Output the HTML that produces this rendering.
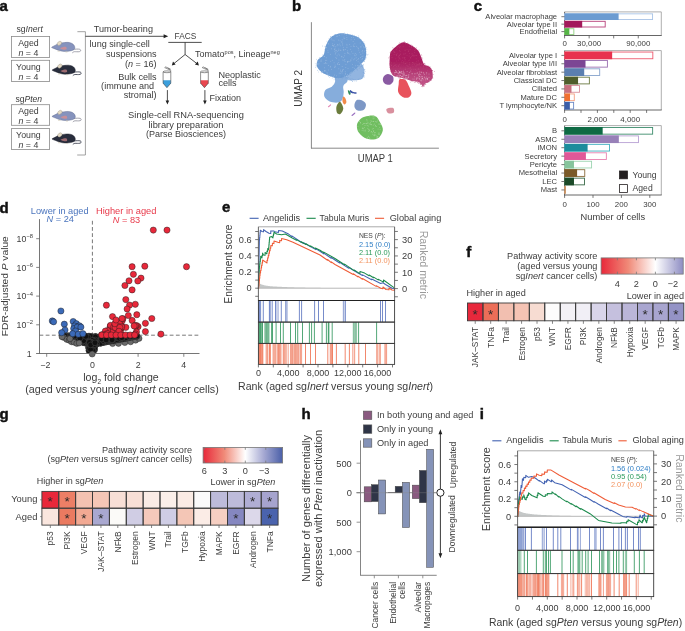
<!DOCTYPE html>
<html><head><meta charset="utf-8"><style>
html,body{margin:0;padding:0;background:#fff;width:685px;height:631px;overflow:hidden}
svg{display:block;will-change:transform}
text{font-family:"Liberation Sans",sans-serif}
</style></head><body>
<svg width="685" height="631" viewBox="0 0 685 631" font-family="Liberation Sans, sans-serif">
<rect width="685" height="631" fill="#fff"/>
<text x="-0.45" y="11.20" font-size="15" fill="#111" font-weight="bold" stroke="#111" stroke-width="0.45">a</text>
<text x="16.50" y="32.40" font-size="8.6" fill="#3c3c3c">sg<tspan font-style="italic">Inert</tspan></text>
<text x="15.40" y="101.50" font-size="8.6" fill="#3c3c3c">sg<tspan font-style="italic">Pten</tspan></text>
<rect x="11.40" y="36.50" width="38.20" height="20.90" fill="#fff" stroke="#8a8a8a" stroke-width="0.8"/>
<text x="28.40" y="46.10" font-size="8.8" fill="#3c3c3c" text-anchor="middle">Aged</text>
<text x="28.40" y="55.80" font-size="8.8" fill="#3c3c3c" text-anchor="middle"><tspan font-style="italic">n</tspan> = 4</text>
<rect x="11.40" y="60.30" width="38.20" height="21.10" fill="#fff" stroke="#8a8a8a" stroke-width="0.8"/>
<text x="28.40" y="69.90" font-size="8.8" fill="#3c3c3c" text-anchor="middle">Young</text>
<text x="28.40" y="79.60" font-size="8.8" fill="#3c3c3c" text-anchor="middle"><tspan font-style="italic">n</tspan> = 4</text>
<rect x="11.40" y="104.70" width="38.20" height="20.60" fill="#fff" stroke="#8a8a8a" stroke-width="0.8"/>
<text x="28.40" y="114.30" font-size="8.8" fill="#3c3c3c" text-anchor="middle">Aged</text>
<text x="28.40" y="124.00" font-size="8.8" fill="#3c3c3c" text-anchor="middle"><tspan font-style="italic">n</tspan> = 4</text>
<rect x="11.40" y="128.60" width="38.20" height="20.90" fill="#fff" stroke="#8a8a8a" stroke-width="0.8"/>
<text x="28.40" y="138.20" font-size="8.8" fill="#3c3c3c" text-anchor="middle">Young</text>
<text x="28.40" y="147.90" font-size="8.8" fill="#3c3c3c" text-anchor="middle"><tspan font-style="italic">n</tspan> = 4</text>
<g transform="translate(50.00,38.00)"><path d="M23.0,11.4 C25.5,11.1 28.3,10.9 29.8,11.3 C31.0,11.8 31.0,13.2 29.6,13.6 C27.8,14.0 25.6,13.6 24.4,13.7 C23.6,13.8 23.0,14.2 22.6,14.6" fill="none" stroke="#8c8c98" stroke-width="0.8" stroke-linecap="round"/><path d="M1.60,9.30 C1.75,9.00 2.83,8.54 3.47,8.19 C4.11,7.84 4.84,7.53 5.46,7.20 C6.08,6.87 6.70,6.49 7.20,6.20 C7.70,5.91 7.74,5.67 8.44,5.46 C9.14,5.25 10.42,5.11 11.41,4.96 C12.40,4.81 13.31,4.67 14.39,4.57 C15.47,4.47 16.80,4.30 17.87,4.37 C18.95,4.44 19.97,4.66 20.84,4.96 C21.71,5.26 22.48,5.70 23.08,6.20 C23.68,6.70 24.13,7.36 24.42,7.94 C24.71,8.52 24.83,9.14 24.81,9.68 C24.79,10.22 24.65,10.76 24.32,11.17 C23.99,11.58 23.57,11.86 22.83,12.16 C22.08,12.46 20.93,12.79 19.85,13.00 C18.78,13.21 17.62,13.37 16.38,13.40 C15.14,13.43 13.48,13.32 12.41,13.20 C11.34,13.08 10.76,12.92 9.93,12.70 C9.10,12.48 8.27,12.20 7.44,11.90 C6.61,11.60 5.77,11.22 4.96,10.90 C4.15,10.58 3.16,10.27 2.60,10.00 C2.04,9.73 1.46,9.60 1.60,9.30 Z" fill="#8693bd" stroke="#5f6a8c" stroke-width="0.45"/><path d="M9.9,10.2 C11.0,9.3 13.5,8.7 15.4,8.7 C16.5,9.0 16.9,10.1 16.5,11.3 C15.7,11.8 14.6,11.8 13.9,11.7 C12.6,11.5 11.0,11.0 9.9,10.2 Z" fill="#c98f98"/><ellipse cx="9.4" cy="5.3" rx="2.4" ry="1.75" transform="rotate(-38 9.4 5.3)" fill="#e6dcc6" stroke="#9a9282" stroke-width="0.4"/><path d="M7.5,13.1 L9.9,13.2 M15.4,13.9 L17.4,14.0" stroke="#d3ccb8" stroke-width="0.75"/></g>
<g transform="translate(50.50,60.80)"><path d="M23.0,11.4 C25.5,11.1 28.3,10.9 29.8,11.3 C31.0,11.8 31.0,13.2 29.6,13.6 C27.8,14.0 25.6,13.6 24.4,13.7 C23.6,13.8 23.0,14.2 22.6,14.6" fill="none" stroke="#2b3040" stroke-width="0.8" stroke-linecap="round"/><path d="M1.60,9.30 C1.75,9.00 2.83,8.54 3.47,8.19 C4.11,7.84 4.84,7.53 5.46,7.20 C6.08,6.87 6.70,6.49 7.20,6.20 C7.70,5.91 7.74,5.67 8.44,5.46 C9.14,5.25 10.42,5.11 11.41,4.96 C12.40,4.81 13.31,4.67 14.39,4.57 C15.47,4.47 16.80,4.30 17.87,4.37 C18.95,4.44 19.97,4.66 20.84,4.96 C21.71,5.26 22.48,5.70 23.08,6.20 C23.68,6.70 24.13,7.36 24.42,7.94 C24.71,8.52 24.83,9.14 24.81,9.68 C24.79,10.22 24.65,10.76 24.32,11.17 C23.99,11.58 23.57,11.86 22.83,12.16 C22.08,12.46 20.93,12.79 19.85,13.00 C18.78,13.21 17.62,13.37 16.38,13.40 C15.14,13.43 13.48,13.32 12.41,13.20 C11.34,13.08 10.76,12.92 9.93,12.70 C9.10,12.48 8.27,12.20 7.44,11.90 C6.61,11.60 5.77,11.22 4.96,10.90 C4.15,10.58 3.16,10.27 2.60,10.00 C2.04,9.73 1.46,9.60 1.60,9.30 Z" fill="#282d3c" stroke="#1b1e29" stroke-width="0.45"/><path d="M9.9,10.2 C11.0,9.3 13.5,8.7 15.4,8.7 C16.5,9.0 16.9,10.1 16.5,11.3 C15.7,11.8 14.6,11.8 13.9,11.7 C12.6,11.5 11.0,11.0 9.9,10.2 Z" fill="#9c6a70"/><ellipse cx="9.4" cy="5.3" rx="2.4" ry="1.75" transform="rotate(-38 9.4 5.3)" fill="#e6dcc6" stroke="#9a9282" stroke-width="0.4"/><path d="M7.5,13.1 L9.9,13.2 M15.4,13.9 L17.4,14.0" stroke="#d3ccb8" stroke-width="0.75"/></g>
<g transform="translate(50.50,107.10)"><path d="M23.0,11.4 C25.5,11.1 28.3,10.9 29.8,11.3 C31.0,11.8 31.0,13.2 29.6,13.6 C27.8,14.0 25.6,13.6 24.4,13.7 C23.6,13.8 23.0,14.2 22.6,14.6" fill="none" stroke="#8c8c98" stroke-width="0.8" stroke-linecap="round"/><path d="M1.60,9.30 C1.75,9.00 2.83,8.54 3.47,8.19 C4.11,7.84 4.84,7.53 5.46,7.20 C6.08,6.87 6.70,6.49 7.20,6.20 C7.70,5.91 7.74,5.67 8.44,5.46 C9.14,5.25 10.42,5.11 11.41,4.96 C12.40,4.81 13.31,4.67 14.39,4.57 C15.47,4.47 16.80,4.30 17.87,4.37 C18.95,4.44 19.97,4.66 20.84,4.96 C21.71,5.26 22.48,5.70 23.08,6.20 C23.68,6.70 24.13,7.36 24.42,7.94 C24.71,8.52 24.83,9.14 24.81,9.68 C24.79,10.22 24.65,10.76 24.32,11.17 C23.99,11.58 23.57,11.86 22.83,12.16 C22.08,12.46 20.93,12.79 19.85,13.00 C18.78,13.21 17.62,13.37 16.38,13.40 C15.14,13.43 13.48,13.32 12.41,13.20 C11.34,13.08 10.76,12.92 9.93,12.70 C9.10,12.48 8.27,12.20 7.44,11.90 C6.61,11.60 5.77,11.22 4.96,10.90 C4.15,10.58 3.16,10.27 2.60,10.00 C2.04,9.73 1.46,9.60 1.60,9.30 Z" fill="#8693bd" stroke="#5f6a8c" stroke-width="0.45"/><path d="M9.9,10.2 C11.0,9.3 13.5,8.7 15.4,8.7 C16.5,9.0 16.9,10.1 16.5,11.3 C15.7,11.8 14.6,11.8 13.9,11.7 C12.6,11.5 11.0,11.0 9.9,10.2 Z" fill="#c98f98"/><ellipse cx="9.4" cy="5.3" rx="2.4" ry="1.75" transform="rotate(-38 9.4 5.3)" fill="#e6dcc6" stroke="#9a9282" stroke-width="0.4"/><path d="M7.5,13.1 L9.9,13.2 M15.4,13.9 L17.4,14.0" stroke="#d3ccb8" stroke-width="0.75"/></g>
<g transform="translate(50.50,129.60)"><path d="M23.0,11.4 C25.5,11.1 28.3,10.9 29.8,11.3 C31.0,11.8 31.0,13.2 29.6,13.6 C27.8,14.0 25.6,13.6 24.4,13.7 C23.6,13.8 23.0,14.2 22.6,14.6" fill="none" stroke="#2b3040" stroke-width="0.8" stroke-linecap="round"/><path d="M1.60,9.30 C1.75,9.00 2.83,8.54 3.47,8.19 C4.11,7.84 4.84,7.53 5.46,7.20 C6.08,6.87 6.70,6.49 7.20,6.20 C7.70,5.91 7.74,5.67 8.44,5.46 C9.14,5.25 10.42,5.11 11.41,4.96 C12.40,4.81 13.31,4.67 14.39,4.57 C15.47,4.47 16.80,4.30 17.87,4.37 C18.95,4.44 19.97,4.66 20.84,4.96 C21.71,5.26 22.48,5.70 23.08,6.20 C23.68,6.70 24.13,7.36 24.42,7.94 C24.71,8.52 24.83,9.14 24.81,9.68 C24.79,10.22 24.65,10.76 24.32,11.17 C23.99,11.58 23.57,11.86 22.83,12.16 C22.08,12.46 20.93,12.79 19.85,13.00 C18.78,13.21 17.62,13.37 16.38,13.40 C15.14,13.43 13.48,13.32 12.41,13.20 C11.34,13.08 10.76,12.92 9.93,12.70 C9.10,12.48 8.27,12.20 7.44,11.90 C6.61,11.60 5.77,11.22 4.96,10.90 C4.15,10.58 3.16,10.27 2.60,10.00 C2.04,9.73 1.46,9.60 1.60,9.30 Z" fill="#282d3c" stroke="#1b1e29" stroke-width="0.45"/><path d="M9.9,10.2 C11.0,9.3 13.5,8.7 15.4,8.7 C16.5,9.0 16.9,10.1 16.5,11.3 C15.7,11.8 14.6,11.8 13.9,11.7 C12.6,11.5 11.0,11.0 9.9,10.2 Z" fill="#9c6a70"/><ellipse cx="9.4" cy="5.3" rx="2.4" ry="1.75" transform="rotate(-38 9.4 5.3)" fill="#e6dcc6" stroke="#9a9282" stroke-width="0.4"/><path d="M7.5,13.1 L9.9,13.2 M15.4,13.9 L17.4,14.0" stroke="#d3ccb8" stroke-width="0.75"/></g>
<path d="M77.4,31.7 H85.4 V155 H77.2" fill="none" stroke="#8a8a8a" stroke-width="0.8"/>
<line x1="85.40" y1="36.30" x2="165.50" y2="36.30" stroke="#222" stroke-width="0.8"/>
<path d="M168.2,36.3 L163.6,34.3 L163.6,38.3 Z" fill="#222"/>
<text x="93.70" y="31.90" font-size="9.1" fill="#3c3c3c">Tumor-bearing</text>
<text x="89.60" y="47.20" font-size="9.1" fill="#3c3c3c">lung single-cell</text>
<text x="156.60" y="56.80" font-size="9.1" fill="#3c3c3c" text-anchor="end">suspensions</text>
<text x="156.60" y="67.30" font-size="9.1" fill="#3c3c3c" text-anchor="end">(<tspan font-style="italic">n</tspan> = 16)</text>
<text x="156.60" y="80.40" font-size="9.1" fill="#3c3c3c" text-anchor="end">Bulk cells</text>
<text x="154.20" y="89.20" font-size="9.1" fill="#3c3c3c" text-anchor="end">(immune and</text>
<text x="156.60" y="97.60" font-size="9.1" fill="#3c3c3c" text-anchor="end">stromal)</text>
<text x="174.60" y="39.30" font-size="8.3" fill="#3c3c3c">FACS</text>
<line x1="168.30" y1="42.40" x2="201.70" y2="42.40" stroke="#222" stroke-width="0.8"/>
<line x1="185.10" y1="42.40" x2="185.10" y2="54.50" stroke="#222" stroke-width="0.8"/>
<path d="M185.1,54.5 L174.0,63.5 M185.1,54.5 L196.8,63.5" stroke="#222" stroke-width="0.8" fill="none"/>
<path d="M171.8,65.6 L173.0,61.6 L175.6,64.6 Z M198.9,65.6 L194.9,64.6 L197.8,61.6 Z" fill="#222"/>
<text x="195.10" y="57.00" font-size="9.0" fill="#3c3c3c">Tomato<tspan font-size="5.5" dy="-3.5">pos</tspan><tspan dy="3.5">, Lineage</tspan><tspan font-size="5.5" dy="-3.5">neg</tspan></text>
<text x="218.40" y="77.50" font-size="9.1" fill="#3c3c3c">Neoplastic</text>
<text x="218.40" y="85.90" font-size="9.1" fill="#3c3c3c">cells</text>
<g transform="translate(163.10,0)"><path d="M0,80.2 H7.7 V83.2 L3.85,87.7 L0,83.2 Z" fill="#3b9fdc"/><path d="M0,71.8 V83.2 L3.85,87.7 L7.7,83.2 V71.8" fill="none" stroke="#444" stroke-width="0.6"/><ellipse cx="3.85" cy="71.8" rx="3.85" ry="0.9" fill="none" stroke="#444" stroke-width="0.6"/><path d="M7.7,71.4 C7.8,70.0 6.5,68.8 4.6,68.0 M7.2,70.2 L1.6,67.6 L2.6,66.9 L7.7,69.3" fill="none" stroke="#555" stroke-width="0.6"/></g>
<g transform="translate(200.60,0)"><path d="M0,80.2 H7.7 V83.2 L3.85,87.7 L0,83.2 Z" fill="#e9474f"/><path d="M0,71.8 V83.2 L3.85,87.7 L7.7,83.2 V71.8" fill="none" stroke="#444" stroke-width="0.6"/><ellipse cx="3.85" cy="71.8" rx="3.85" ry="0.9" fill="none" stroke="#444" stroke-width="0.6"/><path d="M7.7,71.4 C7.8,70.0 6.5,68.8 4.6,68.0 M7.2,70.2 L1.6,67.6 L2.6,66.9 L7.7,69.3" fill="none" stroke="#555" stroke-width="0.6"/></g>
<line x1="167.40" y1="90.10" x2="167.40" y2="101.50" stroke="#222" stroke-width="0.8"/>
<line x1="204.90" y1="90.10" x2="204.90" y2="101.50" stroke="#222" stroke-width="0.8"/>
<path d="M167.4,104.6 L165.6,100.6 L169.2,100.6 Z M204.9,104.6 L203.1,100.6 L206.7,100.6 Z" fill="#222"/>
<text x="209.50" y="100.90" font-size="9.0" fill="#3c3c3c">Fixation</text>
<text x="186.00" y="118.30" font-size="9.3" fill="#3c3c3c" text-anchor="middle">Single-cell RNA-sequencing</text>
<text x="186.00" y="127.50" font-size="9.3" fill="#3c3c3c" text-anchor="middle">library preparation</text>
<text x="186.00" y="137.00" font-size="9.0" fill="#3c3c3c" text-anchor="middle">(Parse Biosciences)</text>
<text x="291.90" y="10.80" font-size="15" fill="#111" font-weight="bold" stroke="#111" stroke-width="0.45">b</text>
<defs><filter id="soft" x="-10%" y="-10%" width="120%" height="120%"><feGaussianBlur stdDeviation="0.55"/></filter></defs>
<path d="M360.18,63.24 C362.00,62.76 362.99,65.98 363.68,67.77 C364.36,69.55 364.60,72.09 364.30,73.94 C363.99,75.80 363.47,77.82 361.83,78.88 C360.18,79.95 356.75,80.19 354.41,80.33 C352.08,80.46 349.06,80.57 347.82,79.71 C346.59,78.85 346.18,76.69 347.00,75.18 C347.82,73.67 350.57,72.64 352.77,70.65 C354.96,68.66 358.36,63.72 360.18,63.24 Z" fill="#7fa8da" fill-opacity="0.85" filter="url(#soft)"/>
<path d="M335.47,75.18 C337.32,74.22 344.19,74.97 346.18,76.00 C348.17,77.03 347.89,79.71 347.41,81.35 C346.93,83.00 343.91,84.10 343.30,85.88 C342.68,87.67 343.88,89.80 343.71,92.06 C343.54,94.33 343.23,97.72 342.27,99.47 C341.30,101.22 340.04,102.22 337.94,102.56 C335.85,102.90 331.97,102.53 329.71,101.53 C327.44,100.54 325.07,98.51 324.35,96.59 C323.63,94.67 324.15,91.65 325.38,90.00 C326.62,88.35 330.15,88.08 331.77,86.71 C333.38,85.34 334.44,83.69 335.06,81.77 C335.68,79.84 333.62,76.14 335.47,75.18 Z" fill="#79a4d8" fill-opacity="0.9" filter="url(#soft)"/>
<path d="M344.12,33.38 C347.55,33.73 353.21,34.93 356.47,36.47 C359.73,38.02 362.07,40.25 363.68,42.65 C365.29,45.05 365.91,48.14 366.15,50.88 C366.39,53.63 365.98,56.92 365.12,59.12 C364.26,61.31 363.06,62.00 361.00,64.06 C358.94,66.12 355.24,69.48 352.77,71.47 C350.30,73.46 348.65,74.90 346.18,76.00 C343.71,77.10 340.69,78.06 337.94,78.06 C335.20,78.06 332.45,77.03 329.71,76.00 C326.96,74.97 323.60,73.50 321.47,71.88 C319.34,70.27 317.56,68.28 316.94,66.32 C316.32,64.37 316.67,62.04 317.77,60.15 C318.86,58.26 322.23,57.23 323.53,55.00 C324.83,52.77 324.56,49.51 325.59,46.77 C326.62,44.02 327.99,40.59 329.71,38.53 C331.42,36.47 333.48,35.27 335.88,34.41 C338.29,33.55 340.69,33.04 344.12,33.38 Z" fill="#6e9dd4" fill-opacity="1.0" filter="url(#soft)"/>
<defs><linearGradient id="magg" gradientUnits="userSpaceOnUse" x1="0" y1="42" x2="0" y2="87"><stop offset="0" stop-color="#a8195c"/><stop offset="0.45" stop-color="#aa1f60"/><stop offset="0.75" stop-color="#b9457c"/><stop offset="1" stop-color="#c55c8d"/></linearGradient></defs>
<path d="M404.60,42.40 C406.73,42.73 410.12,44.50 412.40,45.90 C414.68,47.30 416.82,48.85 418.30,50.80 C419.78,52.75 420.32,55.32 421.30,57.60 C422.28,59.88 422.90,63.02 424.20,64.50 C425.50,65.98 427.78,65.52 429.10,66.50 C430.42,67.48 431.52,68.60 432.10,70.40 C432.68,72.20 432.93,75.50 432.60,77.30 C432.27,79.10 431.50,80.05 430.10,81.20 C428.70,82.35 425.35,83.27 424.20,84.20 C423.05,85.13 424.02,87.13 423.20,86.80 C422.38,86.47 421.10,83.13 419.30,82.20 C417.50,81.27 414.53,81.68 412.40,81.20 C410.27,80.72 408.63,79.95 406.50,79.30 C404.37,78.65 401.88,77.97 399.60,77.30 C397.32,76.63 394.43,76.93 392.80,75.30 C391.17,73.67 390.30,70.45 389.80,67.50 C389.30,64.55 389.63,60.22 389.80,57.60 C389.97,54.98 389.82,53.60 390.80,51.80 C391.78,50.00 394.23,48.12 395.70,46.80 C397.17,45.48 398.12,44.63 399.60,43.90 C401.08,43.17 402.47,42.07 404.60,42.40 Z" fill="url(#magg)" fill-opacity="1.0" filter="url(#soft)"/>
<path d="M383.90,76.30 C384.73,75.25 386.42,73.90 387.90,73.90 C389.38,73.90 391.90,75.08 392.80,76.30 C393.70,77.52 393.80,79.80 393.30,81.20 C392.80,82.60 391.20,84.28 389.80,84.70 C388.40,85.12 386.05,84.45 384.90,83.70 C383.75,82.95 383.07,81.43 382.90,80.20 C382.73,78.97 383.07,77.35 383.90,76.30 Z" fill="#8a5aa2" fill-opacity="1.0" filter="url(#soft)"/>
<path d="M399.60,79.30 C400.73,78.60 404.02,79.02 405.50,80.00 C406.98,80.98 407.52,83.03 408.50,85.20 C409.48,87.37 411.40,90.97 411.40,93.00 C411.40,95.03 409.97,96.75 408.50,97.40 C407.03,98.05 404.32,97.80 402.60,96.90 C400.88,96.00 398.85,94.12 398.20,92.00 C397.55,89.88 398.47,86.32 398.70,84.20 C398.93,82.08 398.47,80.00 399.60,79.30 Z" fill="#e8535c" fill-opacity="1.0" filter="url(#soft)"/>
<path d="M364.71,116.77 C367.25,116.12 372.43,114.98 375.00,115.94 C377.58,116.90 378.85,120.16 380.15,122.53 C381.45,124.90 383.27,127.47 382.83,130.15 C382.38,132.83 380.15,137.15 377.47,138.59 C374.80,140.03 369.85,139.76 366.77,138.80 C363.68,137.84 360.59,135.06 358.94,132.83 C357.30,130.60 356.75,127.58 356.88,125.41 C357.02,123.25 358.46,121.30 359.77,119.86 C361.07,118.41 362.17,117.42 364.71,116.77 Z" fill="#70be60" fill-opacity="1.0" filter="url(#soft)"/>
<path d="M356.47,100.30 C357.84,99.34 361.07,100.02 362.65,100.71 C364.23,101.39 365.74,102.90 365.94,104.41 C366.15,105.92 365.26,108.74 363.88,109.77 C362.51,110.80 359.29,111.14 357.71,110.59 C356.13,110.04 354.62,108.19 354.41,106.47 C354.21,104.76 355.10,101.26 356.47,100.30 Z" fill="#7d98c6" fill-opacity="1.0" filter="url(#soft)"/>
<path d="M386.53,108.94 C387.32,108.05 391.92,107.33 393.12,107.91 C394.32,108.50 394.53,111.55 393.74,112.44 C392.95,113.34 389.59,113.85 388.38,113.27 C387.18,112.68 385.74,109.84 386.53,108.94 Z" fill="#d9909e" fill-opacity="1.0" filter="url(#soft)"/>
<path d="M343.09,96.59 C343.57,96.08 344.81,97.28 345.35,98.24 C345.90,99.20 346.56,101.33 346.38,102.36 C346.21,103.38 344.98,104.59 344.32,104.41 C343.67,104.24 342.68,102.63 342.47,101.33 C342.27,100.02 342.61,97.11 343.09,96.59 Z" fill="#f18a4a" fill-opacity="1.0" filter="url(#soft)"/>
<path d="M337.94,103.38 C338.63,102.46 339.52,101.09 340.41,101.94 C341.30,102.80 343.30,106.54 343.30,108.53 C343.30,110.52 341.44,113.13 340.41,113.89 C339.38,114.64 337.80,114.13 337.12,113.06 C336.43,112.00 336.16,109.12 336.30,107.50 C336.43,105.89 337.26,104.31 337.94,103.38 Z" fill="#6b7b3c" fill-opacity="1.0" filter="url(#soft)"/>
<path d="M350.30,90.00 C350.78,89.93 351.74,91.24 352.77,91.65 C353.80,92.06 355.92,92.13 356.47,92.47 C357.02,92.82 356.75,93.57 356.06,93.71 C355.37,93.85 353.38,93.57 352.35,93.30 C351.32,93.02 350.23,92.61 349.88,92.06 C349.54,91.51 349.82,90.07 350.30,90.00 Z" fill="#3d55a8" fill-opacity="1.0"/>
<path d="M347.82,90.62 C347.89,90.04 348.99,90.45 349.47,91.03 C349.95,91.61 350.78,93.54 350.71,94.12 C350.64,94.70 349.54,95.11 349.06,94.53 C348.58,93.95 347.76,91.20 347.82,90.62 Z" fill="#2e8a5a" fill-opacity="1.0"/>
<path d="M328.06,106.47 C328.40,105.99 330.05,104.62 330.53,104.41 C331.01,104.21 331.29,104.76 330.94,105.24 C330.60,105.72 328.95,107.09 328.47,107.30 C327.99,107.50 327.72,106.95 328.06,106.47 Z" fill="#e080b0" fill-opacity="1.0"/>
<path d="M351.53,115.12 C351.87,114.57 353.80,112.92 354.41,112.65 C355.03,112.38 355.58,112.92 355.24,113.47 C354.89,114.02 352.97,115.67 352.35,115.94 C351.74,116.22 351.19,115.67 351.53,115.12 Z" fill="#9a70c0" fill-opacity="1.0"/>
<circle cx="316.93" cy="66.81" r="0.45" fill="#6e9dd4" fill-opacity="0.6"/><circle cx="358.60" cy="62.57" r="0.45" fill="#6e9dd4" fill-opacity="0.6"/><circle cx="352.17" cy="71.80" r="0.45" fill="#6e9dd4" fill-opacity="0.6"/><circle cx="366.24" cy="47.65" r="0.45" fill="#6e9dd4" fill-opacity="0.6"/><circle cx="340.67" cy="77.12" r="0.45" fill="#6e9dd4" fill-opacity="0.6"/><circle cx="364.23" cy="70.17" r="0.45" fill="#6e9dd4" fill-opacity="0.6"/><circle cx="364.24" cy="60.94" r="0.45" fill="#6e9dd4" fill-opacity="0.6"/><circle cx="324.90" cy="73.27" r="0.45" fill="#6e9dd4" fill-opacity="0.6"/><circle cx="363.20" cy="72.62" r="0.45" fill="#6e9dd4" fill-opacity="0.6"/><circle cx="364.21" cy="46.50" r="0.45" fill="#6e9dd4" fill-opacity="0.6"/><circle cx="361.15" cy="66.39" r="0.45" fill="#6e9dd4" fill-opacity="0.6"/><circle cx="327.08" cy="44.42" r="0.45" fill="#6e9dd4" fill-opacity="0.6"/><circle cx="349.57" cy="61.00" r="0.45" fill="#6e9dd4" fill-opacity="0.6"/><circle cx="317.51" cy="70.55" r="0.45" fill="#6e9dd4" fill-opacity="0.6"/><circle cx="366.09" cy="55.89" r="0.45" fill="#6e9dd4" fill-opacity="0.6"/><circle cx="332.70" cy="36.70" r="0.45" fill="#6e9dd4" fill-opacity="0.6"/><circle cx="362.80" cy="65.22" r="0.45" fill="#6e9dd4" fill-opacity="0.6"/><circle cx="345.75" cy="78.16" r="0.45" fill="#6e9dd4" fill-opacity="0.6"/><circle cx="366.82" cy="49.18" r="0.45" fill="#6e9dd4" fill-opacity="0.6"/><circle cx="353.88" cy="79.43" r="0.45" fill="#6e9dd4" fill-opacity="0.6"/><circle cx="364.65" cy="73.16" r="0.45" fill="#6e9dd4" fill-opacity="0.6"/><circle cx="321.52" cy="57.53" r="0.45" fill="#6e9dd4" fill-opacity="0.6"/><circle cx="317.34" cy="65.52" r="0.45" fill="#6e9dd4" fill-opacity="0.6"/><circle cx="350.21" cy="58.93" r="0.45" fill="#6e9dd4" fill-opacity="0.6"/><circle cx="329.01" cy="38.59" r="0.45" fill="#6e9dd4" fill-opacity="0.6"/><circle cx="362.28" cy="62.56" r="0.45" fill="#6e9dd4" fill-opacity="0.6"/><circle cx="325.16" cy="45.98" r="0.45" fill="#6e9dd4" fill-opacity="0.6"/><circle cx="345.26" cy="76.96" r="0.45" fill="#6e9dd4" fill-opacity="0.6"/><circle cx="346.39" cy="75.47" r="0.45" fill="#6e9dd4" fill-opacity="0.6"/><circle cx="328.83" cy="76.45" r="0.45" fill="#6e9dd4" fill-opacity="0.6"/><circle cx="365.27" cy="71.14" r="0.45" fill="#6e9dd4" fill-opacity="0.6"/><circle cx="362.61" cy="76.08" r="0.45" fill="#6e9dd4" fill-opacity="0.6"/><circle cx="343.99" cy="34.02" r="0.45" fill="#6e9dd4" fill-opacity="0.6"/><circle cx="321.19" cy="58.95" r="0.45" fill="#6e9dd4" fill-opacity="0.6"/><circle cx="358.92" cy="37.54" r="0.45" fill="#6e9dd4" fill-opacity="0.6"/><circle cx="365.82" cy="53.69" r="0.45" fill="#6e9dd4" fill-opacity="0.6"/><circle cx="364.22" cy="61.34" r="0.45" fill="#6e9dd4" fill-opacity="0.6"/><circle cx="365.41" cy="49.48" r="0.45" fill="#6e9dd4" fill-opacity="0.6"/><circle cx="329.17" cy="75.41" r="0.45" fill="#6e9dd4" fill-opacity="0.6"/><circle cx="366.39" cy="57.83" r="0.45" fill="#6e9dd4" fill-opacity="0.6"/><circle cx="332.66" cy="38.56" r="0.45" fill="#6e9dd4" fill-opacity="0.6"/><circle cx="348.81" cy="73.46" r="0.45" fill="#6e9dd4" fill-opacity="0.6"/><circle cx="347.56" cy="33.74" r="0.45" fill="#6e9dd4" fill-opacity="0.6"/><circle cx="348.59" cy="77.45" r="0.45" fill="#6e9dd4" fill-opacity="0.6"/><circle cx="355.17" cy="79.39" r="0.45" fill="#6e9dd4" fill-opacity="0.6"/><circle cx="317.25" cy="61.27" r="0.45" fill="#6e9dd4" fill-opacity="0.6"/><circle cx="362.56" cy="67.39" r="0.45" fill="#6e9dd4" fill-opacity="0.6"/><circle cx="346.03" cy="37.14" r="0.45" fill="#6e9dd4" fill-opacity="0.6"/><circle cx="351.99" cy="72.65" r="0.45" fill="#6e9dd4" fill-opacity="0.6"/><circle cx="347.97" cy="75.19" r="0.45" fill="#6e9dd4" fill-opacity="0.6"/><circle cx="335.62" cy="77.10" r="0.45" fill="#6e9dd4" fill-opacity="0.6"/><circle cx="353.61" cy="70.44" r="0.45" fill="#6e9dd4" fill-opacity="0.6"/><circle cx="344.44" cy="76.38" r="0.45" fill="#6e9dd4" fill-opacity="0.6"/><circle cx="335.11" cy="34.84" r="0.45" fill="#6e9dd4" fill-opacity="0.6"/><circle cx="334.52" cy="35.98" r="0.45" fill="#6e9dd4" fill-opacity="0.6"/><circle cx="352.42" cy="81.27" r="0.45" fill="#6e9dd4" fill-opacity="0.6"/><circle cx="350.38" cy="75.23" r="0.45" fill="#6e9dd4" fill-opacity="0.6"/><circle cx="322.59" cy="70.87" r="0.45" fill="#6e9dd4" fill-opacity="0.6"/><circle cx="328.76" cy="42.93" r="0.45" fill="#6e9dd4" fill-opacity="0.6"/><circle cx="354.14" cy="71.65" r="0.45" fill="#6e9dd4" fill-opacity="0.6"/><circle cx="330.05" cy="41.61" r="0.45" fill="#6e9dd4" fill-opacity="0.6"/><circle cx="333.02" cy="36.84" r="0.45" fill="#6e9dd4" fill-opacity="0.6"/><circle cx="365.52" cy="57.69" r="0.45" fill="#6e9dd4" fill-opacity="0.6"/><circle cx="366.58" cy="54.79" r="0.45" fill="#6e9dd4" fill-opacity="0.6"/><circle cx="347.51" cy="75.95" r="0.45" fill="#6e9dd4" fill-opacity="0.6"/><circle cx="325.66" cy="73.05" r="0.45" fill="#6e9dd4" fill-opacity="0.6"/><circle cx="363.14" cy="66.74" r="0.45" fill="#6e9dd4" fill-opacity="0.6"/><circle cx="316.72" cy="59.21" r="0.45" fill="#6e9dd4" fill-opacity="0.6"/><circle cx="347.13" cy="45.95" r="0.45" fill="#6e9dd4" fill-opacity="0.6"/><circle cx="358.68" cy="63.79" r="0.45" fill="#6e9dd4" fill-opacity="0.6"/><circle cx="352.97" cy="63.87" r="0.45" fill="#6e9dd4" fill-opacity="0.6"/><circle cx="359.46" cy="64.76" r="0.45" fill="#6e9dd4" fill-opacity="0.6"/><circle cx="357.56" cy="38.34" r="0.45" fill="#6e9dd4" fill-opacity="0.6"/><circle cx="351.15" cy="66.41" r="0.45" fill="#6e9dd4" fill-opacity="0.6"/><circle cx="338.49" cy="78.61" r="0.45" fill="#6e9dd4" fill-opacity="0.6"/><circle cx="354.43" cy="35.16" r="0.45" fill="#6e9dd4" fill-opacity="0.6"/><circle cx="361.37" cy="78.34" r="0.45" fill="#6e9dd4" fill-opacity="0.6"/><circle cx="333.10" cy="76.89" r="0.45" fill="#6e9dd4" fill-opacity="0.6"/><circle cx="342.12" cy="75.77" r="0.45" fill="#6e9dd4" fill-opacity="0.6"/><circle cx="330.87" cy="75.74" r="0.45" fill="#6e9dd4" fill-opacity="0.6"/><circle cx="326.93" cy="46.38" r="0.45" fill="#6e9dd4" fill-opacity="0.6"/><circle cx="364.71" cy="48.48" r="0.45" fill="#6e9dd4" fill-opacity="0.6"/><circle cx="323.71" cy="72.42" r="0.45" fill="#6e9dd4" fill-opacity="0.6"/><circle cx="346.79" cy="77.36" r="0.45" fill="#6e9dd4" fill-opacity="0.6"/><circle cx="361.60" cy="66.32" r="0.45" fill="#6e9dd4" fill-opacity="0.6"/><circle cx="323.64" cy="56.86" r="0.45" fill="#6e9dd4" fill-opacity="0.6"/><circle cx="343.75" cy="76.84" r="0.45" fill="#6e9dd4" fill-opacity="0.6"/><circle cx="319.29" cy="69.89" r="0.45" fill="#6e9dd4" fill-opacity="0.6"/><circle cx="315.94" cy="65.85" r="0.45" fill="#6e9dd4" fill-opacity="0.6"/><circle cx="348.03" cy="34.48" r="0.45" fill="#6e9dd4" fill-opacity="0.6"/><circle cx="364.59" cy="43.22" r="0.45" fill="#6e9dd4" fill-opacity="0.6"/><circle cx="365.76" cy="53.73" r="0.45" fill="#6e9dd4" fill-opacity="0.6"/><circle cx="359.49" cy="66.83" r="0.45" fill="#6e9dd4" fill-opacity="0.6"/><circle cx="348.99" cy="80.39" r="0.45" fill="#6e9dd4" fill-opacity="0.6"/><circle cx="349.61" cy="50.45" r="0.45" fill="#6e9dd4" fill-opacity="0.6"/><circle cx="363.10" cy="43.35" r="0.45" fill="#6e9dd4" fill-opacity="0.6"/><circle cx="329.02" cy="74.78" r="0.45" fill="#6e9dd4" fill-opacity="0.6"/><circle cx="365.32" cy="48.43" r="0.45" fill="#6e9dd4" fill-opacity="0.6"/><circle cx="365.01" cy="55.70" r="0.45" fill="#6e9dd4" fill-opacity="0.6"/><circle cx="334.34" cy="77.20" r="0.45" fill="#6e9dd4" fill-opacity="0.6"/><circle cx="365.10" cy="59.50" r="0.45" fill="#6e9dd4" fill-opacity="0.6"/><circle cx="323.86" cy="73.28" r="0.45" fill="#6e9dd4" fill-opacity="0.6"/><circle cx="328.05" cy="43.48" r="0.45" fill="#6e9dd4" fill-opacity="0.6"/><circle cx="356.59" cy="36.50" r="0.45" fill="#6e9dd4" fill-opacity="0.6"/><circle cx="349.69" cy="51.35" r="0.45" fill="#6e9dd4" fill-opacity="0.6"/><circle cx="326.47" cy="44.92" r="0.45" fill="#6e9dd4" fill-opacity="0.6"/><circle cx="335.11" cy="34.58" r="0.45" fill="#6e9dd4" fill-opacity="0.6"/><circle cx="324.95" cy="73.07" r="0.45" fill="#6e9dd4" fill-opacity="0.6"/><circle cx="349.15" cy="78.73" r="0.45" fill="#6e9dd4" fill-opacity="0.6"/><circle cx="363.90" cy="41.77" r="0.45" fill="#6e9dd4" fill-opacity="0.6"/><circle cx="335.79" cy="77.68" r="0.45" fill="#6e9dd4" fill-opacity="0.6"/><circle cx="322.39" cy="54.95" r="0.45" fill="#6e9dd4" fill-opacity="0.6"/><circle cx="341.09" cy="77.61" r="0.45" fill="#6e9dd4" fill-opacity="0.6"/><circle cx="334.06" cy="79.69" r="0.45" fill="#6e9dd4" fill-opacity="0.6"/><circle cx="363.33" cy="65.15" r="0.45" fill="#6e9dd4" fill-opacity="0.6"/><circle cx="351.40" cy="73.09" r="0.45" fill="#6e9dd4" fill-opacity="0.6"/><circle cx="331.01" cy="36.75" r="0.45" fill="#6e9dd4" fill-opacity="0.6"/><circle cx="352.68" cy="70.90" r="0.45" fill="#6e9dd4" fill-opacity="0.6"/><circle cx="320.48" cy="57.65" r="0.45" fill="#6e9dd4" fill-opacity="0.6"/><circle cx="359.05" cy="78.59" r="0.45" fill="#6e9dd4" fill-opacity="0.6"/><circle cx="352.79" cy="63.77" r="0.45" fill="#6e9dd4" fill-opacity="0.6"/><circle cx="362.00" cy="78.43" r="0.45" fill="#6e9dd4" fill-opacity="0.6"/><circle cx="363.54" cy="60.14" r="0.45" fill="#6e9dd4" fill-opacity="0.6"/><circle cx="345.96" cy="74.50" r="0.45" fill="#6e9dd4" fill-opacity="0.6"/><circle cx="338.10" cy="38.25" r="0.45" fill="#6e9dd4" fill-opacity="0.6"/><circle cx="352.50" cy="34.87" r="0.45" fill="#6e9dd4" fill-opacity="0.6"/><circle cx="347.85" cy="79.40" r="0.45" fill="#6e9dd4" fill-opacity="0.6"/><circle cx="357.13" cy="37.65" r="0.45" fill="#6e9dd4" fill-opacity="0.6"/><circle cx="326.91" cy="41.16" r="0.45" fill="#6e9dd4" fill-opacity="0.6"/><circle cx="352.71" cy="81.28" r="0.45" fill="#6e9dd4" fill-opacity="0.6"/><circle cx="364.29" cy="48.79" r="0.45" fill="#6e9dd4" fill-opacity="0.6"/><circle cx="350.92" cy="78.87" r="0.45" fill="#6e9dd4" fill-opacity="0.6"/><circle cx="365.93" cy="51.29" r="0.45" fill="#6e9dd4" fill-opacity="0.6"/><circle cx="341.24" cy="77.35" r="0.45" fill="#6e9dd4" fill-opacity="0.6"/><circle cx="318.90" cy="59.31" r="0.45" fill="#6e9dd4" fill-opacity="0.6"/><circle cx="360.67" cy="39.97" r="0.45" fill="#6e9dd4" fill-opacity="0.6"/><circle cx="362.86" cy="59.51" r="0.45" fill="#6e9dd4" fill-opacity="0.6"/><circle cx="363.25" cy="76.78" r="0.45" fill="#6e9dd4" fill-opacity="0.6"/><circle cx="330.50" cy="76.47" r="0.45" fill="#6e9dd4" fill-opacity="0.6"/><circle cx="330.39" cy="37.22" r="0.45" fill="#6e9dd4" fill-opacity="0.6"/><circle cx="330.01" cy="40.39" r="0.45" fill="#6e9dd4" fill-opacity="0.6"/><circle cx="321.82" cy="71.90" r="0.45" fill="#6e9dd4" fill-opacity="0.6"/><circle cx="322.67" cy="46.00" r="0.45" fill="#6e9dd4" fill-opacity="0.6"/><circle cx="336.76" cy="76.11" r="0.45" fill="#6e9dd4" fill-opacity="0.6"/><circle cx="365.88" cy="48.38" r="0.45" fill="#6e9dd4" fill-opacity="0.6"/><circle cx="317.56" cy="64.43" r="0.45" fill="#6e9dd4" fill-opacity="0.6"/><circle cx="365.67" cy="58.80" r="0.45" fill="#6e9dd4" fill-opacity="0.6"/><circle cx="333.46" cy="38.97" r="0.45" fill="#6e9dd4" fill-opacity="0.6"/><circle cx="351.27" cy="80.57" r="0.45" fill="#6e9dd4" fill-opacity="0.6"/><circle cx="317.90" cy="64.62" r="0.45" fill="#6e9dd4" fill-opacity="0.6"/><circle cx="318.34" cy="67.28" r="0.45" fill="#6e9dd4" fill-opacity="0.6"/><circle cx="348.74" cy="74.22" r="0.45" fill="#6e9dd4" fill-opacity="0.6"/><circle cx="315.44" cy="67.21" r="0.45" fill="#6e9dd4" fill-opacity="0.6"/><circle cx="363.85" cy="45.97" r="0.45" fill="#6e9dd4" fill-opacity="0.6"/><circle cx="359.89" cy="38.67" r="0.45" fill="#6e9dd4" fill-opacity="0.6"/><circle cx="354.89" cy="81.02" r="0.45" fill="#6e9dd4" fill-opacity="0.6"/><circle cx="343.81" cy="41.77" r="0.45" fill="#6e9dd4" fill-opacity="0.6"/><circle cx="325.89" cy="46.41" r="0.45" fill="#6e9dd4" fill-opacity="0.6"/><circle cx="362.04" cy="65.41" r="0.45" fill="#6e9dd4" fill-opacity="0.6"/><circle cx="348.96" cy="72.96" r="0.45" fill="#6e9dd4" fill-opacity="0.6"/><circle cx="326.78" cy="73.34" r="0.45" fill="#6e9dd4" fill-opacity="0.6"/><circle cx="356.65" cy="68.26" r="0.45" fill="#6e9dd4" fill-opacity="0.6"/><circle cx="350.67" cy="71.00" r="0.45" fill="#6e9dd4" fill-opacity="0.6"/><circle cx="342.76" cy="76.27" r="0.45" fill="#6e9dd4" fill-opacity="0.6"/><circle cx="356.75" cy="69.36" r="0.45" fill="#6e9dd4" fill-opacity="0.6"/><circle cx="332.25" cy="36.53" r="0.45" fill="#6e9dd4" fill-opacity="0.6"/><circle cx="349.29" cy="54.38" r="0.45" fill="#6e9dd4" fill-opacity="0.6"/><circle cx="363.29" cy="43.78" r="0.45" fill="#6e9dd4" fill-opacity="0.6"/><circle cx="315.26" cy="63.84" r="0.45" fill="#6e9dd4" fill-opacity="0.6"/><circle cx="350.79" cy="72.35" r="0.45" fill="#6e9dd4" fill-opacity="0.6"/><circle cx="350.09" cy="73.48" r="0.45" fill="#6e9dd4" fill-opacity="0.6"/><circle cx="332.24" cy="78.05" r="0.45" fill="#6e9dd4" fill-opacity="0.6"/><circle cx="351.63" cy="52.03" r="0.45" fill="#6e9dd4" fill-opacity="0.6"/><circle cx="329.48" cy="77.17" r="0.45" fill="#6e9dd4" fill-opacity="0.6"/><circle cx="326.67" cy="45.49" r="0.45" fill="#6e9dd4" fill-opacity="0.6"/><circle cx="344.18" cy="34.54" r="0.45" fill="#6e9dd4" fill-opacity="0.6"/><circle cx="335.30" cy="34.57" r="0.45" fill="#6e9dd4" fill-opacity="0.6"/><circle cx="357.41" cy="58.94" r="0.45" fill="#6e9dd4" fill-opacity="0.6"/><circle cx="367.46" cy="54.91" r="0.45" fill="#6e9dd4" fill-opacity="0.6"/><circle cx="364.92" cy="57.22" r="0.45" fill="#6e9dd4" fill-opacity="0.6"/><circle cx="346.52" cy="38.18" r="0.45" fill="#6e9dd4" fill-opacity="0.6"/><circle cx="354.03" cy="38.03" r="0.45" fill="#6e9dd4" fill-opacity="0.6"/><circle cx="357.89" cy="79.59" r="0.45" fill="#6e9dd4" fill-opacity="0.6"/><circle cx="351.19" cy="52.29" r="0.45" fill="#6e9dd4" fill-opacity="0.6"/><circle cx="365.03" cy="44.89" r="0.45" fill="#6e9dd4" fill-opacity="0.6"/><circle cx="335.98" cy="77.51" r="0.45" fill="#6e9dd4" fill-opacity="0.6"/><circle cx="321.35" cy="72.76" r="0.45" fill="#6e9dd4" fill-opacity="0.6"/><circle cx="342.34" cy="77.73" r="0.45" fill="#6e9dd4" fill-opacity="0.6"/><circle cx="324.91" cy="49.39" r="0.45" fill="#6e9dd4" fill-opacity="0.6"/><circle cx="334.92" cy="34.56" r="0.45" fill="#6e9dd4" fill-opacity="0.6"/><circle cx="341.32" cy="77.05" r="0.45" fill="#6e9dd4" fill-opacity="0.6"/><circle cx="361.30" cy="39.84" r="0.45" fill="#6e9dd4" fill-opacity="0.6"/><circle cx="319.38" cy="57.56" r="0.45" fill="#6e9dd4" fill-opacity="0.6"/><circle cx="336.85" cy="36.37" r="0.45" fill="#6e9dd4" fill-opacity="0.6"/><circle cx="345.76" cy="40.79" r="0.45" fill="#6e9dd4" fill-opacity="0.6"/><circle cx="346.16" cy="38.39" r="0.45" fill="#6e9dd4" fill-opacity="0.6"/><circle cx="364.01" cy="75.89" r="0.45" fill="#6e9dd4" fill-opacity="0.6"/><circle cx="352.17" cy="79.02" r="0.45" fill="#6e9dd4" fill-opacity="0.6"/><circle cx="358.55" cy="37.70" r="0.45" fill="#6e9dd4" fill-opacity="0.6"/><circle cx="362.03" cy="41.86" r="0.45" fill="#6e9dd4" fill-opacity="0.6"/><circle cx="346.72" cy="72.26" r="0.45" fill="#6e9dd4" fill-opacity="0.6"/><circle cx="359.21" cy="68.65" r="0.45" fill="#6e9dd4" fill-opacity="0.6"/><circle cx="349.09" cy="74.55" r="0.45" fill="#6e9dd4" fill-opacity="0.6"/><circle cx="317.30" cy="60.41" r="0.45" fill="#6e9dd4" fill-opacity="0.6"/><circle cx="362.88" cy="46.96" r="0.45" fill="#6e9dd4" fill-opacity="0.6"/><circle cx="365.63" cy="54.53" r="0.45" fill="#6e9dd4" fill-opacity="0.6"/><circle cx="346.13" cy="39.07" r="0.45" fill="#6e9dd4" fill-opacity="0.6"/><circle cx="361.97" cy="42.00" r="0.45" fill="#6e9dd4" fill-opacity="0.6"/><circle cx="324.98" cy="46.78" r="0.45" fill="#6e9dd4" fill-opacity="0.6"/><circle cx="351.94" cy="36.73" r="0.45" fill="#6e9dd4" fill-opacity="0.6"/><circle cx="318.35" cy="60.02" r="0.45" fill="#6e9dd4" fill-opacity="0.6"/><circle cx="358.29" cy="35.92" r="0.45" fill="#6e9dd4" fill-opacity="0.6"/><circle cx="318.57" cy="72.00" r="0.45" fill="#6e9dd4" fill-opacity="0.6"/><circle cx="358.18" cy="37.24" r="0.45" fill="#6e9dd4" fill-opacity="0.6"/><circle cx="335.25" cy="76.12" r="0.45" fill="#6e9dd4" fill-opacity="0.6"/><circle cx="356.52" cy="80.99" r="0.45" fill="#6e9dd4" fill-opacity="0.6"/><circle cx="368.05" cy="54.13" r="0.45" fill="#6e9dd4" fill-opacity="0.6"/><circle cx="323.89" cy="55.13" r="0.45" fill="#6e9dd4" fill-opacity="0.6"/><circle cx="362.03" cy="65.35" r="0.45" fill="#6e9dd4" fill-opacity="0.6"/><circle cx="348.55" cy="73.27" r="0.45" fill="#6e9dd4" fill-opacity="0.6"/><circle cx="343.08" cy="77.54" r="0.45" fill="#6e9dd4" fill-opacity="0.6"/><circle cx="364.64" cy="75.91" r="0.45" fill="#6e9dd4" fill-opacity="0.6"/><circle cx="342.14" cy="75.92" r="0.45" fill="#6e9dd4" fill-opacity="0.6"/><circle cx="363.38" cy="64.46" r="0.45" fill="#6e9dd4" fill-opacity="0.6"/><circle cx="364.72" cy="45.06" r="0.45" fill="#6e9dd4" fill-opacity="0.6"/><circle cx="336.42" cy="34.35" r="0.45" fill="#6e9dd4" fill-opacity="0.6"/><circle cx="362.31" cy="60.15" r="0.45" fill="#6e9dd4" fill-opacity="0.6"/><circle cx="350.36" cy="71.07" r="0.45" fill="#6e9dd4" fill-opacity="0.6"/><circle cx="345.14" cy="40.56" r="0.45" fill="#6e9dd4" fill-opacity="0.6"/><circle cx="317.08" cy="65.83" r="0.45" fill="#6e9dd4" fill-opacity="0.6"/><circle cx="360.17" cy="67.58" r="0.45" fill="#6e9dd4" fill-opacity="0.6"/><circle cx="364.49" cy="69.23" r="0.45" fill="#6e9dd4" fill-opacity="0.6"/><circle cx="342.21" cy="78.85" r="0.45" fill="#6e9dd4" fill-opacity="0.6"/><circle cx="358.48" cy="79.57" r="0.45" fill="#6e9dd4" fill-opacity="0.6"/><circle cx="339.50" cy="77.59" r="0.45" fill="#6e9dd4" fill-opacity="0.6"/><circle cx="329.08" cy="75.46" r="0.45" fill="#6e9dd4" fill-opacity="0.6"/><circle cx="364.87" cy="69.51" r="0.45" fill="#6e9dd4" fill-opacity="0.6"/><circle cx="357.19" cy="69.12" r="0.45" fill="#6e9dd4" fill-opacity="0.6"/><circle cx="344.28" cy="32.92" r="0.45" fill="#6e9dd4" fill-opacity="0.6"/><circle cx="352.36" cy="71.90" r="0.45" fill="#6e9dd4" fill-opacity="0.6"/><circle cx="337.38" cy="75.78" r="0.45" fill="#6e9dd4" fill-opacity="0.6"/><circle cx="353.42" cy="36.43" r="0.45" fill="#6e9dd4" fill-opacity="0.6"/><circle cx="364.04" cy="77.19" r="0.45" fill="#6e9dd4" fill-opacity="0.6"/><circle cx="360.38" cy="66.40" r="0.45" fill="#6e9dd4" fill-opacity="0.6"/><circle cx="350.51" cy="79.65" r="0.45" fill="#6e9dd4" fill-opacity="0.6"/><circle cx="357.33" cy="69.96" r="0.45" fill="#6e9dd4" fill-opacity="0.6"/><circle cx="353.21" cy="79.88" r="0.45" fill="#6e9dd4" fill-opacity="0.6"/><circle cx="364.06" cy="73.32" r="0.45" fill="#6e9dd4" fill-opacity="0.6"/><circle cx="343.71" cy="34.01" r="0.45" fill="#6e9dd4" fill-opacity="0.6"/><circle cx="350.33" cy="72.96" r="0.45" fill="#6e9dd4" fill-opacity="0.6"/><circle cx="357.95" cy="66.28" r="0.45" fill="#6e9dd4" fill-opacity="0.6"/><circle cx="317.41" cy="63.63" r="0.45" fill="#6e9dd4" fill-opacity="0.6"/><circle cx="361.03" cy="62.94" r="0.45" fill="#6e9dd4" fill-opacity="0.6"/><circle cx="363.25" cy="72.47" r="0.45" fill="#6e9dd4" fill-opacity="0.6"/><circle cx="364.01" cy="61.36" r="0.45" fill="#6e9dd4" fill-opacity="0.6"/><circle cx="362.14" cy="43.65" r="0.45" fill="#6e9dd4" fill-opacity="0.6"/><circle cx="350.93" cy="72.58" r="0.45" fill="#6e9dd4" fill-opacity="0.6"/><circle cx="330.54" cy="36.34" r="0.45" fill="#6e9dd4" fill-opacity="0.6"/><circle cx="364.55" cy="48.81" r="0.45" fill="#6e9dd4" fill-opacity="0.6"/><circle cx="356.59" cy="67.71" r="0.45" fill="#6e9dd4" fill-opacity="0.6"/>
<circle cx="399.21" cy="43.95" r="0.45" fill="#b03a70" fill-opacity="0.6"/><circle cx="432.50" cy="70.53" r="0.45" fill="#b03a70" fill-opacity="0.6"/><circle cx="418.47" cy="83.20" r="0.45" fill="#b03a70" fill-opacity="0.6"/><circle cx="431.03" cy="70.23" r="0.45" fill="#b03a70" fill-opacity="0.6"/><circle cx="416.03" cy="49.79" r="0.45" fill="#b03a70" fill-opacity="0.6"/><circle cx="395.44" cy="75.77" r="0.45" fill="#b03a70" fill-opacity="0.6"/><circle cx="404.38" cy="79.38" r="0.45" fill="#b03a70" fill-opacity="0.6"/><circle cx="416.08" cy="81.81" r="0.45" fill="#b03a70" fill-opacity="0.6"/><circle cx="398.80" cy="44.11" r="0.45" fill="#b03a70" fill-opacity="0.6"/><circle cx="398.32" cy="44.65" r="0.45" fill="#b03a70" fill-opacity="0.6"/><circle cx="392.20" cy="72.45" r="0.45" fill="#b03a70" fill-opacity="0.6"/><circle cx="417.89" cy="82.41" r="0.45" fill="#b03a70" fill-opacity="0.6"/><circle cx="413.72" cy="47.25" r="0.45" fill="#b03a70" fill-opacity="0.6"/><circle cx="419.93" cy="83.21" r="0.45" fill="#b03a70" fill-opacity="0.6"/><circle cx="389.10" cy="57.64" r="0.45" fill="#b03a70" fill-opacity="0.6"/><circle cx="412.42" cy="45.37" r="0.45" fill="#b03a70" fill-opacity="0.6"/><circle cx="422.67" cy="58.84" r="0.45" fill="#b03a70" fill-opacity="0.6"/><circle cx="431.07" cy="68.69" r="0.45" fill="#b03a70" fill-opacity="0.6"/><circle cx="415.08" cy="82.21" r="0.45" fill="#b03a70" fill-opacity="0.6"/><circle cx="396.93" cy="45.65" r="0.45" fill="#b03a70" fill-opacity="0.6"/><circle cx="388.87" cy="58.07" r="0.45" fill="#b03a70" fill-opacity="0.6"/><circle cx="397.59" cy="45.51" r="0.45" fill="#b03a70" fill-opacity="0.6"/><circle cx="429.94" cy="67.65" r="0.45" fill="#b03a70" fill-opacity="0.6"/><circle cx="420.31" cy="83.75" r="0.45" fill="#b03a70" fill-opacity="0.6"/><circle cx="424.85" cy="63.32" r="0.45" fill="#b03a70" fill-opacity="0.6"/><circle cx="394.56" cy="75.49" r="0.45" fill="#b03a70" fill-opacity="0.6"/><circle cx="420.69" cy="59.03" r="0.45" fill="#b03a70" fill-opacity="0.6"/><circle cx="418.39" cy="81.88" r="0.45" fill="#b03a70" fill-opacity="0.6"/><circle cx="417.46" cy="82.12" r="0.45" fill="#b03a70" fill-opacity="0.6"/><circle cx="399.84" cy="45.03" r="0.45" fill="#b03a70" fill-opacity="0.6"/><circle cx="429.65" cy="81.83" r="0.45" fill="#b03a70" fill-opacity="0.6"/><circle cx="420.33" cy="82.93" r="0.45" fill="#b03a70" fill-opacity="0.6"/><circle cx="422.82" cy="86.15" r="0.45" fill="#b03a70" fill-opacity="0.6"/><circle cx="413.32" cy="47.56" r="0.45" fill="#b03a70" fill-opacity="0.6"/><circle cx="404.48" cy="42.35" r="0.45" fill="#b03a70" fill-opacity="0.6"/><circle cx="389.95" cy="64.88" r="0.45" fill="#b03a70" fill-opacity="0.6"/><circle cx="390.58" cy="52.11" r="0.45" fill="#b03a70" fill-opacity="0.6"/><circle cx="429.99" cy="66.82" r="0.45" fill="#b03a70" fill-opacity="0.6"/><circle cx="426.77" cy="65.55" r="0.45" fill="#b03a70" fill-opacity="0.6"/><circle cx="427.72" cy="82.51" r="0.45" fill="#b03a70" fill-opacity="0.6"/><circle cx="404.44" cy="42.08" r="0.45" fill="#b03a70" fill-opacity="0.6"/><circle cx="394.03" cy="49.14" r="0.45" fill="#b03a70" fill-opacity="0.6"/><circle cx="432.44" cy="77.94" r="0.45" fill="#b03a70" fill-opacity="0.6"/><circle cx="407.79" cy="44.06" r="0.45" fill="#b03a70" fill-opacity="0.6"/><circle cx="419.76" cy="57.16" r="0.45" fill="#b03a70" fill-opacity="0.6"/><circle cx="425.23" cy="65.21" r="0.45" fill="#b03a70" fill-opacity="0.6"/><circle cx="402.98" cy="42.54" r="0.45" fill="#b03a70" fill-opacity="0.6"/><circle cx="422.56" cy="82.77" r="0.45" fill="#b03a70" fill-opacity="0.6"/><circle cx="392.00" cy="69.77" r="0.45" fill="#b03a70" fill-opacity="0.6"/><circle cx="398.81" cy="76.78" r="0.45" fill="#b03a70" fill-opacity="0.6"/><circle cx="421.84" cy="59.12" r="0.45" fill="#b03a70" fill-opacity="0.6"/><circle cx="425.81" cy="84.22" r="0.45" fill="#b03a70" fill-opacity="0.6"/><circle cx="403.39" cy="77.00" r="0.45" fill="#b03a70" fill-opacity="0.6"/><circle cx="424.04" cy="85.76" r="0.45" fill="#b03a70" fill-opacity="0.6"/><circle cx="389.77" cy="67.86" r="0.45" fill="#b03a70" fill-opacity="0.6"/><circle cx="432.56" cy="76.30" r="0.45" fill="#b03a70" fill-opacity="0.6"/><circle cx="410.57" cy="82.10" r="0.45" fill="#b03a70" fill-opacity="0.6"/><circle cx="405.54" cy="42.36" r="0.45" fill="#b03a70" fill-opacity="0.6"/><circle cx="390.85" cy="53.96" r="0.45" fill="#b03a70" fill-opacity="0.6"/><circle cx="407.87" cy="43.03" r="0.45" fill="#b03a70" fill-opacity="0.6"/><circle cx="422.69" cy="86.84" r="0.45" fill="#b03a70" fill-opacity="0.6"/><circle cx="395.36" cy="47.37" r="0.45" fill="#b03a70" fill-opacity="0.6"/><circle cx="424.12" cy="63.53" r="0.45" fill="#b03a70" fill-opacity="0.6"/><circle cx="405.49" cy="43.28" r="0.45" fill="#b03a70" fill-opacity="0.6"/><circle cx="416.49" cy="49.06" r="0.45" fill="#b03a70" fill-opacity="0.6"/><circle cx="395.08" cy="49.64" r="0.45" fill="#b03a70" fill-opacity="0.6"/><circle cx="391.98" cy="53.00" r="0.45" fill="#b03a70" fill-opacity="0.6"/><circle cx="411.86" cy="81.32" r="0.45" fill="#b03a70" fill-opacity="0.6"/><circle cx="418.99" cy="49.93" r="0.45" fill="#b03a70" fill-opacity="0.6"/><circle cx="420.38" cy="55.99" r="0.45" fill="#b03a70" fill-opacity="0.6"/><circle cx="421.95" cy="57.54" r="0.45" fill="#b03a70" fill-opacity="0.6"/><circle cx="423.75" cy="85.10" r="0.45" fill="#b03a70" fill-opacity="0.6"/><circle cx="425.74" cy="84.34" r="0.45" fill="#b03a70" fill-opacity="0.6"/><circle cx="419.56" cy="82.79" r="0.45" fill="#b03a70" fill-opacity="0.6"/><circle cx="424.29" cy="85.95" r="0.45" fill="#b03a70" fill-opacity="0.6"/><circle cx="403.56" cy="78.72" r="0.45" fill="#b03a70" fill-opacity="0.6"/><circle cx="415.86" cy="49.90" r="0.45" fill="#b03a70" fill-opacity="0.6"/><circle cx="419.85" cy="55.44" r="0.45" fill="#b03a70" fill-opacity="0.6"/><circle cx="389.95" cy="63.57" r="0.45" fill="#b03a70" fill-opacity="0.6"/><circle cx="408.20" cy="44.23" r="0.45" fill="#b03a70" fill-opacity="0.6"/><circle cx="430.53" cy="69.31" r="0.45" fill="#b03a70" fill-opacity="0.6"/><circle cx="390.34" cy="64.72" r="0.45" fill="#b03a70" fill-opacity="0.6"/><circle cx="432.62" cy="77.29" r="0.45" fill="#b03a70" fill-opacity="0.6"/><circle cx="401.29" cy="42.88" r="0.45" fill="#b03a70" fill-opacity="0.6"/><circle cx="390.13" cy="52.56" r="0.45" fill="#b03a70" fill-opacity="0.6"/><circle cx="407.82" cy="78.71" r="0.45" fill="#b03a70" fill-opacity="0.6"/><circle cx="400.84" cy="77.60" r="0.45" fill="#b03a70" fill-opacity="0.6"/><circle cx="427.16" cy="82.36" r="0.45" fill="#b03a70" fill-opacity="0.6"/><circle cx="399.93" cy="43.76" r="0.45" fill="#b03a70" fill-opacity="0.6"/><circle cx="397.86" cy="45.43" r="0.45" fill="#b03a70" fill-opacity="0.6"/><circle cx="427.61" cy="66.51" r="0.45" fill="#b03a70" fill-opacity="0.6"/><circle cx="421.42" cy="86.47" r="0.45" fill="#b03a70" fill-opacity="0.6"/><circle cx="391.43" cy="51.51" r="0.45" fill="#b03a70" fill-opacity="0.6"/><circle cx="431.20" cy="80.45" r="0.45" fill="#b03a70" fill-opacity="0.6"/><circle cx="396.60" cy="46.79" r="0.45" fill="#b03a70" fill-opacity="0.6"/><circle cx="420.55" cy="84.45" r="0.45" fill="#b03a70" fill-opacity="0.6"/><circle cx="434.41" cy="71.55" r="0.45" fill="#b03a70" fill-opacity="0.6"/><circle cx="432.54" cy="70.66" r="0.45" fill="#b03a70" fill-opacity="0.6"/><circle cx="428.02" cy="65.35" r="0.45" fill="#b03a70" fill-opacity="0.6"/><circle cx="432.64" cy="70.85" r="0.45" fill="#b03a70" fill-opacity="0.6"/><circle cx="411.03" cy="80.43" r="0.45" fill="#b03a70" fill-opacity="0.6"/><circle cx="400.72" cy="77.91" r="0.45" fill="#b03a70" fill-opacity="0.6"/><circle cx="399.40" cy="78.40" r="0.45" fill="#b03a70" fill-opacity="0.6"/><circle cx="411.00" cy="44.59" r="0.45" fill="#b03a70" fill-opacity="0.6"/><circle cx="392.86" cy="47.78" r="0.45" fill="#b03a70" fill-opacity="0.6"/><circle cx="404.16" cy="41.51" r="0.45" fill="#b03a70" fill-opacity="0.6"/><circle cx="430.42" cy="79.35" r="0.45" fill="#b03a70" fill-opacity="0.6"/><circle cx="421.73" cy="84.19" r="0.45" fill="#b03a70" fill-opacity="0.6"/><circle cx="430.42" cy="79.39" r="0.45" fill="#b03a70" fill-opacity="0.6"/><circle cx="424.95" cy="83.76" r="0.45" fill="#b03a70" fill-opacity="0.6"/><circle cx="402.17" cy="77.06" r="0.45" fill="#b03a70" fill-opacity="0.6"/><circle cx="402.56" cy="43.50" r="0.45" fill="#b03a70" fill-opacity="0.6"/><circle cx="421.01" cy="57.75" r="0.45" fill="#b03a70" fill-opacity="0.6"/><circle cx="433.10" cy="74.53" r="0.45" fill="#b03a70" fill-opacity="0.6"/><circle cx="389.88" cy="56.43" r="0.45" fill="#b03a70" fill-opacity="0.6"/><circle cx="414.26" cy="82.59" r="0.45" fill="#b03a70" fill-opacity="0.6"/><circle cx="432.93" cy="78.00" r="0.45" fill="#b03a70" fill-opacity="0.6"/><circle cx="422.66" cy="61.98" r="0.45" fill="#b03a70" fill-opacity="0.6"/><circle cx="428.39" cy="82.09" r="0.45" fill="#b03a70" fill-opacity="0.6"/><circle cx="399.46" cy="76.71" r="0.45" fill="#b03a70" fill-opacity="0.6"/><circle cx="392.28" cy="51.61" r="0.45" fill="#b03a70" fill-opacity="0.6"/><circle cx="391.58" cy="57.82" r="0.45" fill="#b03a70" fill-opacity="0.6"/><circle cx="398.99" cy="77.76" r="0.45" fill="#b03a70" fill-opacity="0.6"/><circle cx="399.87" cy="42.74" r="0.45" fill="#b03a70" fill-opacity="0.6"/><circle cx="425.10" cy="64.22" r="0.45" fill="#b03a70" fill-opacity="0.6"/><circle cx="403.03" cy="79.21" r="0.45" fill="#b03a70" fill-opacity="0.6"/><circle cx="426.82" cy="66.29" r="0.45" fill="#b03a70" fill-opacity="0.6"/><circle cx="431.55" cy="78.72" r="0.45" fill="#b03a70" fill-opacity="0.6"/><circle cx="400.56" cy="78.09" r="0.45" fill="#b03a70" fill-opacity="0.6"/><circle cx="427.64" cy="81.77" r="0.45" fill="#b03a70" fill-opacity="0.6"/><circle cx="390.85" cy="71.18" r="0.45" fill="#b03a70" fill-opacity="0.6"/><circle cx="418.02" cy="82.70" r="0.45" fill="#b03a70" fill-opacity="0.6"/><circle cx="421.80" cy="55.75" r="0.45" fill="#b03a70" fill-opacity="0.6"/><circle cx="426.28" cy="66.33" r="0.45" fill="#b03a70" fill-opacity="0.6"/><circle cx="406.76" cy="43.39" r="0.45" fill="#b03a70" fill-opacity="0.6"/><circle cx="396.41" cy="46.90" r="0.45" fill="#b03a70" fill-opacity="0.6"/><circle cx="398.11" cy="77.85" r="0.45" fill="#b03a70" fill-opacity="0.6"/><circle cx="390.71" cy="56.02" r="0.45" fill="#b03a70" fill-opacity="0.6"/><circle cx="421.27" cy="54.58" r="0.45" fill="#b03a70" fill-opacity="0.6"/><circle cx="423.70" cy="83.91" r="0.45" fill="#b03a70" fill-opacity="0.6"/><circle cx="395.30" cy="76.19" r="0.45" fill="#b03a70" fill-opacity="0.6"/><circle cx="405.41" cy="79.46" r="0.45" fill="#b03a70" fill-opacity="0.6"/><circle cx="416.16" cy="47.67" r="0.45" fill="#b03a70" fill-opacity="0.6"/><circle cx="430.00" cy="78.90" r="0.45" fill="#b03a70" fill-opacity="0.6"/><circle cx="405.39" cy="43.94" r="0.45" fill="#b03a70" fill-opacity="0.6"/><circle cx="391.17" cy="69.54" r="0.45" fill="#b03a70" fill-opacity="0.6"/><circle cx="399.40" cy="76.91" r="0.45" fill="#b03a70" fill-opacity="0.6"/><circle cx="415.86" cy="81.74" r="0.45" fill="#b03a70" fill-opacity="0.6"/><circle cx="420.72" cy="83.53" r="0.45" fill="#b03a70" fill-opacity="0.6"/><circle cx="424.17" cy="63.61" r="0.45" fill="#b03a70" fill-opacity="0.6"/><circle cx="422.49" cy="85.83" r="0.45" fill="#b03a70" fill-opacity="0.6"/><circle cx="390.29" cy="61.71" r="0.45" fill="#b03a70" fill-opacity="0.6"/><circle cx="420.32" cy="84.42" r="0.45" fill="#b03a70" fill-opacity="0.6"/><circle cx="423.21" cy="85.15" r="0.45" fill="#b03a70" fill-opacity="0.6"/><circle cx="424.68" cy="84.21" r="0.45" fill="#b03a70" fill-opacity="0.6"/><circle cx="390.13" cy="69.66" r="0.45" fill="#b03a70" fill-opacity="0.6"/><circle cx="424.37" cy="84.48" r="0.45" fill="#b03a70" fill-opacity="0.6"/><circle cx="414.08" cy="47.62" r="0.45" fill="#b03a70" fill-opacity="0.6"/><circle cx="391.02" cy="51.63" r="0.45" fill="#b03a70" fill-opacity="0.6"/><circle cx="431.33" cy="76.26" r="0.45" fill="#b03a70" fill-opacity="0.6"/>
<circle cx="343.69" cy="50.18" r="0.5" fill="#ffffff" fill-opacity="0.22"/><circle cx="324.18" cy="63.48" r="0.5" fill="#ffffff" fill-opacity="0.22"/><circle cx="350.85" cy="72.53" r="0.5" fill="#ffffff" fill-opacity="0.22"/><circle cx="348.12" cy="61.32" r="0.5" fill="#ffffff" fill-opacity="0.22"/><circle cx="325.50" cy="63.03" r="0.5" fill="#ffffff" fill-opacity="0.22"/><circle cx="359.71" cy="52.22" r="0.5" fill="#ffffff" fill-opacity="0.22"/><circle cx="351.89" cy="71.92" r="0.5" fill="#ffffff" fill-opacity="0.22"/><circle cx="345.40" cy="74.21" r="0.5" fill="#ffffff" fill-opacity="0.22"/><circle cx="341.44" cy="56.71" r="0.5" fill="#ffffff" fill-opacity="0.22"/><circle cx="337.66" cy="64.47" r="0.5" fill="#ffffff" fill-opacity="0.22"/><circle cx="336.85" cy="36.39" r="0.5" fill="#ffffff" fill-opacity="0.22"/><circle cx="350.40" cy="59.92" r="0.5" fill="#ffffff" fill-opacity="0.22"/><circle cx="324.58" cy="67.78" r="0.5" fill="#ffffff" fill-opacity="0.22"/><circle cx="343.95" cy="37.09" r="0.5" fill="#ffffff" fill-opacity="0.22"/><circle cx="340.18" cy="73.40" r="0.5" fill="#ffffff" fill-opacity="0.22"/><circle cx="347.79" cy="52.46" r="0.5" fill="#ffffff" fill-opacity="0.22"/><circle cx="317.40" cy="63.29" r="0.5" fill="#ffffff" fill-opacity="0.22"/><circle cx="340.18" cy="45.69" r="0.5" fill="#ffffff" fill-opacity="0.22"/><circle cx="344.94" cy="53.52" r="0.5" fill="#ffffff" fill-opacity="0.22"/><circle cx="334.95" cy="66.77" r="0.5" fill="#ffffff" fill-opacity="0.22"/><circle cx="351.13" cy="39.85" r="0.5" fill="#ffffff" fill-opacity="0.22"/><circle cx="354.31" cy="46.48" r="0.5" fill="#ffffff" fill-opacity="0.22"/><circle cx="344.37" cy="55.64" r="0.5" fill="#ffffff" fill-opacity="0.22"/><circle cx="349.89" cy="73.15" r="0.5" fill="#ffffff" fill-opacity="0.22"/><circle cx="360.41" cy="64.06" r="0.5" fill="#ffffff" fill-opacity="0.22"/><circle cx="347.36" cy="50.76" r="0.5" fill="#ffffff" fill-opacity="0.22"/><circle cx="332.32" cy="60.19" r="0.5" fill="#ffffff" fill-opacity="0.22"/><circle cx="346.91" cy="47.51" r="0.5" fill="#ffffff" fill-opacity="0.22"/><circle cx="340.06" cy="40.82" r="0.5" fill="#ffffff" fill-opacity="0.22"/><circle cx="356.40" cy="54.69" r="0.5" fill="#ffffff" fill-opacity="0.22"/><circle cx="355.23" cy="53.61" r="0.5" fill="#ffffff" fill-opacity="0.22"/><circle cx="330.32" cy="67.10" r="0.5" fill="#ffffff" fill-opacity="0.22"/><circle cx="333.37" cy="45.89" r="0.5" fill="#ffffff" fill-opacity="0.22"/><circle cx="347.54" cy="62.47" r="0.5" fill="#ffffff" fill-opacity="0.22"/><circle cx="356.40" cy="60.19" r="0.5" fill="#ffffff" fill-opacity="0.22"/><circle cx="357.91" cy="59.50" r="0.5" fill="#ffffff" fill-opacity="0.22"/><circle cx="336.00" cy="50.19" r="0.5" fill="#ffffff" fill-opacity="0.22"/><circle cx="354.90" cy="43.85" r="0.5" fill="#ffffff" fill-opacity="0.22"/><circle cx="339.15" cy="64.15" r="0.5" fill="#ffffff" fill-opacity="0.22"/><circle cx="332.76" cy="45.36" r="0.5" fill="#ffffff" fill-opacity="0.22"/><circle cx="354.50" cy="68.37" r="0.5" fill="#ffffff" fill-opacity="0.22"/><circle cx="331.14" cy="39.67" r="0.5" fill="#ffffff" fill-opacity="0.22"/><circle cx="356.17" cy="57.86" r="0.5" fill="#ffffff" fill-opacity="0.22"/><circle cx="355.18" cy="55.72" r="0.5" fill="#ffffff" fill-opacity="0.22"/><circle cx="343.25" cy="57.51" r="0.5" fill="#ffffff" fill-opacity="0.22"/><circle cx="340.80" cy="50.44" r="0.5" fill="#ffffff" fill-opacity="0.22"/><circle cx="355.70" cy="65.65" r="0.5" fill="#ffffff" fill-opacity="0.22"/><circle cx="335.89" cy="57.53" r="0.5" fill="#ffffff" fill-opacity="0.22"/><circle cx="343.32" cy="49.25" r="0.5" fill="#ffffff" fill-opacity="0.22"/><circle cx="342.58" cy="44.98" r="0.5" fill="#ffffff" fill-opacity="0.22"/><circle cx="357.95" cy="47.72" r="0.5" fill="#ffffff" fill-opacity="0.22"/><circle cx="341.85" cy="42.40" r="0.5" fill="#ffffff" fill-opacity="0.22"/><circle cx="356.60" cy="46.33" r="0.5" fill="#ffffff" fill-opacity="0.22"/><circle cx="345.38" cy="49.42" r="0.5" fill="#ffffff" fill-opacity="0.22"/><circle cx="329.06" cy="74.60" r="0.5" fill="#ffffff" fill-opacity="0.22"/><circle cx="341.21" cy="72.09" r="0.5" fill="#ffffff" fill-opacity="0.22"/><circle cx="335.23" cy="54.09" r="0.5" fill="#ffffff" fill-opacity="0.22"/><circle cx="346.82" cy="37.59" r="0.5" fill="#ffffff" fill-opacity="0.22"/><circle cx="327.01" cy="72.29" r="0.5" fill="#ffffff" fill-opacity="0.22"/><circle cx="344.77" cy="59.60" r="0.5" fill="#ffffff" fill-opacity="0.22"/><circle cx="327.45" cy="74.73" r="0.5" fill="#ffffff" fill-opacity="0.22"/><circle cx="338.93" cy="59.88" r="0.5" fill="#ffffff" fill-opacity="0.22"/><circle cx="346.90" cy="39.23" r="0.5" fill="#ffffff" fill-opacity="0.22"/><circle cx="358.46" cy="48.52" r="0.5" fill="#ffffff" fill-opacity="0.22"/><circle cx="365.88" cy="50.28" r="0.5" fill="#ffffff" fill-opacity="0.22"/><circle cx="335.13" cy="64.91" r="0.5" fill="#ffffff" fill-opacity="0.22"/><circle cx="340.90" cy="71.16" r="0.5" fill="#ffffff" fill-opacity="0.22"/><circle cx="351.70" cy="37.40" r="0.5" fill="#ffffff" fill-opacity="0.22"/><circle cx="332.62" cy="43.80" r="0.5" fill="#ffffff" fill-opacity="0.22"/><circle cx="341.87" cy="41.54" r="0.5" fill="#ffffff" fill-opacity="0.22"/><circle cx="358.75" cy="49.95" r="0.5" fill="#ffffff" fill-opacity="0.22"/><circle cx="328.51" cy="65.58" r="0.5" fill="#ffffff" fill-opacity="0.22"/><circle cx="344.15" cy="34.62" r="0.5" fill="#ffffff" fill-opacity="0.22"/><circle cx="362.17" cy="44.91" r="0.5" fill="#ffffff" fill-opacity="0.22"/><circle cx="342.20" cy="66.43" r="0.5" fill="#ffffff" fill-opacity="0.22"/><circle cx="354.42" cy="54.98" r="0.5" fill="#ffffff" fill-opacity="0.22"/><circle cx="353.76" cy="59.73" r="0.5" fill="#ffffff" fill-opacity="0.22"/><circle cx="338.66" cy="62.54" r="0.5" fill="#ffffff" fill-opacity="0.22"/><circle cx="340.10" cy="49.99" r="0.5" fill="#ffffff" fill-opacity="0.22"/><circle cx="336.13" cy="50.14" r="0.5" fill="#ffffff" fill-opacity="0.22"/><circle cx="335.62" cy="53.10" r="0.5" fill="#ffffff" fill-opacity="0.22"/><circle cx="360.84" cy="54.29" r="0.5" fill="#ffffff" fill-opacity="0.22"/><circle cx="324.66" cy="70.59" r="0.5" fill="#ffffff" fill-opacity="0.22"/><circle cx="320.77" cy="61.02" r="0.5" fill="#ffffff" fill-opacity="0.22"/><circle cx="335.30" cy="66.85" r="0.5" fill="#ffffff" fill-opacity="0.22"/><circle cx="362.50" cy="50.59" r="0.5" fill="#ffffff" fill-opacity="0.22"/><circle cx="364.79" cy="47.79" r="0.5" fill="#ffffff" fill-opacity="0.22"/><circle cx="334.95" cy="48.21" r="0.5" fill="#ffffff" fill-opacity="0.22"/><circle cx="353.16" cy="41.44" r="0.5" fill="#ffffff" fill-opacity="0.22"/><circle cx="339.15" cy="73.12" r="0.5" fill="#ffffff" fill-opacity="0.22"/><circle cx="338.54" cy="40.06" r="0.5" fill="#ffffff" fill-opacity="0.22"/><circle cx="337.52" cy="44.41" r="0.5" fill="#ffffff" fill-opacity="0.22"/><circle cx="331.53" cy="69.31" r="0.5" fill="#ffffff" fill-opacity="0.22"/><circle cx="339.39" cy="54.94" r="0.5" fill="#ffffff" fill-opacity="0.22"/><circle cx="324.49" cy="56.32" r="0.5" fill="#ffffff" fill-opacity="0.22"/><circle cx="347.99" cy="68.57" r="0.5" fill="#ffffff" fill-opacity="0.22"/><circle cx="362.47" cy="58.40" r="0.5" fill="#ffffff" fill-opacity="0.22"/><circle cx="358.04" cy="38.71" r="0.5" fill="#ffffff" fill-opacity="0.22"/><circle cx="338.20" cy="45.07" r="0.5" fill="#ffffff" fill-opacity="0.22"/><circle cx="328.69" cy="44.02" r="0.5" fill="#ffffff" fill-opacity="0.22"/><circle cx="336.14" cy="51.95" r="0.5" fill="#ffffff" fill-opacity="0.22"/><circle cx="324.92" cy="70.57" r="0.5" fill="#ffffff" fill-opacity="0.22"/><circle cx="348.42" cy="53.14" r="0.5" fill="#ffffff" fill-opacity="0.22"/><circle cx="341.93" cy="56.20" r="0.5" fill="#ffffff" fill-opacity="0.22"/><circle cx="338.74" cy="68.66" r="0.5" fill="#ffffff" fill-opacity="0.22"/><circle cx="363.38" cy="46.18" r="0.5" fill="#ffffff" fill-opacity="0.22"/><circle cx="337.06" cy="45.75" r="0.5" fill="#ffffff" fill-opacity="0.22"/><circle cx="325.83" cy="71.06" r="0.5" fill="#ffffff" fill-opacity="0.22"/><circle cx="342.61" cy="43.68" r="0.5" fill="#ffffff" fill-opacity="0.22"/><circle cx="325.58" cy="60.22" r="0.5" fill="#ffffff" fill-opacity="0.22"/><circle cx="352.90" cy="67.40" r="0.5" fill="#ffffff" fill-opacity="0.22"/><circle cx="349.91" cy="61.46" r="0.5" fill="#ffffff" fill-opacity="0.22"/><circle cx="326.40" cy="47.15" r="0.5" fill="#ffffff" fill-opacity="0.22"/><circle cx="317.44" cy="64.31" r="0.5" fill="#ffffff" fill-opacity="0.22"/><circle cx="342.51" cy="70.96" r="0.5" fill="#ffffff" fill-opacity="0.22"/><circle cx="362.03" cy="56.55" r="0.5" fill="#ffffff" fill-opacity="0.22"/><circle cx="334.05" cy="45.97" r="0.5" fill="#ffffff" fill-opacity="0.22"/><circle cx="354.49" cy="39.34" r="0.5" fill="#ffffff" fill-opacity="0.22"/><circle cx="349.69" cy="44.48" r="0.5" fill="#ffffff" fill-opacity="0.22"/><circle cx="318.75" cy="64.76" r="0.5" fill="#ffffff" fill-opacity="0.22"/><circle cx="345.23" cy="71.72" r="0.5" fill="#ffffff" fill-opacity="0.22"/><circle cx="334.47" cy="75.03" r="0.5" fill="#ffffff" fill-opacity="0.22"/><circle cx="334.49" cy="44.32" r="0.5" fill="#ffffff" fill-opacity="0.22"/><circle cx="345.30" cy="73.51" r="0.5" fill="#ffffff" fill-opacity="0.22"/><circle cx="331.29" cy="38.19" r="0.5" fill="#ffffff" fill-opacity="0.22"/><circle cx="352.91" cy="53.33" r="0.5" fill="#ffffff" fill-opacity="0.22"/><circle cx="321.30" cy="61.04" r="0.5" fill="#ffffff" fill-opacity="0.22"/><circle cx="344.27" cy="76.07" r="0.5" fill="#ffffff" fill-opacity="0.22"/><circle cx="353.29" cy="45.06" r="0.5" fill="#ffffff" fill-opacity="0.22"/><circle cx="358.14" cy="61.84" r="0.5" fill="#ffffff" fill-opacity="0.22"/><circle cx="339.77" cy="44.03" r="0.5" fill="#ffffff" fill-opacity="0.22"/><circle cx="338.80" cy="49.05" r="0.5" fill="#ffffff" fill-opacity="0.22"/><circle cx="330.38" cy="54.15" r="0.5" fill="#ffffff" fill-opacity="0.22"/><circle cx="345.77" cy="67.41" r="0.5" fill="#ffffff" fill-opacity="0.22"/><circle cx="360.46" cy="57.58" r="0.5" fill="#ffffff" fill-opacity="0.22"/><circle cx="328.13" cy="43.53" r="0.5" fill="#ffffff" fill-opacity="0.22"/><circle cx="349.85" cy="54.03" r="0.5" fill="#ffffff" fill-opacity="0.22"/><circle cx="336.46" cy="75.75" r="0.5" fill="#ffffff" fill-opacity="0.22"/><circle cx="317.85" cy="61.75" r="0.5" fill="#ffffff" fill-opacity="0.22"/><circle cx="351.08" cy="60.06" r="0.5" fill="#ffffff" fill-opacity="0.22"/><circle cx="346.60" cy="35.00" r="0.5" fill="#ffffff" fill-opacity="0.22"/><circle cx="334.82" cy="51.29" r="0.5" fill="#ffffff" fill-opacity="0.22"/><circle cx="358.21" cy="65.35" r="0.5" fill="#ffffff" fill-opacity="0.22"/><circle cx="358.42" cy="58.60" r="0.5" fill="#ffffff" fill-opacity="0.22"/><circle cx="336.65" cy="58.45" r="0.5" fill="#ffffff" fill-opacity="0.22"/><circle cx="332.93" cy="39.93" r="0.5" fill="#ffffff" fill-opacity="0.22"/><circle cx="350.41" cy="49.17" r="0.5" fill="#ffffff" fill-opacity="0.22"/><circle cx="359.78" cy="63.01" r="0.5" fill="#ffffff" fill-opacity="0.22"/><circle cx="326.17" cy="47.87" r="0.5" fill="#ffffff" fill-opacity="0.22"/><circle cx="326.82" cy="63.28" r="0.5" fill="#ffffff" fill-opacity="0.22"/><circle cx="328.04" cy="52.18" r="0.5" fill="#ffffff" fill-opacity="0.22"/><circle cx="339.27" cy="35.47" r="0.5" fill="#ffffff" fill-opacity="0.22"/><circle cx="347.50" cy="74.39" r="0.5" fill="#ffffff" fill-opacity="0.22"/><circle cx="347.62" cy="61.45" r="0.5" fill="#ffffff" fill-opacity="0.22"/><circle cx="334.04" cy="40.84" r="0.5" fill="#ffffff" fill-opacity="0.22"/><circle cx="321.10" cy="59.75" r="0.5" fill="#ffffff" fill-opacity="0.22"/><circle cx="362.80" cy="53.04" r="0.5" fill="#ffffff" fill-opacity="0.22"/><circle cx="342.12" cy="72.93" r="0.5" fill="#ffffff" fill-opacity="0.22"/><circle cx="362.00" cy="59.18" r="0.5" fill="#ffffff" fill-opacity="0.22"/><circle cx="330.43" cy="66.26" r="0.5" fill="#ffffff" fill-opacity="0.22"/><circle cx="353.37" cy="46.21" r="0.5" fill="#ffffff" fill-opacity="0.22"/><circle cx="339.29" cy="64.43" r="0.5" fill="#ffffff" fill-opacity="0.22"/><circle cx="327.85" cy="50.66" r="0.5" fill="#ffffff" fill-opacity="0.22"/><circle cx="343.94" cy="49.77" r="0.5" fill="#ffffff" fill-opacity="0.22"/><circle cx="360.83" cy="46.95" r="0.5" fill="#ffffff" fill-opacity="0.22"/><circle cx="340.46" cy="69.97" r="0.5" fill="#ffffff" fill-opacity="0.22"/><circle cx="326.23" cy="57.77" r="0.5" fill="#ffffff" fill-opacity="0.22"/><circle cx="364.65" cy="51.10" r="0.5" fill="#ffffff" fill-opacity="0.22"/><circle cx="363.79" cy="47.86" r="0.5" fill="#ffffff" fill-opacity="0.22"/><circle cx="332.96" cy="45.44" r="0.5" fill="#ffffff" fill-opacity="0.22"/><circle cx="360.16" cy="43.04" r="0.5" fill="#ffffff" fill-opacity="0.22"/><circle cx="344.06" cy="60.45" r="0.5" fill="#ffffff" fill-opacity="0.22"/><circle cx="334.07" cy="62.77" r="0.5" fill="#ffffff" fill-opacity="0.22"/><circle cx="342.38" cy="70.66" r="0.5" fill="#ffffff" fill-opacity="0.22"/><circle cx="334.37" cy="67.47" r="0.5" fill="#ffffff" fill-opacity="0.22"/><circle cx="337.45" cy="63.24" r="0.5" fill="#ffffff" fill-opacity="0.22"/><circle cx="347.00" cy="45.75" r="0.5" fill="#ffffff" fill-opacity="0.22"/><circle cx="347.98" cy="61.63" r="0.5" fill="#ffffff" fill-opacity="0.22"/><circle cx="351.56" cy="51.84" r="0.5" fill="#ffffff" fill-opacity="0.22"/><circle cx="344.00" cy="38.63" r="0.5" fill="#ffffff" fill-opacity="0.22"/><circle cx="324.30" cy="71.36" r="0.5" fill="#ffffff" fill-opacity="0.22"/><circle cx="330.69" cy="61.15" r="0.5" fill="#ffffff" fill-opacity="0.22"/><circle cx="322.40" cy="71.43" r="0.5" fill="#ffffff" fill-opacity="0.22"/><circle cx="351.02" cy="46.25" r="0.5" fill="#ffffff" fill-opacity="0.22"/><circle cx="334.29" cy="49.15" r="0.5" fill="#ffffff" fill-opacity="0.22"/><circle cx="342.83" cy="59.98" r="0.5" fill="#ffffff" fill-opacity="0.22"/><circle cx="335.67" cy="46.79" r="0.5" fill="#ffffff" fill-opacity="0.22"/><circle cx="343.36" cy="69.26" r="0.5" fill="#ffffff" fill-opacity="0.22"/><circle cx="338.38" cy="50.23" r="0.5" fill="#ffffff" fill-opacity="0.22"/><circle cx="328.35" cy="70.09" r="0.5" fill="#ffffff" fill-opacity="0.22"/><circle cx="333.18" cy="76.67" r="0.5" fill="#ffffff" fill-opacity="0.22"/><circle cx="346.86" cy="44.22" r="0.5" fill="#ffffff" fill-opacity="0.22"/><circle cx="332.97" cy="76.81" r="0.5" fill="#ffffff" fill-opacity="0.22"/><circle cx="361.03" cy="46.78" r="0.5" fill="#ffffff" fill-opacity="0.22"/><circle cx="343.34" cy="47.34" r="0.5" fill="#ffffff" fill-opacity="0.22"/><circle cx="347.45" cy="52.91" r="0.5" fill="#ffffff" fill-opacity="0.22"/><circle cx="357.57" cy="65.87" r="0.5" fill="#ffffff" fill-opacity="0.22"/><circle cx="338.10" cy="54.12" r="0.5" fill="#ffffff" fill-opacity="0.22"/><circle cx="318.94" cy="63.60" r="0.5" fill="#ffffff" fill-opacity="0.22"/><circle cx="337.09" cy="55.76" r="0.5" fill="#ffffff" fill-opacity="0.22"/><circle cx="337.67" cy="51.33" r="0.5" fill="#ffffff" fill-opacity="0.22"/><circle cx="345.85" cy="64.28" r="0.5" fill="#ffffff" fill-opacity="0.22"/><circle cx="353.67" cy="37.50" r="0.5" fill="#ffffff" fill-opacity="0.22"/><circle cx="334.79" cy="49.76" r="0.5" fill="#ffffff" fill-opacity="0.22"/><circle cx="325.58" cy="62.69" r="0.5" fill="#ffffff" fill-opacity="0.22"/><circle cx="331.45" cy="48.72" r="0.5" fill="#ffffff" fill-opacity="0.22"/><circle cx="362.97" cy="56.12" r="0.5" fill="#ffffff" fill-opacity="0.22"/><circle cx="342.73" cy="69.85" r="0.5" fill="#ffffff" fill-opacity="0.22"/><circle cx="327.17" cy="73.29" r="0.5" fill="#ffffff" fill-opacity="0.22"/><circle cx="337.23" cy="36.07" r="0.5" fill="#ffffff" fill-opacity="0.22"/><circle cx="344.74" cy="38.15" r="0.5" fill="#ffffff" fill-opacity="0.22"/><circle cx="344.98" cy="61.59" r="0.5" fill="#ffffff" fill-opacity="0.22"/><circle cx="352.51" cy="64.29" r="0.5" fill="#ffffff" fill-opacity="0.22"/><circle cx="351.91" cy="58.09" r="0.5" fill="#ffffff" fill-opacity="0.22"/><circle cx="362.07" cy="51.15" r="0.5" fill="#ffffff" fill-opacity="0.22"/><circle cx="354.78" cy="58.72" r="0.5" fill="#ffffff" fill-opacity="0.22"/><circle cx="342.25" cy="39.80" r="0.5" fill="#ffffff" fill-opacity="0.22"/><circle cx="326.71" cy="60.27" r="0.5" fill="#ffffff" fill-opacity="0.22"/><circle cx="324.09" cy="56.54" r="0.5" fill="#ffffff" fill-opacity="0.22"/><circle cx="342.01" cy="34.68" r="0.5" fill="#ffffff" fill-opacity="0.22"/>
<circle cx="410.60" cy="57.51" r="0.5" fill="#d0608a" fill-opacity="0.3"/><circle cx="408.11" cy="68.13" r="0.5" fill="#d0608a" fill-opacity="0.3"/><circle cx="417.24" cy="64.44" r="0.5" fill="#d0608a" fill-opacity="0.3"/><circle cx="400.11" cy="51.39" r="0.5" fill="#d0608a" fill-opacity="0.3"/><circle cx="391.57" cy="62.66" r="0.5" fill="#d0608a" fill-opacity="0.3"/><circle cx="425.95" cy="72.83" r="0.5" fill="#d0608a" fill-opacity="0.3"/><circle cx="399.35" cy="55.23" r="0.5" fill="#d0608a" fill-opacity="0.3"/><circle cx="399.47" cy="47.68" r="0.5" fill="#d0608a" fill-opacity="0.3"/><circle cx="414.62" cy="48.14" r="0.5" fill="#d0608a" fill-opacity="0.3"/><circle cx="409.15" cy="55.95" r="0.5" fill="#d0608a" fill-opacity="0.3"/><circle cx="418.37" cy="64.13" r="0.5" fill="#d0608a" fill-opacity="0.3"/><circle cx="414.53" cy="55.79" r="0.5" fill="#d0608a" fill-opacity="0.3"/><circle cx="406.78" cy="65.31" r="0.5" fill="#d0608a" fill-opacity="0.3"/><circle cx="405.30" cy="53.29" r="0.5" fill="#d0608a" fill-opacity="0.3"/><circle cx="413.24" cy="54.96" r="0.5" fill="#d0608a" fill-opacity="0.3"/><circle cx="409.63" cy="53.59" r="0.5" fill="#d0608a" fill-opacity="0.3"/><circle cx="408.32" cy="51.50" r="0.5" fill="#d0608a" fill-opacity="0.3"/><circle cx="400.26" cy="46.74" r="0.5" fill="#d0608a" fill-opacity="0.3"/><circle cx="398.37" cy="59.98" r="0.5" fill="#d0608a" fill-opacity="0.3"/><circle cx="409.63" cy="67.96" r="0.5" fill="#d0608a" fill-opacity="0.3"/><circle cx="400.19" cy="54.34" r="0.5" fill="#d0608a" fill-opacity="0.3"/><circle cx="399.21" cy="55.52" r="0.5" fill="#d0608a" fill-opacity="0.3"/><circle cx="416.38" cy="61.13" r="0.5" fill="#d0608a" fill-opacity="0.3"/><circle cx="402.57" cy="57.78" r="0.5" fill="#d0608a" fill-opacity="0.3"/><circle cx="412.44" cy="55.49" r="0.5" fill="#d0608a" fill-opacity="0.3"/><circle cx="411.42" cy="46.60" r="0.5" fill="#d0608a" fill-opacity="0.3"/><circle cx="421.43" cy="64.22" r="0.5" fill="#d0608a" fill-opacity="0.3"/><circle cx="420.82" cy="67.00" r="0.5" fill="#d0608a" fill-opacity="0.3"/><circle cx="391.39" cy="65.51" r="0.5" fill="#d0608a" fill-opacity="0.3"/><circle cx="419.77" cy="64.76" r="0.5" fill="#d0608a" fill-opacity="0.3"/><circle cx="423.70" cy="66.79" r="0.5" fill="#d0608a" fill-opacity="0.3"/><circle cx="398.22" cy="65.53" r="0.5" fill="#d0608a" fill-opacity="0.3"/><circle cx="393.86" cy="51.81" r="0.5" fill="#d0608a" fill-opacity="0.3"/><circle cx="405.01" cy="69.54" r="0.5" fill="#d0608a" fill-opacity="0.3"/><circle cx="409.52" cy="62.63" r="0.5" fill="#d0608a" fill-opacity="0.3"/><circle cx="416.35" cy="70.13" r="0.5" fill="#d0608a" fill-opacity="0.3"/><circle cx="405.45" cy="68.10" r="0.5" fill="#d0608a" fill-opacity="0.3"/><circle cx="418.94" cy="71.21" r="0.5" fill="#d0608a" fill-opacity="0.3"/><circle cx="391.25" cy="65.05" r="0.5" fill="#d0608a" fill-opacity="0.3"/><circle cx="394.26" cy="51.90" r="0.5" fill="#d0608a" fill-opacity="0.3"/><circle cx="401.47" cy="62.02" r="0.5" fill="#d0608a" fill-opacity="0.3"/><circle cx="399.32" cy="64.21" r="0.5" fill="#d0608a" fill-opacity="0.3"/><circle cx="407.03" cy="62.01" r="0.5" fill="#d0608a" fill-opacity="0.3"/><circle cx="408.12" cy="66.75" r="0.5" fill="#d0608a" fill-opacity="0.3"/><circle cx="396.70" cy="66.15" r="0.5" fill="#d0608a" fill-opacity="0.3"/><circle cx="413.18" cy="62.68" r="0.5" fill="#d0608a" fill-opacity="0.3"/><circle cx="399.67" cy="58.48" r="0.5" fill="#d0608a" fill-opacity="0.3"/><circle cx="418.08" cy="60.95" r="0.5" fill="#d0608a" fill-opacity="0.3"/><circle cx="421.97" cy="63.51" r="0.5" fill="#d0608a" fill-opacity="0.3"/><circle cx="427.68" cy="70.52" r="0.5" fill="#d0608a" fill-opacity="0.3"/><circle cx="414.54" cy="64.80" r="0.5" fill="#d0608a" fill-opacity="0.3"/><circle cx="391.74" cy="52.76" r="0.5" fill="#d0608a" fill-opacity="0.3"/><circle cx="415.80" cy="49.64" r="0.5" fill="#d0608a" fill-opacity="0.3"/><circle cx="412.14" cy="53.73" r="0.5" fill="#d0608a" fill-opacity="0.3"/><circle cx="404.36" cy="58.65" r="0.5" fill="#d0608a" fill-opacity="0.3"/><circle cx="418.84" cy="69.36" r="0.5" fill="#d0608a" fill-opacity="0.3"/><circle cx="416.24" cy="58.83" r="0.5" fill="#d0608a" fill-opacity="0.3"/><circle cx="418.20" cy="69.61" r="0.5" fill="#d0608a" fill-opacity="0.3"/><circle cx="397.46" cy="47.82" r="0.5" fill="#d0608a" fill-opacity="0.3"/><circle cx="397.19" cy="53.68" r="0.5" fill="#d0608a" fill-opacity="0.3"/><circle cx="394.05" cy="62.90" r="0.5" fill="#d0608a" fill-opacity="0.3"/><circle cx="395.91" cy="64.49" r="0.5" fill="#d0608a" fill-opacity="0.3"/><circle cx="410.44" cy="58.00" r="0.5" fill="#d0608a" fill-opacity="0.3"/><circle cx="416.86" cy="64.87" r="0.5" fill="#d0608a" fill-opacity="0.3"/><circle cx="395.75" cy="65.18" r="0.5" fill="#d0608a" fill-opacity="0.3"/><circle cx="414.64" cy="50.28" r="0.5" fill="#d0608a" fill-opacity="0.3"/><circle cx="430.94" cy="69.38" r="0.5" fill="#d0608a" fill-opacity="0.3"/><circle cx="407.09" cy="49.18" r="0.5" fill="#d0608a" fill-opacity="0.3"/><circle cx="394.80" cy="52.45" r="0.5" fill="#d0608a" fill-opacity="0.3"/><circle cx="408.72" cy="60.76" r="0.5" fill="#d0608a" fill-opacity="0.3"/><circle cx="402.24" cy="60.39" r="0.5" fill="#d0608a" fill-opacity="0.3"/><circle cx="392.10" cy="57.55" r="0.5" fill="#d0608a" fill-opacity="0.3"/><circle cx="410.52" cy="67.61" r="0.5" fill="#d0608a" fill-opacity="0.3"/><circle cx="403.59" cy="54.06" r="0.5" fill="#d0608a" fill-opacity="0.3"/><circle cx="393.98" cy="51.72" r="0.5" fill="#d0608a" fill-opacity="0.3"/><circle cx="415.72" cy="65.91" r="0.5" fill="#d0608a" fill-opacity="0.3"/><circle cx="419.29" cy="63.43" r="0.5" fill="#d0608a" fill-opacity="0.3"/><circle cx="393.45" cy="66.44" r="0.5" fill="#d0608a" fill-opacity="0.3"/><circle cx="391.25" cy="55.21" r="0.5" fill="#d0608a" fill-opacity="0.3"/><circle cx="396.24" cy="54.34" r="0.5" fill="#d0608a" fill-opacity="0.3"/><circle cx="394.45" cy="65.53" r="0.5" fill="#d0608a" fill-opacity="0.3"/><circle cx="403.11" cy="62.28" r="0.5" fill="#d0608a" fill-opacity="0.3"/><circle cx="405.98" cy="63.25" r="0.5" fill="#d0608a" fill-opacity="0.3"/><circle cx="405.02" cy="49.94" r="0.5" fill="#d0608a" fill-opacity="0.3"/><circle cx="423.60" cy="71.98" r="0.5" fill="#d0608a" fill-opacity="0.3"/><circle cx="407.80" cy="65.91" r="0.5" fill="#d0608a" fill-opacity="0.3"/><circle cx="399.66" cy="47.01" r="0.5" fill="#d0608a" fill-opacity="0.3"/><circle cx="416.69" cy="55.40" r="0.5" fill="#d0608a" fill-opacity="0.3"/><circle cx="430.93" cy="69.74" r="0.5" fill="#d0608a" fill-opacity="0.3"/><circle cx="410.14" cy="49.56" r="0.5" fill="#d0608a" fill-opacity="0.3"/><circle cx="405.70" cy="43.62" r="0.5" fill="#d0608a" fill-opacity="0.3"/><circle cx="415.61" cy="69.19" r="0.5" fill="#d0608a" fill-opacity="0.3"/><circle cx="411.47" cy="47.17" r="0.5" fill="#d0608a" fill-opacity="0.3"/><circle cx="419.77" cy="71.01" r="0.5" fill="#d0608a" fill-opacity="0.3"/><circle cx="418.29" cy="60.70" r="0.5" fill="#d0608a" fill-opacity="0.3"/><circle cx="409.70" cy="59.91" r="0.5" fill="#d0608a" fill-opacity="0.3"/><circle cx="411.70" cy="56.27" r="0.5" fill="#d0608a" fill-opacity="0.3"/><circle cx="412.44" cy="62.56" r="0.5" fill="#d0608a" fill-opacity="0.3"/><circle cx="396.62" cy="55.40" r="0.5" fill="#d0608a" fill-opacity="0.3"/><circle cx="423.88" cy="65.66" r="0.5" fill="#d0608a" fill-opacity="0.3"/><circle cx="403.99" cy="63.60" r="0.5" fill="#d0608a" fill-opacity="0.3"/><circle cx="413.70" cy="56.03" r="0.5" fill="#d0608a" fill-opacity="0.3"/><circle cx="405.54" cy="63.54" r="0.5" fill="#d0608a" fill-opacity="0.3"/><circle cx="412.26" cy="62.82" r="0.5" fill="#d0608a" fill-opacity="0.3"/><circle cx="420.97" cy="64.65" r="0.5" fill="#d0608a" fill-opacity="0.3"/><circle cx="396.31" cy="61.07" r="0.5" fill="#d0608a" fill-opacity="0.3"/><circle cx="405.18" cy="50.26" r="0.5" fill="#d0608a" fill-opacity="0.3"/><circle cx="408.56" cy="50.93" r="0.5" fill="#d0608a" fill-opacity="0.3"/><circle cx="398.64" cy="66.52" r="0.5" fill="#d0608a" fill-opacity="0.3"/><circle cx="418.08" cy="65.22" r="0.5" fill="#d0608a" fill-opacity="0.3"/><circle cx="399.64" cy="57.22" r="0.5" fill="#d0608a" fill-opacity="0.3"/><circle cx="412.72" cy="64.83" r="0.5" fill="#d0608a" fill-opacity="0.3"/><circle cx="420.80" cy="71.61" r="0.5" fill="#d0608a" fill-opacity="0.3"/><circle cx="413.78" cy="69.76" r="0.5" fill="#d0608a" fill-opacity="0.3"/><circle cx="418.47" cy="68.13" r="0.5" fill="#d0608a" fill-opacity="0.3"/><circle cx="395.79" cy="58.65" r="0.5" fill="#d0608a" fill-opacity="0.3"/><circle cx="411.30" cy="69.35" r="0.5" fill="#d0608a" fill-opacity="0.3"/><circle cx="409.34" cy="64.48" r="0.5" fill="#d0608a" fill-opacity="0.3"/><circle cx="398.17" cy="57.76" r="0.5" fill="#d0608a" fill-opacity="0.3"/><circle cx="394.07" cy="54.51" r="0.5" fill="#d0608a" fill-opacity="0.3"/><circle cx="415.94" cy="55.50" r="0.5" fill="#d0608a" fill-opacity="0.3"/><circle cx="409.32" cy="46.45" r="0.5" fill="#d0608a" fill-opacity="0.3"/><circle cx="398.59" cy="46.26" r="0.5" fill="#d0608a" fill-opacity="0.3"/><circle cx="405.47" cy="69.44" r="0.5" fill="#d0608a" fill-opacity="0.3"/><circle cx="423.65" cy="66.08" r="0.5" fill="#d0608a" fill-opacity="0.3"/><circle cx="400.15" cy="58.97" r="0.5" fill="#d0608a" fill-opacity="0.3"/><circle cx="412.03" cy="53.99" r="0.5" fill="#d0608a" fill-opacity="0.3"/><circle cx="410.54" cy="68.65" r="0.5" fill="#d0608a" fill-opacity="0.3"/><circle cx="404.90" cy="53.95" r="0.5" fill="#d0608a" fill-opacity="0.3"/><circle cx="403.82" cy="61.84" r="0.5" fill="#d0608a" fill-opacity="0.3"/><circle cx="400.29" cy="53.90" r="0.5" fill="#d0608a" fill-opacity="0.3"/><circle cx="393.27" cy="50.84" r="0.5" fill="#d0608a" fill-opacity="0.3"/><circle cx="416.01" cy="63.17" r="0.5" fill="#d0608a" fill-opacity="0.3"/><circle cx="415.16" cy="69.49" r="0.5" fill="#d0608a" fill-opacity="0.3"/><circle cx="408.86" cy="49.91" r="0.5" fill="#d0608a" fill-opacity="0.3"/><circle cx="405.21" cy="59.45" r="0.5" fill="#d0608a" fill-opacity="0.3"/><circle cx="403.15" cy="46.78" r="0.5" fill="#d0608a" fill-opacity="0.3"/><circle cx="416.18" cy="49.34" r="0.5" fill="#d0608a" fill-opacity="0.3"/><circle cx="424.28" cy="65.80" r="0.5" fill="#d0608a" fill-opacity="0.3"/><circle cx="403.98" cy="57.54" r="0.5" fill="#d0608a" fill-opacity="0.3"/><circle cx="404.16" cy="58.02" r="0.5" fill="#d0608a" fill-opacity="0.3"/><circle cx="399.63" cy="50.53" r="0.5" fill="#d0608a" fill-opacity="0.3"/><circle cx="416.44" cy="65.79" r="0.5" fill="#d0608a" fill-opacity="0.3"/><circle cx="396.18" cy="54.86" r="0.5" fill="#d0608a" fill-opacity="0.3"/><circle cx="405.04" cy="60.90" r="0.5" fill="#d0608a" fill-opacity="0.3"/><circle cx="419.26" cy="71.79" r="0.5" fill="#d0608a" fill-opacity="0.3"/><circle cx="398.49" cy="56.20" r="0.5" fill="#d0608a" fill-opacity="0.3"/><circle cx="423.14" cy="67.90" r="0.5" fill="#d0608a" fill-opacity="0.3"/><circle cx="400.10" cy="68.01" r="0.5" fill="#d0608a" fill-opacity="0.3"/><circle cx="405.29" cy="69.82" r="0.5" fill="#d0608a" fill-opacity="0.3"/><circle cx="419.50" cy="64.03" r="0.5" fill="#d0608a" fill-opacity="0.3"/><circle cx="426.96" cy="67.56" r="0.5" fill="#d0608a" fill-opacity="0.3"/><circle cx="396.47" cy="49.15" r="0.5" fill="#d0608a" fill-opacity="0.3"/><circle cx="407.05" cy="55.23" r="0.5" fill="#d0608a" fill-opacity="0.3"/><circle cx="422.33" cy="72.25" r="0.5" fill="#d0608a" fill-opacity="0.3"/><circle cx="413.99" cy="63.62" r="0.5" fill="#d0608a" fill-opacity="0.3"/><circle cx="414.53" cy="52.31" r="0.5" fill="#d0608a" fill-opacity="0.3"/><circle cx="404.91" cy="57.53" r="0.5" fill="#d0608a" fill-opacity="0.3"/><circle cx="420.20" cy="72.01" r="0.5" fill="#d0608a" fill-opacity="0.3"/><circle cx="412.93" cy="66.80" r="0.5" fill="#d0608a" fill-opacity="0.3"/>
<circle cx="373.14" cy="121.36" r="0.5" fill="#ffffff" fill-opacity="0.3"/><circle cx="368.50" cy="136.35" r="0.5" fill="#ffffff" fill-opacity="0.3"/><circle cx="364.22" cy="127.41" r="0.5" fill="#ffffff" fill-opacity="0.3"/><circle cx="359.47" cy="121.47" r="0.5" fill="#ffffff" fill-opacity="0.3"/><circle cx="378.06" cy="129.10" r="0.5" fill="#ffffff" fill-opacity="0.3"/><circle cx="363.90" cy="130.63" r="0.5" fill="#ffffff" fill-opacity="0.3"/><circle cx="369.50" cy="129.88" r="0.5" fill="#ffffff" fill-opacity="0.3"/><circle cx="377.65" cy="119.93" r="0.5" fill="#ffffff" fill-opacity="0.3"/><circle cx="379.28" cy="134.14" r="0.5" fill="#ffffff" fill-opacity="0.3"/><circle cx="359.15" cy="129.95" r="0.5" fill="#ffffff" fill-opacity="0.3"/><circle cx="377.01" cy="138.52" r="0.5" fill="#ffffff" fill-opacity="0.3"/><circle cx="367.25" cy="137.43" r="0.5" fill="#ffffff" fill-opacity="0.3"/><circle cx="365.10" cy="130.89" r="0.5" fill="#ffffff" fill-opacity="0.3"/><circle cx="365.02" cy="125.43" r="0.5" fill="#ffffff" fill-opacity="0.3"/><circle cx="375.31" cy="135.02" r="0.5" fill="#ffffff" fill-opacity="0.3"/><circle cx="362.34" cy="128.04" r="0.5" fill="#ffffff" fill-opacity="0.3"/><circle cx="378.69" cy="124.12" r="0.5" fill="#ffffff" fill-opacity="0.3"/><circle cx="366.27" cy="123.81" r="0.5" fill="#ffffff" fill-opacity="0.3"/><circle cx="374.53" cy="135.73" r="0.5" fill="#ffffff" fill-opacity="0.3"/><circle cx="371.80" cy="121.20" r="0.5" fill="#ffffff" fill-opacity="0.3"/><circle cx="372.93" cy="134.53" r="0.5" fill="#ffffff" fill-opacity="0.3"/><circle cx="369.27" cy="116.67" r="0.5" fill="#ffffff" fill-opacity="0.3"/><circle cx="373.68" cy="130.84" r="0.5" fill="#ffffff" fill-opacity="0.3"/><circle cx="371.14" cy="132.09" r="0.5" fill="#ffffff" fill-opacity="0.3"/><circle cx="371.39" cy="124.20" r="0.5" fill="#ffffff" fill-opacity="0.3"/><circle cx="370.62" cy="122.20" r="0.5" fill="#ffffff" fill-opacity="0.3"/><circle cx="363.44" cy="128.70" r="0.5" fill="#ffffff" fill-opacity="0.3"/><circle cx="373.20" cy="125.10" r="0.5" fill="#ffffff" fill-opacity="0.3"/><circle cx="373.09" cy="118.74" r="0.5" fill="#ffffff" fill-opacity="0.3"/><circle cx="370.98" cy="120.63" r="0.5" fill="#ffffff" fill-opacity="0.3"/><circle cx="377.05" cy="121.87" r="0.5" fill="#ffffff" fill-opacity="0.3"/><circle cx="372.61" cy="132.80" r="0.5" fill="#ffffff" fill-opacity="0.3"/><circle cx="379.08" cy="133.75" r="0.5" fill="#ffffff" fill-opacity="0.3"/><circle cx="370.59" cy="123.96" r="0.5" fill="#ffffff" fill-opacity="0.3"/><circle cx="375.29" cy="126.04" r="0.5" fill="#ffffff" fill-opacity="0.3"/><circle cx="366.98" cy="120.79" r="0.5" fill="#ffffff" fill-opacity="0.3"/><circle cx="374.01" cy="116.30" r="0.5" fill="#ffffff" fill-opacity="0.3"/><circle cx="377.81" cy="136.82" r="0.5" fill="#ffffff" fill-opacity="0.3"/><circle cx="374.37" cy="123.96" r="0.5" fill="#ffffff" fill-opacity="0.3"/><circle cx="362.80" cy="124.54" r="0.5" fill="#ffffff" fill-opacity="0.3"/><circle cx="380.41" cy="124.53" r="0.5" fill="#ffffff" fill-opacity="0.3"/><circle cx="373.93" cy="135.61" r="0.5" fill="#ffffff" fill-opacity="0.3"/><circle cx="375.28" cy="121.47" r="0.5" fill="#ffffff" fill-opacity="0.3"/><circle cx="366.08" cy="123.40" r="0.5" fill="#ffffff" fill-opacity="0.3"/><circle cx="367.93" cy="122.31" r="0.5" fill="#ffffff" fill-opacity="0.3"/><circle cx="379.70" cy="127.34" r="0.5" fill="#ffffff" fill-opacity="0.3"/><circle cx="369.27" cy="137.29" r="0.5" fill="#ffffff" fill-opacity="0.3"/><circle cx="376.84" cy="137.75" r="0.5" fill="#ffffff" fill-opacity="0.3"/><circle cx="360.43" cy="122.80" r="0.5" fill="#ffffff" fill-opacity="0.3"/><circle cx="365.18" cy="129.89" r="0.5" fill="#ffffff" fill-opacity="0.3"/><circle cx="378.97" cy="132.75" r="0.5" fill="#ffffff" fill-opacity="0.3"/><circle cx="368.27" cy="125.88" r="0.5" fill="#ffffff" fill-opacity="0.3"/><circle cx="374.66" cy="134.34" r="0.5" fill="#ffffff" fill-opacity="0.3"/><circle cx="360.34" cy="122.86" r="0.5" fill="#ffffff" fill-opacity="0.3"/><circle cx="369.92" cy="123.98" r="0.5" fill="#ffffff" fill-opacity="0.3"/><circle cx="376.37" cy="126.56" r="0.5" fill="#ffffff" fill-opacity="0.3"/><circle cx="367.19" cy="125.41" r="0.5" fill="#ffffff" fill-opacity="0.3"/><circle cx="373.54" cy="131.15" r="0.5" fill="#ffffff" fill-opacity="0.3"/><circle cx="367.17" cy="123.62" r="0.5" fill="#ffffff" fill-opacity="0.3"/><circle cx="380.10" cy="129.32" r="0.5" fill="#ffffff" fill-opacity="0.3"/><circle cx="362.11" cy="130.28" r="0.5" fill="#ffffff" fill-opacity="0.3"/><circle cx="372.32" cy="129.08" r="0.5" fill="#ffffff" fill-opacity="0.3"/><circle cx="375.00" cy="132.59" r="0.5" fill="#ffffff" fill-opacity="0.3"/><circle cx="362.69" cy="128.29" r="0.5" fill="#ffffff" fill-opacity="0.3"/><circle cx="373.31" cy="128.41" r="0.5" fill="#ffffff" fill-opacity="0.3"/><circle cx="375.14" cy="116.29" r="0.5" fill="#ffffff" fill-opacity="0.3"/><circle cx="377.37" cy="137.70" r="0.5" fill="#ffffff" fill-opacity="0.3"/><circle cx="363.82" cy="123.39" r="0.5" fill="#ffffff" fill-opacity="0.3"/><circle cx="357.96" cy="126.31" r="0.5" fill="#ffffff" fill-opacity="0.3"/><circle cx="364.20" cy="123.50" r="0.5" fill="#ffffff" fill-opacity="0.3"/><circle cx="367.53" cy="138.65" r="0.5" fill="#ffffff" fill-opacity="0.3"/><circle cx="376.22" cy="122.08" r="0.5" fill="#ffffff" fill-opacity="0.3"/><circle cx="367.83" cy="128.28" r="0.5" fill="#ffffff" fill-opacity="0.3"/><circle cx="366.82" cy="119.40" r="0.5" fill="#ffffff" fill-opacity="0.3"/><circle cx="376.62" cy="136.09" r="0.5" fill="#ffffff" fill-opacity="0.3"/><circle cx="377.73" cy="136.47" r="0.5" fill="#ffffff" fill-opacity="0.3"/><circle cx="373.36" cy="121.41" r="0.5" fill="#ffffff" fill-opacity="0.3"/><circle cx="369.88" cy="138.54" r="0.5" fill="#ffffff" fill-opacity="0.3"/><circle cx="374.88" cy="132.63" r="0.5" fill="#ffffff" fill-opacity="0.3"/><circle cx="374.09" cy="117.93" r="0.5" fill="#ffffff" fill-opacity="0.3"/><circle cx="372.99" cy="116.71" r="0.5" fill="#ffffff" fill-opacity="0.3"/><circle cx="375.47" cy="125.22" r="0.5" fill="#ffffff" fill-opacity="0.3"/><circle cx="371.37" cy="131.60" r="0.5" fill="#ffffff" fill-opacity="0.3"/><circle cx="368.36" cy="131.21" r="0.5" fill="#ffffff" fill-opacity="0.3"/><circle cx="368.70" cy="129.15" r="0.5" fill="#ffffff" fill-opacity="0.3"/><circle cx="369.17" cy="130.74" r="0.5" fill="#ffffff" fill-opacity="0.3"/><circle cx="369.09" cy="123.77" r="0.5" fill="#ffffff" fill-opacity="0.3"/><circle cx="371.05" cy="124.63" r="0.5" fill="#ffffff" fill-opacity="0.3"/><circle cx="378.29" cy="134.03" r="0.5" fill="#ffffff" fill-opacity="0.3"/><circle cx="379.44" cy="124.06" r="0.5" fill="#ffffff" fill-opacity="0.3"/>
<circle cx="422.30" cy="77.97" r="0.5" fill="#ffffff" fill-opacity="0.35"/><circle cx="427.11" cy="79.18" r="0.5" fill="#ffffff" fill-opacity="0.35"/><circle cx="424.59" cy="74.17" r="0.5" fill="#ffffff" fill-opacity="0.35"/><circle cx="414.40" cy="76.85" r="0.5" fill="#ffffff" fill-opacity="0.35"/><circle cx="420.78" cy="74.37" r="0.5" fill="#ffffff" fill-opacity="0.35"/><circle cx="399.78" cy="72.03" r="0.5" fill="#ffffff" fill-opacity="0.35"/><circle cx="405.90" cy="78.08" r="0.5" fill="#ffffff" fill-opacity="0.35"/><circle cx="424.52" cy="77.83" r="0.5" fill="#ffffff" fill-opacity="0.35"/><circle cx="426.60" cy="73.86" r="0.5" fill="#ffffff" fill-opacity="0.35"/><circle cx="408.27" cy="74.92" r="0.5" fill="#ffffff" fill-opacity="0.35"/><circle cx="418.70" cy="74.50" r="0.5" fill="#ffffff" fill-opacity="0.35"/><circle cx="405.86" cy="77.96" r="0.5" fill="#ffffff" fill-opacity="0.35"/><circle cx="411.86" cy="73.63" r="0.5" fill="#ffffff" fill-opacity="0.35"/><circle cx="417.17" cy="73.30" r="0.5" fill="#ffffff" fill-opacity="0.35"/><circle cx="403.04" cy="75.35" r="0.5" fill="#ffffff" fill-opacity="0.35"/><circle cx="419.77" cy="72.09" r="0.5" fill="#ffffff" fill-opacity="0.35"/><circle cx="396.96" cy="75.87" r="0.5" fill="#ffffff" fill-opacity="0.35"/><circle cx="417.09" cy="77.47" r="0.5" fill="#ffffff" fill-opacity="0.35"/><circle cx="401.61" cy="76.67" r="0.5" fill="#ffffff" fill-opacity="0.35"/><circle cx="392.03" cy="73.12" r="0.5" fill="#ffffff" fill-opacity="0.35"/><circle cx="414.44" cy="73.68" r="0.5" fill="#ffffff" fill-opacity="0.35"/><circle cx="401.71" cy="73.18" r="0.5" fill="#ffffff" fill-opacity="0.35"/><circle cx="408.65" cy="76.30" r="0.5" fill="#ffffff" fill-opacity="0.35"/><circle cx="410.75" cy="71.07" r="0.5" fill="#ffffff" fill-opacity="0.35"/><circle cx="426.98" cy="78.61" r="0.5" fill="#ffffff" fill-opacity="0.35"/><circle cx="408.38" cy="77.29" r="0.5" fill="#ffffff" fill-opacity="0.35"/><circle cx="401.76" cy="72.86" r="0.5" fill="#ffffff" fill-opacity="0.35"/><circle cx="424.37" cy="76.96" r="0.5" fill="#ffffff" fill-opacity="0.35"/><circle cx="394.41" cy="72.44" r="0.5" fill="#ffffff" fill-opacity="0.35"/><circle cx="408.93" cy="74.72" r="0.5" fill="#ffffff" fill-opacity="0.35"/><circle cx="416.43" cy="79.50" r="0.5" fill="#ffffff" fill-opacity="0.35"/><circle cx="427.53" cy="78.41" r="0.5" fill="#ffffff" fill-opacity="0.35"/><circle cx="398.70" cy="70.78" r="0.5" fill="#ffffff" fill-opacity="0.35"/><circle cx="407.11" cy="71.62" r="0.5" fill="#ffffff" fill-opacity="0.35"/><circle cx="400.83" cy="72.40" r="0.5" fill="#ffffff" fill-opacity="0.35"/><circle cx="403.17" cy="73.96" r="0.5" fill="#ffffff" fill-opacity="0.35"/><circle cx="406.72" cy="75.52" r="0.5" fill="#ffffff" fill-opacity="0.35"/><circle cx="400.19" cy="75.45" r="0.5" fill="#ffffff" fill-opacity="0.35"/><circle cx="423.31" cy="72.40" r="0.5" fill="#ffffff" fill-opacity="0.35"/><circle cx="412.91" cy="78.98" r="0.5" fill="#ffffff" fill-opacity="0.35"/><circle cx="415.81" cy="73.85" r="0.5" fill="#ffffff" fill-opacity="0.35"/><circle cx="399.07" cy="76.47" r="0.5" fill="#ffffff" fill-opacity="0.35"/><circle cx="406.58" cy="77.97" r="0.5" fill="#ffffff" fill-opacity="0.35"/><circle cx="403.35" cy="74.74" r="0.5" fill="#ffffff" fill-opacity="0.35"/><circle cx="425.66" cy="78.17" r="0.5" fill="#ffffff" fill-opacity="0.35"/><circle cx="403.66" cy="72.98" r="0.5" fill="#ffffff" fill-opacity="0.35"/><circle cx="406.45" cy="75.23" r="0.5" fill="#ffffff" fill-opacity="0.35"/><circle cx="412.50" cy="73.66" r="0.5" fill="#ffffff" fill-opacity="0.35"/><circle cx="397.01" cy="72.49" r="0.5" fill="#ffffff" fill-opacity="0.35"/><circle cx="416.94" cy="78.52" r="0.5" fill="#ffffff" fill-opacity="0.35"/><circle cx="404.99" cy="75.48" r="0.5" fill="#ffffff" fill-opacity="0.35"/><circle cx="418.86" cy="77.97" r="0.5" fill="#ffffff" fill-opacity="0.35"/><circle cx="400.35" cy="75.27" r="0.5" fill="#ffffff" fill-opacity="0.35"/><circle cx="399.62" cy="72.51" r="0.5" fill="#ffffff" fill-opacity="0.35"/><circle cx="428.98" cy="77.33" r="0.5" fill="#ffffff" fill-opacity="0.35"/><circle cx="399.75" cy="72.44" r="0.5" fill="#ffffff" fill-opacity="0.35"/><circle cx="396.73" cy="71.64" r="0.5" fill="#ffffff" fill-opacity="0.35"/><circle cx="425.44" cy="79.77" r="0.5" fill="#ffffff" fill-opacity="0.35"/><circle cx="419.41" cy="78.85" r="0.5" fill="#ffffff" fill-opacity="0.35"/><circle cx="398.24" cy="72.65" r="0.5" fill="#ffffff" fill-opacity="0.35"/><circle cx="419.38" cy="78.98" r="0.5" fill="#ffffff" fill-opacity="0.35"/><circle cx="422.47" cy="76.41" r="0.5" fill="#ffffff" fill-opacity="0.35"/><circle cx="419.18" cy="76.19" r="0.5" fill="#ffffff" fill-opacity="0.35"/><circle cx="409.70" cy="72.42" r="0.5" fill="#ffffff" fill-opacity="0.35"/><circle cx="395.48" cy="70.60" r="0.5" fill="#ffffff" fill-opacity="0.35"/><circle cx="418.84" cy="75.31" r="0.5" fill="#ffffff" fill-opacity="0.35"/><circle cx="398.09" cy="75.36" r="0.5" fill="#ffffff" fill-opacity="0.35"/><circle cx="420.81" cy="80.50" r="0.5" fill="#ffffff" fill-opacity="0.35"/><circle cx="422.29" cy="78.48" r="0.5" fill="#ffffff" fill-opacity="0.35"/><circle cx="419.34" cy="73.71" r="0.5" fill="#ffffff" fill-opacity="0.35"/><circle cx="401.81" cy="76.58" r="0.5" fill="#ffffff" fill-opacity="0.35"/><circle cx="417.28" cy="72.77" r="0.5" fill="#ffffff" fill-opacity="0.35"/><circle cx="429.02" cy="73.93" r="0.5" fill="#ffffff" fill-opacity="0.35"/><circle cx="397.93" cy="73.49" r="0.5" fill="#ffffff" fill-opacity="0.35"/><circle cx="416.88" cy="78.33" r="0.5" fill="#ffffff" fill-opacity="0.35"/><circle cx="399.53" cy="71.79" r="0.5" fill="#ffffff" fill-opacity="0.35"/><circle cx="398.99" cy="74.00" r="0.5" fill="#ffffff" fill-opacity="0.35"/><circle cx="405.37" cy="77.89" r="0.5" fill="#ffffff" fill-opacity="0.35"/><circle cx="421.70" cy="80.67" r="0.5" fill="#ffffff" fill-opacity="0.35"/><circle cx="426.69" cy="72.41" r="0.5" fill="#ffffff" fill-opacity="0.35"/><circle cx="402.64" cy="73.64" r="0.5" fill="#ffffff" fill-opacity="0.35"/><circle cx="414.19" cy="79.07" r="0.5" fill="#ffffff" fill-opacity="0.35"/><circle cx="399.65" cy="75.65" r="0.5" fill="#ffffff" fill-opacity="0.35"/><circle cx="421.18" cy="79.18" r="0.5" fill="#ffffff" fill-opacity="0.35"/><circle cx="426.36" cy="76.95" r="0.5" fill="#ffffff" fill-opacity="0.35"/><circle cx="403.39" cy="76.96" r="0.5" fill="#ffffff" fill-opacity="0.35"/><circle cx="399.39" cy="71.83" r="0.5" fill="#ffffff" fill-opacity="0.35"/><circle cx="403.40" cy="72.06" r="0.5" fill="#ffffff" fill-opacity="0.35"/><circle cx="405.31" cy="75.77" r="0.5" fill="#ffffff" fill-opacity="0.35"/><circle cx="404.52" cy="74.37" r="0.5" fill="#ffffff" fill-opacity="0.35"/><circle cx="422.74" cy="78.68" r="0.5" fill="#ffffff" fill-opacity="0.35"/><circle cx="396.29" cy="71.94" r="0.5" fill="#ffffff" fill-opacity="0.35"/><circle cx="407.69" cy="78.36" r="0.5" fill="#ffffff" fill-opacity="0.35"/><circle cx="419.90" cy="74.31" r="0.5" fill="#ffffff" fill-opacity="0.35"/><circle cx="423.80" cy="73.64" r="0.5" fill="#ffffff" fill-opacity="0.35"/><circle cx="401.93" cy="71.28" r="0.5" fill="#ffffff" fill-opacity="0.35"/><circle cx="401.07" cy="71.84" r="0.5" fill="#ffffff" fill-opacity="0.35"/><circle cx="402.28" cy="76.49" r="0.5" fill="#ffffff" fill-opacity="0.35"/><circle cx="404.32" cy="72.95" r="0.5" fill="#ffffff" fill-opacity="0.35"/><circle cx="402.77" cy="76.66" r="0.5" fill="#ffffff" fill-opacity="0.35"/><circle cx="429.55" cy="80.90" r="0.5" fill="#ffffff" fill-opacity="0.35"/><circle cx="419.61" cy="76.42" r="0.5" fill="#ffffff" fill-opacity="0.35"/><circle cx="401.11" cy="71.14" r="0.5" fill="#ffffff" fill-opacity="0.35"/><circle cx="396.02" cy="70.64" r="0.5" fill="#ffffff" fill-opacity="0.35"/><circle cx="422.08" cy="78.42" r="0.5" fill="#ffffff" fill-opacity="0.35"/><circle cx="395.31" cy="72.06" r="0.5" fill="#ffffff" fill-opacity="0.35"/><circle cx="408.11" cy="77.49" r="0.5" fill="#ffffff" fill-opacity="0.35"/><circle cx="400.27" cy="72.92" r="0.5" fill="#ffffff" fill-opacity="0.35"/><circle cx="421.45" cy="76.16" r="0.5" fill="#ffffff" fill-opacity="0.35"/><circle cx="423.13" cy="79.86" r="0.5" fill="#ffffff" fill-opacity="0.35"/><circle cx="394.78" cy="74.05" r="0.5" fill="#ffffff" fill-opacity="0.35"/><circle cx="395.73" cy="72.58" r="0.5" fill="#ffffff" fill-opacity="0.35"/><circle cx="421.37" cy="72.10" r="0.5" fill="#ffffff" fill-opacity="0.35"/><circle cx="403.54" cy="71.01" r="0.5" fill="#ffffff" fill-opacity="0.35"/><circle cx="420.85" cy="77.10" r="0.5" fill="#ffffff" fill-opacity="0.35"/><circle cx="398.95" cy="73.81" r="0.5" fill="#ffffff" fill-opacity="0.35"/><circle cx="427.39" cy="79.44" r="0.5" fill="#ffffff" fill-opacity="0.35"/><circle cx="397.63" cy="76.14" r="0.5" fill="#ffffff" fill-opacity="0.35"/><circle cx="421.27" cy="72.44" r="0.5" fill="#ffffff" fill-opacity="0.35"/><circle cx="427.15" cy="78.23" r="0.5" fill="#ffffff" fill-opacity="0.35"/>
<line x1="311.40" y1="22.20" x2="311.40" y2="148.40" stroke="#7a7a7a" stroke-width="0.9"/>
<line x1="311.00" y1="148.20" x2="438.90" y2="148.20" stroke="#7a7a7a" stroke-width="0.9"/>
<text x="375.35" y="161.80" font-size="10" fill="#3c3c3c" text-anchor="middle" textLength="35.1" lengthAdjust="spacingAndGlyphs">UMAP 1</text>
<text x="302.20" y="88.30" font-size="10" fill="#3c3c3c" text-anchor="middle" transform="rotate(-90 302.20 88.30)" textLength="36.7" lengthAdjust="spacingAndGlyphs">UMAP 2</text>
<text x="473.70" y="10.90" font-size="15" fill="#111" font-weight="bold" stroke="#111" stroke-width="0.45">c</text>
<path d="M564.6,11.9 H661.3 V35.5" fill="none" stroke="#9a9a9a" stroke-width="0.8"/>
<line x1="564.60" y1="11.90" x2="564.60" y2="35.90" stroke="#555" stroke-width="0.9"/>
<line x1="564.20" y1="35.50" x2="661.70" y2="35.50" stroke="#555" stroke-width="0.9"/>
<rect x="564.60" y="13.85" width="87.97" height="5.70" fill="#fff" stroke="#a8c3e6" stroke-width="0.9"/>
<rect x="564.60" y="13.40" width="54.01" height="6.60" fill="#6b9bd1"/>
<line x1="561.40" y1="16.70" x2="564.60" y2="16.70" stroke="#555" stroke-width="0.8"/>
<text x="557.10" y="19.10" font-size="7.6" fill="#3c3c3c" text-anchor="end">Alveolar macrophage</text>
<rect x="564.60" y="21.30" width="40.59" height="5.70" fill="#fff" stroke="#b8407a" stroke-width="0.9"/>
<rect x="564.60" y="20.85" width="17.59" height="6.60" fill="#a3195b"/>
<line x1="561.40" y1="24.15" x2="564.60" y2="24.15" stroke="#555" stroke-width="0.8"/>
<text x="557.10" y="26.55" font-size="7.6" fill="#3c3c3c" text-anchor="end">Alveolar type II</text>
<rect x="564.60" y="28.75" width="9.25" height="5.70" fill="#fff" stroke="#8fd07f" stroke-width="0.9"/>
<rect x="564.60" y="28.30" width="4.75" height="6.60" fill="#56b647"/>
<line x1="561.40" y1="31.60" x2="564.60" y2="31.60" stroke="#555" stroke-width="0.8"/>
<text x="557.10" y="34.00" font-size="7.6" fill="#3c3c3c" text-anchor="end">Endothelial</text>
<line x1="564.60" y1="35.50" x2="564.60" y2="38.40" stroke="#555" stroke-width="0.8"/>
<text x="564.60" y="46.40" font-size="7.9" fill="#3c3c3c" text-anchor="middle">0</text>
<line x1="589.15" y1="35.50" x2="589.15" y2="38.40" stroke="#555" stroke-width="0.8"/>
<text x="589.15" y="46.40" font-size="7.9" fill="#3c3c3c" text-anchor="middle">30,000</text>
<line x1="613.70" y1="35.50" x2="613.70" y2="38.40" stroke="#555" stroke-width="0.8"/>
<line x1="638.25" y1="35.50" x2="638.25" y2="38.40" stroke="#555" stroke-width="0.8"/>
<text x="638.25" y="46.40" font-size="7.9" fill="#3c3c3c" text-anchor="middle">90,000</text>
<path d="M564.6,50.6 H661.3 V110.0" fill="none" stroke="#9a9a9a" stroke-width="0.8"/>
<line x1="564.60" y1="50.60" x2="564.60" y2="110.40" stroke="#555" stroke-width="0.9"/>
<line x1="564.20" y1="110.00" x2="661.70" y2="110.00" stroke="#555" stroke-width="0.9"/>
<rect x="564.60" y="52.05" width="88.23" height="6.70" fill="#fff" stroke="#ee5a6e" stroke-width="0.9"/>
<rect x="564.60" y="51.60" width="47.56" height="7.60" fill="#e8324e"/>
<line x1="561.40" y1="55.40" x2="564.60" y2="55.40" stroke="#555" stroke-width="0.8"/>
<text x="557.10" y="57.80" font-size="7.6" fill="#3c3c3c" text-anchor="end">Alveolar type I</text>
<rect x="564.60" y="60.43" width="42.80" height="6.70" fill="#fff" stroke="#9a6eb0" stroke-width="0.9"/>
<rect x="564.60" y="59.98" width="20.91" height="7.60" fill="#7c4694"/>
<line x1="561.40" y1="63.78" x2="564.60" y2="63.78" stroke="#555" stroke-width="0.8"/>
<text x="557.10" y="66.18" font-size="7.6" fill="#3c3c3c" text-anchor="end">Alveolar type I/II</text>
<rect x="564.60" y="68.81" width="35.10" height="6.70" fill="#fff" stroke="#87a4cc" stroke-width="0.9"/>
<rect x="564.60" y="68.36" width="19.60" height="7.60" fill="#5b7fb0"/>
<line x1="561.40" y1="72.16" x2="564.60" y2="72.16" stroke="#555" stroke-width="0.8"/>
<text x="557.10" y="74.56" font-size="7.6" fill="#3c3c3c" text-anchor="end">Alveolar fibroblast</text>
<rect x="564.60" y="77.19" width="24.76" height="6.70" fill="#fff" stroke="#6a7a40" stroke-width="0.9"/>
<rect x="564.60" y="76.74" width="13.45" height="7.60" fill="#4f5e2c"/>
<line x1="561.40" y1="80.54" x2="564.60" y2="80.54" stroke="#555" stroke-width="0.8"/>
<text x="557.10" y="82.94" font-size="7.6" fill="#3c3c3c" text-anchor="end">Classical DC</text>
<rect x="564.60" y="85.57" width="14.92" height="6.70" fill="#fff" stroke="#d8909c" stroke-width="0.9"/>
<rect x="564.60" y="85.12" width="6.89" height="7.60" fill="#c8707e"/>
<line x1="561.40" y1="88.92" x2="564.60" y2="88.92" stroke="#555" stroke-width="0.8"/>
<text x="557.10" y="91.32" font-size="7.6" fill="#3c3c3c" text-anchor="end">Ciliated</text>
<rect x="564.60" y="93.95" width="9.68" height="6.70" fill="#fff" stroke="#f4a080" stroke-width="0.9"/>
<rect x="564.60" y="93.50" width="5.41" height="7.60" fill="#f07030"/>
<line x1="561.40" y1="97.30" x2="564.60" y2="97.30" stroke="#555" stroke-width="0.8"/>
<text x="557.10" y="99.70" font-size="7.6" fill="#3c3c3c" text-anchor="end">Mature DC</text>
<rect x="564.60" y="102.33" width="9.02" height="6.70" fill="#fff" stroke="#6a88c4" stroke-width="0.9"/>
<rect x="564.60" y="101.88" width="5.25" height="7.60" fill="#3a5ea8"/>
<line x1="561.40" y1="105.68" x2="564.60" y2="105.68" stroke="#555" stroke-width="0.8"/>
<text x="557.10" y="108.08" font-size="7.6" fill="#3c3c3c" text-anchor="end">T lymphocyte/NK</text>
<line x1="564.60" y1="110.00" x2="564.60" y2="112.90" stroke="#555" stroke-width="0.8"/>
<line x1="581.00" y1="110.00" x2="581.00" y2="112.90" stroke="#555" stroke-width="0.8"/>
<line x1="597.40" y1="110.00" x2="597.40" y2="112.90" stroke="#555" stroke-width="0.8"/>
<line x1="613.80" y1="110.00" x2="613.80" y2="112.90" stroke="#555" stroke-width="0.8"/>
<line x1="630.20" y1="110.00" x2="630.20" y2="112.90" stroke="#555" stroke-width="0.8"/>
<line x1="646.60" y1="110.00" x2="646.60" y2="112.90" stroke="#555" stroke-width="0.8"/>
<text x="564.60" y="121.80" font-size="7.9" fill="#3c3c3c" text-anchor="middle">0</text>
<text x="597.40" y="121.80" font-size="7.9" fill="#3c3c3c" text-anchor="middle">2,000</text>
<text x="630.20" y="121.80" font-size="7.9" fill="#3c3c3c" text-anchor="middle">4,000</text>
<path d="M564.6,125.6 H661.3 V195.0" fill="none" stroke="#9a9a9a" stroke-width="0.8"/>
<line x1="564.60" y1="125.60" x2="564.60" y2="195.40" stroke="#555" stroke-width="0.9"/>
<line x1="564.20" y1="195.00" x2="661.70" y2="195.00" stroke="#555" stroke-width="0.9"/>
<rect x="564.60" y="127.45" width="88.04" height="6.70" fill="#fff" stroke="#3c8c6c" stroke-width="0.9"/>
<rect x="564.60" y="127.00" width="38.06" height="7.60" fill="#0e6a44"/>
<line x1="561.40" y1="130.80" x2="564.60" y2="130.80" stroke="#555" stroke-width="0.8"/>
<text x="557.10" y="133.20" font-size="7.6" fill="#3c3c3c" text-anchor="end">B</text>
<rect x="564.60" y="135.90" width="73.84" height="6.70" fill="#fff" stroke="#b8a0d4" stroke-width="0.9"/>
<rect x="564.60" y="135.45" width="54.24" height="7.60" fill="#9880b8"/>
<line x1="561.40" y1="139.25" x2="564.60" y2="139.25" stroke="#555" stroke-width="0.8"/>
<text x="557.10" y="141.65" font-size="7.6" fill="#3c3c3c" text-anchor="end">ASMC</text>
<rect x="564.60" y="144.35" width="44.87" height="6.70" fill="#fff" stroke="#40b0c0" stroke-width="0.9"/>
<rect x="564.60" y="143.90" width="23.00" height="7.60" fill="#1d8c9c"/>
<line x1="561.40" y1="147.70" x2="564.60" y2="147.70" stroke="#555" stroke-width="0.8"/>
<text x="557.10" y="150.10" font-size="7.6" fill="#3c3c3c" text-anchor="end">iMON</text>
<rect x="564.60" y="152.80" width="41.75" height="6.70" fill="#fff" stroke="#e880b0" stroke-width="0.9"/>
<rect x="564.60" y="152.35" width="21.30" height="7.60" fill="#e05898"/>
<line x1="561.40" y1="156.15" x2="564.60" y2="156.15" stroke="#555" stroke-width="0.8"/>
<text x="557.10" y="158.55" font-size="7.6" fill="#3c3c3c" text-anchor="end">Secretory</text>
<rect x="564.60" y="161.25" width="26.98" height="6.70" fill="#fff" stroke="#9cd4b0" stroke-width="0.9"/>
<rect x="564.60" y="160.80" width="9.37" height="7.60" fill="#86c49c"/>
<line x1="561.40" y1="164.60" x2="564.60" y2="164.60" stroke="#555" stroke-width="0.8"/>
<text x="557.10" y="167.00" font-size="7.6" fill="#3c3c3c" text-anchor="end">Pericyte</text>
<rect x="564.60" y="169.70" width="20.16" height="6.70" fill="#fff" stroke="#8a6a3a" stroke-width="0.9"/>
<rect x="564.60" y="169.25" width="12.50" height="7.60" fill="#7a5a28"/>
<line x1="561.40" y1="173.05" x2="564.60" y2="173.05" stroke="#555" stroke-width="0.8"/>
<text x="557.10" y="175.45" font-size="7.6" fill="#3c3c3c" text-anchor="end">Mesothelial</text>
<rect x="564.60" y="178.15" width="19.88" height="6.70" fill="#fff" stroke="#3a6a48" stroke-width="0.9"/>
<rect x="564.60" y="177.70" width="9.37" height="7.60" fill="#1b4a28"/>
<line x1="561.40" y1="181.50" x2="564.60" y2="181.50" stroke="#555" stroke-width="0.8"/>
<text x="557.10" y="183.90" font-size="7.6" fill="#3c3c3c" text-anchor="end">LEC</text>
<rect x="564.60" y="186.60" width="0.85" height="6.70" fill="#fff" stroke="#c89060" stroke-width="0.9"/>
<rect x="564.60" y="186.15" width="0.57" height="7.60" fill="#c89060"/>
<line x1="561.40" y1="189.95" x2="564.60" y2="189.95" stroke="#555" stroke-width="0.8"/>
<text x="557.10" y="192.35" font-size="7.6" fill="#3c3c3c" text-anchor="end">Mast</text>
<line x1="564.60" y1="195.00" x2="564.60" y2="197.90" stroke="#555" stroke-width="0.8"/>
<text x="564.60" y="206.80" font-size="7.9" fill="#3c3c3c" text-anchor="middle">0</text>
<line x1="593.00" y1="195.00" x2="593.00" y2="197.90" stroke="#555" stroke-width="0.8"/>
<text x="593.00" y="206.80" font-size="7.9" fill="#3c3c3c" text-anchor="middle">100</text>
<line x1="621.40" y1="195.00" x2="621.40" y2="197.90" stroke="#555" stroke-width="0.8"/>
<text x="621.40" y="206.80" font-size="7.9" fill="#3c3c3c" text-anchor="middle">200</text>
<line x1="649.80" y1="195.00" x2="649.80" y2="197.90" stroke="#555" stroke-width="0.8"/>
<text x="649.80" y="206.80" font-size="7.9" fill="#3c3c3c" text-anchor="middle">300</text>
<text x="612.80" y="220.10" font-size="9.3" fill="#3c3c3c" text-anchor="middle">Number of cells</text>
<rect x="619.60" y="171.00" width="7.80" height="7.80" fill="#231f20" stroke="#231f20" stroke-width="0.8"/>
<rect x="619.60" y="184.60" width="7.80" height="7.80" fill="#fff" stroke="#231f20" stroke-width="0.8"/>
<text x="632.60" y="177.80" font-size="8.6" fill="#3c3c3c">Young</text>
<text x="632.60" y="190.70" font-size="8.6" fill="#3c3c3c">Aged</text>
<text x="-0.60" y="212.50" font-size="15" fill="#111" font-weight="bold" stroke="#111" stroke-width="0.45">d</text>
<text x="59.70" y="213.60" font-size="9.2" fill="#4a74bd" text-anchor="middle">Lower in aged</text>
<text x="60.20" y="222.10" font-size="9.2" fill="#4a74bd" text-anchor="middle"><tspan font-style="italic">N</tspan> = 24</text>
<text x="126.20" y="214.00" font-size="9.3" fill="#e8394a" text-anchor="middle">Higher in aged</text>
<text x="126.50" y="222.50" font-size="9.2" fill="#e8394a" text-anchor="middle"><tspan font-style="italic">N</tspan> = 83</text>
<line x1="92.40" y1="220.80" x2="92.40" y2="353.50" stroke="#555" stroke-width="0.8" stroke-dasharray="3.8,2.4"/>
<line x1="39.50" y1="335.20" x2="199.80" y2="335.20" stroke="#555" stroke-width="0.8" stroke-dasharray="3.8,2.4"/>
<circle cx="112.60" cy="343.60" r="3.0" fill="#6a6a6a" stroke="#1a1a1a" stroke-width="0.45"/><circle cx="118.50" cy="343.40" r="3.0" fill="#6a6a6a" stroke="#1a1a1a" stroke-width="0.45"/><circle cx="124.80" cy="342.60" r="3.0" fill="#6a6a6a" stroke="#1a1a1a" stroke-width="0.45"/><circle cx="130.60" cy="341.80" r="3.0" fill="#6a6a6a" stroke="#1a1a1a" stroke-width="0.45"/><circle cx="135.60" cy="340.20" r="3.0" fill="#6a6a6a" stroke="#1a1a1a" stroke-width="0.45"/><circle cx="139.00" cy="338.40" r="3.0" fill="#6a6a6a" stroke="#1a1a1a" stroke-width="0.45"/><circle cx="80.61" cy="338.97" r="2.9" fill="#111111" stroke="#505050" stroke-width="0.45"/><circle cx="90.38" cy="343.51" r="2.9" fill="#111111" stroke="#505050" stroke-width="0.45"/><circle cx="109.30" cy="336.19" r="2.9" fill="#111111" stroke="#505050" stroke-width="0.45"/><circle cx="63.97" cy="335.88" r="2.9" fill="#111111" stroke="#505050" stroke-width="0.45"/><circle cx="82.19" cy="337.30" r="2.9" fill="#111111" stroke="#505050" stroke-width="0.45"/><circle cx="136.68" cy="336.11" r="2.9" fill="#111111" stroke="#505050" stroke-width="0.45"/><circle cx="124.90" cy="337.21" r="2.9" fill="#111111" stroke="#505050" stroke-width="0.45"/><circle cx="110.29" cy="336.68" r="2.9" fill="#111111" stroke="#505050" stroke-width="0.45"/><circle cx="109.98" cy="340.90" r="2.9" fill="#111111" stroke="#505050" stroke-width="0.45"/><circle cx="101.72" cy="341.35" r="2.9" fill="#111111" stroke="#505050" stroke-width="0.45"/><circle cx="112.68" cy="336.14" r="2.9" fill="#111111" stroke="#505050" stroke-width="0.45"/><circle cx="119.11" cy="338.22" r="2.9" fill="#111111" stroke="#505050" stroke-width="0.45"/><circle cx="85.29" cy="336.04" r="2.9" fill="#111111" stroke="#505050" stroke-width="0.45"/><circle cx="127.05" cy="337.00" r="2.9" fill="#111111" stroke="#505050" stroke-width="0.45"/><circle cx="116.19" cy="339.90" r="2.9" fill="#111111" stroke="#505050" stroke-width="0.45"/><circle cx="115.85" cy="340.15" r="2.9" fill="#111111" stroke="#505050" stroke-width="0.45"/><circle cx="92.23" cy="347.98" r="2.9" fill="#111111" stroke="#505050" stroke-width="0.45"/><circle cx="95.90" cy="344.01" r="2.9" fill="#111111" stroke="#505050" stroke-width="0.45"/><circle cx="128.04" cy="336.03" r="2.9" fill="#111111" stroke="#505050" stroke-width="0.45"/><circle cx="73.06" cy="336.45" r="2.9" fill="#111111" stroke="#505050" stroke-width="0.45"/><circle cx="134.45" cy="336.28" r="2.9" fill="#111111" stroke="#505050" stroke-width="0.45"/><circle cx="109.37" cy="337.60" r="2.9" fill="#111111" stroke="#505050" stroke-width="0.45"/><circle cx="100.54" cy="338.78" r="2.9" fill="#111111" stroke="#505050" stroke-width="0.45"/><circle cx="88.97" cy="341.82" r="2.9" fill="#111111" stroke="#505050" stroke-width="0.45"/><circle cx="106.23" cy="341.77" r="2.9" fill="#111111" stroke="#505050" stroke-width="0.45"/><circle cx="113.47" cy="340.62" r="2.9" fill="#111111" stroke="#505050" stroke-width="0.45"/><circle cx="126.37" cy="338.45" r="2.9" fill="#111111" stroke="#505050" stroke-width="0.45"/><circle cx="112.67" cy="336.67" r="2.9" fill="#111111" stroke="#505050" stroke-width="0.45"/><circle cx="126.69" cy="338.32" r="2.9" fill="#111111" stroke="#505050" stroke-width="0.45"/><circle cx="129.95" cy="336.92" r="2.9" fill="#111111" stroke="#505050" stroke-width="0.45"/><circle cx="115.82" cy="336.80" r="2.9" fill="#111111" stroke="#505050" stroke-width="0.45"/><circle cx="124.54" cy="337.54" r="2.9" fill="#111111" stroke="#505050" stroke-width="0.45"/><circle cx="84.09" cy="336.25" r="2.9" fill="#111111" stroke="#505050" stroke-width="0.45"/><circle cx="126.19" cy="338.48" r="2.9" fill="#111111" stroke="#505050" stroke-width="0.45"/><circle cx="69.55" cy="337.15" r="2.9" fill="#111111" stroke="#505050" stroke-width="0.45"/><circle cx="93.37" cy="337.79" r="2.9" fill="#111111" stroke="#505050" stroke-width="0.45"/><circle cx="84.75" cy="341.47" r="2.9" fill="#111111" stroke="#505050" stroke-width="0.45"/><circle cx="127.58" cy="335.91" r="2.9" fill="#111111" stroke="#505050" stroke-width="0.45"/><circle cx="108.48" cy="336.08" r="2.9" fill="#111111" stroke="#505050" stroke-width="0.45"/><circle cx="116.16" cy="337.34" r="2.9" fill="#111111" stroke="#505050" stroke-width="0.45"/><circle cx="128.19" cy="338.07" r="2.9" fill="#111111" stroke="#505050" stroke-width="0.45"/><circle cx="100.40" cy="343.53" r="2.9" fill="#111111" stroke="#505050" stroke-width="0.45"/><circle cx="85.92" cy="336.40" r="2.9" fill="#111111" stroke="#505050" stroke-width="0.45"/><circle cx="107.38" cy="336.00" r="2.9" fill="#111111" stroke="#505050" stroke-width="0.45"/><circle cx="77.61" cy="337.72" r="2.9" fill="#111111" stroke="#505050" stroke-width="0.45"/><circle cx="108.17" cy="336.77" r="2.9" fill="#111111" stroke="#505050" stroke-width="0.45"/><circle cx="66.14" cy="336.15" r="2.9" fill="#111111" stroke="#505050" stroke-width="0.45"/><circle cx="86.22" cy="343.41" r="2.9" fill="#111111" stroke="#505050" stroke-width="0.45"/><circle cx="129.35" cy="336.59" r="2.9" fill="#111111" stroke="#505050" stroke-width="0.45"/><circle cx="97.07" cy="340.16" r="2.9" fill="#111111" stroke="#505050" stroke-width="0.45"/><circle cx="110.65" cy="339.22" r="2.9" fill="#111111" stroke="#505050" stroke-width="0.45"/><circle cx="104.39" cy="340.12" r="2.9" fill="#111111" stroke="#505050" stroke-width="0.45"/><circle cx="132.61" cy="336.54" r="2.9" fill="#111111" stroke="#505050" stroke-width="0.45"/><circle cx="94.91" cy="343.37" r="2.9" fill="#111111" stroke="#505050" stroke-width="0.45"/><circle cx="80.59" cy="337.55" r="2.9" fill="#111111" stroke="#505050" stroke-width="0.45"/><circle cx="135.36" cy="336.28" r="2.9" fill="#111111" stroke="#505050" stroke-width="0.45"/><circle cx="103.58" cy="335.88" r="2.9" fill="#111111" stroke="#505050" stroke-width="0.45"/><circle cx="93.73" cy="343.10" r="2.9" fill="#111111" stroke="#505050" stroke-width="0.45"/><circle cx="64.48" cy="335.86" r="2.9" fill="#111111" stroke="#505050" stroke-width="0.45"/><circle cx="109.78" cy="336.16" r="2.9" fill="#111111" stroke="#505050" stroke-width="0.45"/><circle cx="109.42" cy="338.59" r="2.9" fill="#111111" stroke="#505050" stroke-width="0.45"/><circle cx="113.27" cy="337.64" r="2.9" fill="#111111" stroke="#505050" stroke-width="0.45"/><circle cx="115.31" cy="339.37" r="2.9" fill="#111111" stroke="#505050" stroke-width="0.45"/><circle cx="64.64" cy="335.81" r="2.9" fill="#111111" stroke="#505050" stroke-width="0.45"/><circle cx="113.03" cy="340.88" r="2.9" fill="#111111" stroke="#505050" stroke-width="0.45"/><circle cx="81.58" cy="338.63" r="2.9" fill="#111111" stroke="#505050" stroke-width="0.45"/><circle cx="106.86" cy="337.87" r="2.9" fill="#111111" stroke="#505050" stroke-width="0.45"/><circle cx="89.93" cy="339.55" r="2.9" fill="#111111" stroke="#505050" stroke-width="0.45"/><circle cx="90.32" cy="343.34" r="2.9" fill="#111111" stroke="#505050" stroke-width="0.45"/><circle cx="85.23" cy="338.65" r="2.9" fill="#111111" stroke="#505050" stroke-width="0.45"/><circle cx="120.15" cy="335.90" r="2.9" fill="#111111" stroke="#505050" stroke-width="0.45"/><circle cx="105.13" cy="340.81" r="2.9" fill="#111111" stroke="#505050" stroke-width="0.45"/><circle cx="85.94" cy="337.54" r="2.9" fill="#111111" stroke="#505050" stroke-width="0.45"/><circle cx="122.48" cy="336.62" r="2.9" fill="#111111" stroke="#505050" stroke-width="0.45"/><circle cx="76.87" cy="337.73" r="2.9" fill="#111111" stroke="#505050" stroke-width="0.45"/><circle cx="114.66" cy="336.31" r="2.9" fill="#111111" stroke="#505050" stroke-width="0.45"/><circle cx="86.83" cy="338.52" r="2.9" fill="#111111" stroke="#505050" stroke-width="0.45"/><circle cx="124.68" cy="337.12" r="2.9" fill="#111111" stroke="#505050" stroke-width="0.45"/><circle cx="126.31" cy="336.25" r="2.9" fill="#111111" stroke="#505050" stroke-width="0.45"/><circle cx="87.92" cy="341.37" r="2.9" fill="#111111" stroke="#505050" stroke-width="0.45"/><circle cx="128.48" cy="336.82" r="2.9" fill="#111111" stroke="#505050" stroke-width="0.45"/><circle cx="79.65" cy="336.46" r="2.9" fill="#111111" stroke="#505050" stroke-width="0.45"/><circle cx="102.19" cy="337.21" r="2.9" fill="#111111" stroke="#505050" stroke-width="0.45"/><circle cx="122.70" cy="338.64" r="2.9" fill="#111111" stroke="#505050" stroke-width="0.45"/><circle cx="76.59" cy="337.00" r="2.9" fill="#111111" stroke="#505050" stroke-width="0.45"/><circle cx="122.73" cy="337.97" r="2.9" fill="#111111" stroke="#505050" stroke-width="0.45"/><circle cx="122.66" cy="336.97" r="2.9" fill="#111111" stroke="#505050" stroke-width="0.45"/><circle cx="72.60" cy="336.62" r="2.9" fill="#111111" stroke="#505050" stroke-width="0.45"/><circle cx="121.75" cy="336.77" r="2.9" fill="#111111" stroke="#505050" stroke-width="0.45"/><circle cx="88.63" cy="339.85" r="2.9" fill="#111111" stroke="#505050" stroke-width="0.45"/><circle cx="94.06" cy="340.71" r="2.9" fill="#111111" stroke="#505050" stroke-width="0.45"/><circle cx="131.13" cy="336.07" r="2.9" fill="#111111" stroke="#505050" stroke-width="0.45"/><circle cx="63.34" cy="335.89" r="2.9" fill="#111111" stroke="#505050" stroke-width="0.45"/><circle cx="128.12" cy="338.10" r="2.9" fill="#111111" stroke="#505050" stroke-width="0.45"/><circle cx="95.14" cy="345.40" r="2.9" fill="#111111" stroke="#505050" stroke-width="0.45"/><circle cx="131.63" cy="336.17" r="2.9" fill="#111111" stroke="#505050" stroke-width="0.45"/><circle cx="118.17" cy="339.38" r="2.9" fill="#111111" stroke="#505050" stroke-width="0.45"/><circle cx="112.06" cy="338.64" r="2.9" fill="#111111" stroke="#505050" stroke-width="0.45"/><circle cx="84.39" cy="338.27" r="2.9" fill="#111111" stroke="#505050" stroke-width="0.45"/><circle cx="79.83" cy="336.18" r="2.9" fill="#111111" stroke="#505050" stroke-width="0.45"/><circle cx="106.56" cy="337.68" r="2.9" fill="#111111" stroke="#505050" stroke-width="0.45"/><circle cx="122.95" cy="335.95" r="2.9" fill="#111111" stroke="#505050" stroke-width="0.45"/><circle cx="129.87" cy="337.18" r="2.9" fill="#111111" stroke="#505050" stroke-width="0.45"/><circle cx="131.37" cy="337.32" r="2.9" fill="#111111" stroke="#505050" stroke-width="0.45"/><circle cx="129.58" cy="336.98" r="2.9" fill="#111111" stroke="#505050" stroke-width="0.45"/><circle cx="63.97" cy="335.87" r="2.9" fill="#111111" stroke="#505050" stroke-width="0.45"/><circle cx="75.71" cy="337.00" r="2.9" fill="#111111" stroke="#505050" stroke-width="0.45"/><circle cx="112.05" cy="338.67" r="2.9" fill="#111111" stroke="#505050" stroke-width="0.45"/><circle cx="93.62" cy="347.79" r="2.9" fill="#111111" stroke="#505050" stroke-width="0.45"/><circle cx="108.30" cy="337.92" r="2.9" fill="#111111" stroke="#505050" stroke-width="0.45"/><circle cx="81.68" cy="341.17" r="2.9" fill="#111111" stroke="#505050" stroke-width="0.45"/><circle cx="98.31" cy="342.17" r="2.9" fill="#111111" stroke="#505050" stroke-width="0.45"/><circle cx="89.04" cy="337.85" r="2.9" fill="#111111" stroke="#505050" stroke-width="0.45"/><circle cx="102.56" cy="341.78" r="2.9" fill="#111111" stroke="#505050" stroke-width="0.45"/><circle cx="75.68" cy="338.95" r="2.9" fill="#111111" stroke="#505050" stroke-width="0.45"/><circle cx="131.21" cy="337.19" r="2.9" fill="#111111" stroke="#505050" stroke-width="0.45"/><circle cx="123.94" cy="335.82" r="2.9" fill="#111111" stroke="#505050" stroke-width="0.45"/><circle cx="109.52" cy="340.94" r="2.9" fill="#111111" stroke="#505050" stroke-width="0.45"/><circle cx="66.69" cy="335.97" r="2.9" fill="#111111" stroke="#505050" stroke-width="0.45"/><circle cx="82.88" cy="339.32" r="2.9" fill="#111111" stroke="#505050" stroke-width="0.45"/><circle cx="94.30" cy="341.27" r="2.9" fill="#111111" stroke="#505050" stroke-width="0.45"/><circle cx="120.46" cy="335.81" r="2.9" fill="#111111" stroke="#505050" stroke-width="0.45"/><circle cx="67.06" cy="335.89" r="2.9" fill="#111111" stroke="#505050" stroke-width="0.45"/><circle cx="72.22" cy="335.98" r="2.9" fill="#111111" stroke="#505050" stroke-width="0.45"/><circle cx="135.13" cy="336.62" r="2.9" fill="#111111" stroke="#505050" stroke-width="0.45"/><circle cx="69.37" cy="336.61" r="2.9" fill="#111111" stroke="#505050" stroke-width="0.45"/><circle cx="86.38" cy="338.31" r="2.9" fill="#111111" stroke="#505050" stroke-width="0.45"/><circle cx="89.00" cy="342.49" r="2.9" fill="#111111" stroke="#505050" stroke-width="0.45"/><circle cx="106.41" cy="338.17" r="2.9" fill="#111111" stroke="#505050" stroke-width="0.45"/><circle cx="77.14" cy="337.29" r="2.9" fill="#111111" stroke="#505050" stroke-width="0.45"/><circle cx="72.16" cy="337.28" r="2.9" fill="#111111" stroke="#505050" stroke-width="0.45"/><circle cx="115.99" cy="337.59" r="2.9" fill="#111111" stroke="#505050" stroke-width="0.45"/><circle cx="68.91" cy="336.06" r="2.9" fill="#111111" stroke="#505050" stroke-width="0.45"/><circle cx="90.62" cy="343.77" r="2.9" fill="#111111" stroke="#505050" stroke-width="0.45"/><circle cx="120.91" cy="337.22" r="2.9" fill="#111111" stroke="#505050" stroke-width="0.45"/><circle cx="122.29" cy="337.96" r="2.9" fill="#111111" stroke="#505050" stroke-width="0.45"/><circle cx="94.94" cy="339.70" r="2.9" fill="#111111" stroke="#505050" stroke-width="0.45"/><circle cx="99.72" cy="341.34" r="2.9" fill="#111111" stroke="#505050" stroke-width="0.45"/><circle cx="94.12" cy="344.06" r="2.9" fill="#111111" stroke="#505050" stroke-width="0.45"/><circle cx="97.10" cy="337.86" r="2.9" fill="#111111" stroke="#505050" stroke-width="0.45"/><circle cx="102.65" cy="340.88" r="2.9" fill="#111111" stroke="#505050" stroke-width="0.45"/><circle cx="68.30" cy="336.31" r="2.9" fill="#111111" stroke="#505050" stroke-width="0.45"/><circle cx="94.51" cy="345.65" r="2.9" fill="#111111" stroke="#505050" stroke-width="0.45"/><circle cx="132.30" cy="336.37" r="2.9" fill="#111111" stroke="#505050" stroke-width="0.45"/><circle cx="129.44" cy="337.44" r="2.9" fill="#111111" stroke="#505050" stroke-width="0.45"/><circle cx="82.40" cy="338.82" r="2.9" fill="#111111" stroke="#505050" stroke-width="0.45"/><circle cx="72.11" cy="337.95" r="2.9" fill="#111111" stroke="#505050" stroke-width="0.45"/><circle cx="112.01" cy="340.66" r="2.9" fill="#111111" stroke="#505050" stroke-width="0.45"/><circle cx="121.64" cy="338.20" r="2.9" fill="#111111" stroke="#505050" stroke-width="0.45"/><circle cx="117.30" cy="338.31" r="2.9" fill="#111111" stroke="#505050" stroke-width="0.45"/><circle cx="70.63" cy="337.03" r="2.9" fill="#111111" stroke="#505050" stroke-width="0.45"/><circle cx="63.36" cy="335.81" r="2.9" fill="#111111" stroke="#505050" stroke-width="0.45"/><circle cx="120.30" cy="335.97" r="2.9" fill="#111111" stroke="#505050" stroke-width="0.45"/><circle cx="69.79" cy="335.98" r="2.9" fill="#111111" stroke="#505050" stroke-width="0.45"/><circle cx="128.15" cy="336.22" r="2.9" fill="#111111" stroke="#505050" stroke-width="0.45"/><circle cx="64.74" cy="335.88" r="2.9" fill="#111111" stroke="#505050" stroke-width="0.45"/><circle cx="71.97" cy="337.99" r="2.9" fill="#111111" stroke="#505050" stroke-width="0.45"/><circle cx="112.84" cy="340.24" r="2.9" fill="#111111" stroke="#505050" stroke-width="0.45"/><circle cx="133.48" cy="336.55" r="2.9" fill="#111111" stroke="#505050" stroke-width="0.45"/><circle cx="122.11" cy="335.93" r="2.9" fill="#111111" stroke="#505050" stroke-width="0.45"/><circle cx="119.79" cy="337.82" r="2.9" fill="#111111" stroke="#505050" stroke-width="0.45"/><circle cx="115.92" cy="336.30" r="2.9" fill="#111111" stroke="#505050" stroke-width="0.45"/><circle cx="118.42" cy="339.75" r="2.9" fill="#111111" stroke="#505050" stroke-width="0.45"/><circle cx="67.52" cy="336.10" r="2.9" fill="#111111" stroke="#505050" stroke-width="0.45"/><circle cx="104.73" cy="341.51" r="2.9" fill="#111111" stroke="#505050" stroke-width="0.45"/><circle cx="80.92" cy="336.87" r="2.9" fill="#111111" stroke="#505050" stroke-width="0.45"/><circle cx="81.50" cy="339.60" r="2.9" fill="#111111" stroke="#505050" stroke-width="0.45"/><circle cx="118.76" cy="337.44" r="2.9" fill="#111111" stroke="#505050" stroke-width="0.45"/><circle cx="90.19" cy="340.73" r="2.9" fill="#111111" stroke="#505050" stroke-width="0.45"/><circle cx="88.92" cy="340.07" r="2.9" fill="#111111" stroke="#505050" stroke-width="0.45"/><circle cx="69.16" cy="336.57" r="2.9" fill="#111111" stroke="#505050" stroke-width="0.45"/><circle cx="135.01" cy="336.21" r="2.9" fill="#111111" stroke="#505050" stroke-width="0.45"/><circle cx="118.31" cy="336.48" r="2.9" fill="#111111" stroke="#505050" stroke-width="0.45"/><circle cx="114.12" cy="339.63" r="2.9" fill="#111111" stroke="#505050" stroke-width="0.45"/><circle cx="112.87" cy="338.55" r="2.9" fill="#111111" stroke="#505050" stroke-width="0.45"/><circle cx="98.80" cy="340.98" r="2.9" fill="#111111" stroke="#505050" stroke-width="0.45"/><circle cx="129.41" cy="336.11" r="2.9" fill="#111111" stroke="#505050" stroke-width="0.45"/><circle cx="70.09" cy="337.21" r="2.9" fill="#111111" stroke="#505050" stroke-width="0.45"/><circle cx="130.83" cy="336.73" r="2.9" fill="#111111" stroke="#505050" stroke-width="0.45"/><circle cx="95.79" cy="342.25" r="2.9" fill="#111111" stroke="#505050" stroke-width="0.45"/><circle cx="76.77" cy="336.97" r="2.9" fill="#111111" stroke="#505050" stroke-width="0.45"/><circle cx="77.74" cy="338.58" r="2.9" fill="#111111" stroke="#505050" stroke-width="0.45"/><circle cx="86.30" cy="337.65" r="2.9" fill="#111111" stroke="#505050" stroke-width="0.45"/><circle cx="114.14" cy="340.62" r="2.9" fill="#111111" stroke="#505050" stroke-width="0.45"/><circle cx="84.89" cy="341.04" r="2.9" fill="#111111" stroke="#505050" stroke-width="0.45"/><circle cx="93.58" cy="346.76" r="2.9" fill="#111111" stroke="#505050" stroke-width="0.45"/><circle cx="106.26" cy="337.56" r="2.9" fill="#111111" stroke="#505050" stroke-width="0.45"/><circle cx="79.10" cy="335.92" r="2.9" fill="#111111" stroke="#505050" stroke-width="0.45"/><circle cx="98.48" cy="338.91" r="2.9" fill="#111111" stroke="#505050" stroke-width="0.45"/><circle cx="75.75" cy="337.24" r="2.9" fill="#111111" stroke="#505050" stroke-width="0.45"/><circle cx="86.83" cy="342.12" r="2.9" fill="#111111" stroke="#505050" stroke-width="0.45"/><circle cx="73.63" cy="338.98" r="2.9" fill="#111111" stroke="#505050" stroke-width="0.45"/><circle cx="98.49" cy="340.66" r="2.9" fill="#111111" stroke="#505050" stroke-width="0.45"/><circle cx="97.64" cy="342.71" r="2.9" fill="#111111" stroke="#505050" stroke-width="0.45"/><circle cx="123.80" cy="337.57" r="2.9" fill="#111111" stroke="#505050" stroke-width="0.45"/><circle cx="98.62" cy="341.63" r="2.9" fill="#111111" stroke="#505050" stroke-width="0.45"/><circle cx="126.39" cy="336.87" r="2.9" fill="#111111" stroke="#505050" stroke-width="0.45"/><circle cx="117.29" cy="340.07" r="2.9" fill="#111111" stroke="#505050" stroke-width="0.45"/><circle cx="97.59" cy="337.70" r="2.9" fill="#111111" stroke="#505050" stroke-width="0.45"/><circle cx="80.37" cy="339.92" r="2.9" fill="#111111" stroke="#505050" stroke-width="0.45"/><circle cx="112.98" cy="340.87" r="2.9" fill="#111111" stroke="#505050" stroke-width="0.45"/><circle cx="126.19" cy="336.46" r="2.9" fill="#111111" stroke="#505050" stroke-width="0.45"/><circle cx="77.03" cy="336.96" r="2.9" fill="#111111" stroke="#505050" stroke-width="0.45"/><circle cx="76.85" cy="338.91" r="2.9" fill="#111111" stroke="#505050" stroke-width="0.45"/><circle cx="126.54" cy="338.18" r="2.9" fill="#111111" stroke="#505050" stroke-width="0.45"/><circle cx="81.87" cy="341.25" r="2.9" fill="#111111" stroke="#505050" stroke-width="0.45"/><circle cx="86.19" cy="339.15" r="2.9" fill="#111111" stroke="#505050" stroke-width="0.45"/><circle cx="116.94" cy="336.19" r="2.9" fill="#111111" stroke="#505050" stroke-width="0.45"/><circle cx="69.86" cy="337.30" r="2.9" fill="#111111" stroke="#505050" stroke-width="0.45"/><circle cx="84.59" cy="338.41" r="2.9" fill="#111111" stroke="#505050" stroke-width="0.45"/><circle cx="105.94" cy="340.30" r="2.9" fill="#111111" stroke="#505050" stroke-width="0.45"/><circle cx="63.51" cy="335.83" r="2.9" fill="#111111" stroke="#505050" stroke-width="0.45"/><circle cx="95.28" cy="340.59" r="2.9" fill="#111111" stroke="#505050" stroke-width="0.45"/><circle cx="78.55" cy="338.76" r="2.9" fill="#111111" stroke="#505050" stroke-width="0.45"/><circle cx="133.69" cy="336.29" r="2.9" fill="#111111" stroke="#505050" stroke-width="0.45"/><circle cx="103.28" cy="336.66" r="2.9" fill="#111111" stroke="#505050" stroke-width="0.45"/><circle cx="83.33" cy="340.36" r="2.9" fill="#111111" stroke="#505050" stroke-width="0.45"/><circle cx="71.33" cy="337.88" r="2.9" fill="#111111" stroke="#505050" stroke-width="0.45"/><circle cx="130.25" cy="335.99" r="2.9" fill="#111111" stroke="#505050" stroke-width="0.45"/><circle cx="132.66" cy="336.34" r="2.9" fill="#111111" stroke="#505050" stroke-width="0.45"/><circle cx="120.16" cy="338.74" r="2.9" fill="#111111" stroke="#505050" stroke-width="0.45"/><circle cx="84.87" cy="340.82" r="2.9" fill="#111111" stroke="#505050" stroke-width="0.45"/><circle cx="111.40" cy="340.31" r="2.9" fill="#111111" stroke="#505050" stroke-width="0.45"/><circle cx="82.65" cy="340.77" r="2.9" fill="#111111" stroke="#505050" stroke-width="0.45"/><circle cx="134.14" cy="336.58" r="2.9" fill="#111111" stroke="#505050" stroke-width="0.45"/><circle cx="102.68" cy="336.63" r="2.9" fill="#111111" stroke="#505050" stroke-width="0.45"/><circle cx="99.55" cy="338.58" r="2.9" fill="#111111" stroke="#505050" stroke-width="0.45"/><circle cx="116.14" cy="338.97" r="2.9" fill="#111111" stroke="#505050" stroke-width="0.45"/><circle cx="104.91" cy="337.05" r="2.9" fill="#111111" stroke="#505050" stroke-width="0.45"/><circle cx="110.78" cy="339.41" r="2.9" fill="#111111" stroke="#505050" stroke-width="0.45"/><circle cx="76.25" cy="339.53" r="2.9" fill="#111111" stroke="#505050" stroke-width="0.45"/><circle cx="111.50" cy="336.49" r="2.9" fill="#111111" stroke="#505050" stroke-width="0.45"/><circle cx="131.96" cy="336.02" r="2.9" fill="#111111" stroke="#505050" stroke-width="0.45"/><circle cx="87.53" cy="341.87" r="2.9" fill="#111111" stroke="#505050" stroke-width="0.45"/><circle cx="107.21" cy="339.36" r="2.9" fill="#111111" stroke="#505050" stroke-width="0.45"/><circle cx="110.91" cy="338.40" r="2.9" fill="#111111" stroke="#505050" stroke-width="0.45"/><circle cx="86.12" cy="337.19" r="2.9" fill="#111111" stroke="#505050" stroke-width="0.45"/><circle cx="68.08" cy="336.61" r="2.9" fill="#111111" stroke="#505050" stroke-width="0.45"/><circle cx="118.83" cy="338.05" r="2.9" fill="#111111" stroke="#505050" stroke-width="0.45"/><circle cx="117.73" cy="337.37" r="2.9" fill="#111111" stroke="#505050" stroke-width="0.45"/><circle cx="82.67" cy="338.33" r="2.9" fill="#111111" stroke="#505050" stroke-width="0.45"/><circle cx="127.57" cy="335.90" r="2.9" fill="#111111" stroke="#505050" stroke-width="0.45"/><circle cx="100.35" cy="337.72" r="2.9" fill="#111111" stroke="#505050" stroke-width="0.45"/><circle cx="119.90" cy="337.19" r="2.9" fill="#111111" stroke="#505050" stroke-width="0.45"/><circle cx="87.63" cy="339.21" r="2.9" fill="#111111" stroke="#505050" stroke-width="0.45"/><circle cx="103.07" cy="341.37" r="2.9" fill="#111111" stroke="#505050" stroke-width="0.45"/><circle cx="89.11" cy="344.73" r="2.9" fill="#111111" stroke="#505050" stroke-width="0.45"/><circle cx="71.30" cy="336.43" r="2.9" fill="#111111" stroke="#505050" stroke-width="0.45"/><circle cx="70.37" cy="336.02" r="2.9" fill="#111111" stroke="#505050" stroke-width="0.45"/><circle cx="120.64" cy="338.56" r="2.9" fill="#111111" stroke="#505050" stroke-width="0.45"/><circle cx="76.68" cy="336.62" r="2.9" fill="#111111" stroke="#505050" stroke-width="0.45"/><circle cx="93.83" cy="345.01" r="2.9" fill="#111111" stroke="#505050" stroke-width="0.45"/><circle cx="123.37" cy="338.24" r="2.9" fill="#111111" stroke="#505050" stroke-width="0.45"/><circle cx="106.80" cy="336.75" r="2.9" fill="#111111" stroke="#505050" stroke-width="0.45"/><circle cx="92.48" cy="338.66" r="2.9" fill="#111111" stroke="#505050" stroke-width="0.45"/><circle cx="102.04" cy="340.02" r="2.9" fill="#111111" stroke="#505050" stroke-width="0.45"/><circle cx="77.95" cy="337.01" r="2.9" fill="#111111" stroke="#505050" stroke-width="0.45"/><circle cx="120.84" cy="335.91" r="2.9" fill="#111111" stroke="#505050" stroke-width="0.45"/><circle cx="122.43" cy="338.87" r="2.9" fill="#111111" stroke="#505050" stroke-width="0.45"/><circle cx="133.25" cy="336.31" r="2.9" fill="#111111" stroke="#505050" stroke-width="0.45"/><circle cx="103.89" cy="339.92" r="2.9" fill="#111111" stroke="#505050" stroke-width="0.45"/><circle cx="109.89" cy="341.55" r="2.9" fill="#111111" stroke="#505050" stroke-width="0.45"/><circle cx="113.81" cy="337.33" r="2.9" fill="#111111" stroke="#505050" stroke-width="0.45"/><circle cx="126.64" cy="337.07" r="2.9" fill="#111111" stroke="#505050" stroke-width="0.45"/><circle cx="107.50" cy="340.42" r="2.9" fill="#111111" stroke="#505050" stroke-width="0.45"/><circle cx="63.18" cy="335.88" r="2.9" fill="#111111" stroke="#505050" stroke-width="0.45"/><circle cx="111.98" cy="338.50" r="2.9" fill="#111111" stroke="#505050" stroke-width="0.45"/><circle cx="101.75" cy="339.24" r="2.9" fill="#111111" stroke="#505050" stroke-width="0.45"/><circle cx="77.31" cy="338.23" r="2.9" fill="#111111" stroke="#505050" stroke-width="0.45"/><circle cx="65.74" cy="335.93" r="2.9" fill="#111111" stroke="#505050" stroke-width="0.45"/><circle cx="110.80" cy="338.34" r="2.9" fill="#111111" stroke="#505050" stroke-width="0.45"/><circle cx="104.88" cy="342.39" r="2.9" fill="#111111" stroke="#505050" stroke-width="0.45"/><circle cx="129.01" cy="336.09" r="2.9" fill="#111111" stroke="#505050" stroke-width="0.45"/><circle cx="121.64" cy="338.04" r="2.9" fill="#111111" stroke="#505050" stroke-width="0.45"/><circle cx="66.74" cy="336.03" r="2.9" fill="#111111" stroke="#505050" stroke-width="0.45"/><circle cx="80.27" cy="336.24" r="2.9" fill="#111111" stroke="#505050" stroke-width="0.45"/><circle cx="102.88" cy="342.55" r="2.9" fill="#111111" stroke="#505050" stroke-width="0.45"/><circle cx="86.91" cy="342.93" r="2.9" fill="#111111" stroke="#505050" stroke-width="0.45"/><circle cx="114.40" cy="336.47" r="2.9" fill="#111111" stroke="#505050" stroke-width="0.45"/><circle cx="126.51" cy="337.39" r="2.9" fill="#111111" stroke="#505050" stroke-width="0.45"/><circle cx="131.60" cy="336.98" r="2.9" fill="#111111" stroke="#505050" stroke-width="0.45"/><circle cx="117.74" cy="337.30" r="2.9" fill="#111111" stroke="#505050" stroke-width="0.45"/><circle cx="122.69" cy="338.96" r="2.9" fill="#111111" stroke="#505050" stroke-width="0.45"/><circle cx="126.75" cy="336.94" r="2.9" fill="#111111" stroke="#505050" stroke-width="0.45"/><circle cx="119.01" cy="337.79" r="2.9" fill="#111111" stroke="#505050" stroke-width="0.45"/><circle cx="71.08" cy="335.90" r="2.9" fill="#111111" stroke="#505050" stroke-width="0.45"/><circle cx="68.77" cy="336.08" r="2.9" fill="#111111" stroke="#505050" stroke-width="0.45"/><circle cx="74.90" cy="337.63" r="2.9" fill="#111111" stroke="#505050" stroke-width="0.45"/><circle cx="114.75" cy="338.46" r="2.9" fill="#111111" stroke="#505050" stroke-width="0.45"/><circle cx="94.24" cy="343.39" r="2.9" fill="#111111" stroke="#505050" stroke-width="0.45"/><circle cx="85.54" cy="339.37" r="2.9" fill="#111111" stroke="#505050" stroke-width="0.45"/><circle cx="119.03" cy="337.45" r="2.9" fill="#111111" stroke="#505050" stroke-width="0.45"/><circle cx="76.36" cy="339.61" r="2.9" fill="#111111" stroke="#505050" stroke-width="0.45"/><circle cx="116.26" cy="337.51" r="2.9" fill="#111111" stroke="#505050" stroke-width="0.45"/><circle cx="90.45" cy="342.62" r="2.9" fill="#111111" stroke="#505050" stroke-width="0.45"/><circle cx="107.14" cy="337.24" r="2.9" fill="#111111" stroke="#505050" stroke-width="0.45"/><circle cx="63.20" cy="335.82" r="2.9" fill="#111111" stroke="#505050" stroke-width="0.45"/><circle cx="120.96" cy="336.34" r="2.9" fill="#111111" stroke="#505050" stroke-width="0.45"/><circle cx="97.04" cy="337.44" r="2.9" fill="#111111" stroke="#505050" stroke-width="0.45"/><circle cx="78.49" cy="336.66" r="2.9" fill="#111111" stroke="#505050" stroke-width="0.45"/><circle cx="92.88" cy="338.17" r="2.9" fill="#111111" stroke="#505050" stroke-width="0.45"/><circle cx="65.03" cy="335.81" r="2.9" fill="#111111" stroke="#505050" stroke-width="0.45"/><circle cx="75.45" cy="337.71" r="2.9" fill="#111111" stroke="#505050" stroke-width="0.45"/><circle cx="67.42" cy="335.82" r="2.9" fill="#111111" stroke="#505050" stroke-width="0.45"/><circle cx="96.15" cy="339.29" r="2.9" fill="#111111" stroke="#505050" stroke-width="0.45"/><circle cx="115.05" cy="336.05" r="2.9" fill="#111111" stroke="#505050" stroke-width="0.45"/><circle cx="92.84" cy="341.40" r="2.9" fill="#111111" stroke="#505050" stroke-width="0.45"/><circle cx="64.97" cy="335.90" r="2.9" fill="#111111" stroke="#505050" stroke-width="0.45"/><circle cx="79.20" cy="336.30" r="2.9" fill="#111111" stroke="#505050" stroke-width="0.45"/><circle cx="98.12" cy="337.15" r="2.9" fill="#111111" stroke="#505050" stroke-width="0.45"/><circle cx="109.06" cy="337.90" r="2.9" fill="#111111" stroke="#505050" stroke-width="0.45"/><circle cx="72.17" cy="335.94" r="2.9" fill="#111111" stroke="#505050" stroke-width="0.45"/><circle cx="116.85" cy="337.05" r="2.9" fill="#111111" stroke="#505050" stroke-width="0.45"/><circle cx="121.30" cy="337.50" r="2.9" fill="#111111" stroke="#505050" stroke-width="0.45"/><circle cx="132.04" cy="336.27" r="2.9" fill="#111111" stroke="#505050" stroke-width="0.45"/><circle cx="81.50" cy="337.44" r="2.9" fill="#111111" stroke="#505050" stroke-width="0.45"/><circle cx="123.29" cy="337.86" r="2.9" fill="#111111" stroke="#505050" stroke-width="0.45"/><circle cx="88.51" cy="336.69" r="2.9" fill="#111111" stroke="#505050" stroke-width="0.45"/><circle cx="113.50" cy="340.83" r="2.9" fill="#111111" stroke="#505050" stroke-width="0.45"/><circle cx="106.83" cy="335.82" r="2.9" fill="#111111" stroke="#505050" stroke-width="0.45"/><circle cx="65.24" cy="335.81" r="2.9" fill="#111111" stroke="#505050" stroke-width="0.45"/><circle cx="75.60" cy="335.94" r="2.9" fill="#111111" stroke="#505050" stroke-width="0.45"/><circle cx="66.99" cy="336.27" r="2.9" fill="#111111" stroke="#505050" stroke-width="0.45"/><circle cx="129.62" cy="336.21" r="2.9" fill="#111111" stroke="#505050" stroke-width="0.45"/><circle cx="135.06" cy="336.27" r="2.9" fill="#111111" stroke="#505050" stroke-width="0.45"/><circle cx="122.47" cy="338.95" r="2.9" fill="#111111" stroke="#505050" stroke-width="0.45"/><circle cx="132.57" cy="335.85" r="2.9" fill="#111111" stroke="#505050" stroke-width="0.45"/><circle cx="85.55" cy="340.46" r="2.9" fill="#111111" stroke="#505050" stroke-width="0.45"/><circle cx="133.04" cy="335.92" r="2.9" fill="#111111" stroke="#505050" stroke-width="0.45"/><circle cx="84.71" cy="342.06" r="2.9" fill="#111111" stroke="#505050" stroke-width="0.45"/><circle cx="71.49" cy="336.74" r="2.9" fill="#111111" stroke="#505050" stroke-width="0.45"/><circle cx="87.73" cy="341.58" r="2.9" fill="#111111" stroke="#505050" stroke-width="0.45"/><circle cx="131.71" cy="336.09" r="2.9" fill="#111111" stroke="#505050" stroke-width="0.45"/><circle cx="117.74" cy="339.00" r="2.9" fill="#111111" stroke="#505050" stroke-width="0.45"/><circle cx="124.84" cy="337.45" r="2.9" fill="#111111" stroke="#505050" stroke-width="0.45"/><circle cx="131.34" cy="336.42" r="2.9" fill="#111111" stroke="#505050" stroke-width="0.45"/><circle cx="93.69" cy="338.70" r="2.9" fill="#111111" stroke="#505050" stroke-width="0.45"/><circle cx="120.68" cy="337.62" r="2.9" fill="#111111" stroke="#505050" stroke-width="0.45"/><circle cx="82.94" cy="336.94" r="2.9" fill="#111111" stroke="#505050" stroke-width="0.45"/><circle cx="116.33" cy="338.61" r="2.9" fill="#111111" stroke="#505050" stroke-width="0.45"/><circle cx="115.59" cy="337.65" r="2.9" fill="#111111" stroke="#505050" stroke-width="0.45"/><circle cx="99.05" cy="337.03" r="2.9" fill="#111111" stroke="#505050" stroke-width="0.45"/><circle cx="115.59" cy="335.91" r="2.9" fill="#111111" stroke="#505050" stroke-width="0.45"/><circle cx="97.55" cy="342.09" r="2.9" fill="#111111" stroke="#505050" stroke-width="0.45"/><circle cx="113.12" cy="336.31" r="2.9" fill="#111111" stroke="#505050" stroke-width="0.45"/><circle cx="80.55" cy="340.70" r="2.9" fill="#111111" stroke="#505050" stroke-width="0.45"/><circle cx="110.54" cy="340.86" r="2.9" fill="#111111" stroke="#505050" stroke-width="0.45"/><circle cx="127.55" cy="336.90" r="2.9" fill="#111111" stroke="#505050" stroke-width="0.45"/><circle cx="129.37" cy="337.33" r="2.9" fill="#111111" stroke="#505050" stroke-width="0.45"/><circle cx="87.69" cy="338.94" r="2.9" fill="#111111" stroke="#505050" stroke-width="0.45"/><circle cx="68.33" cy="336.29" r="2.9" fill="#111111" stroke="#505050" stroke-width="0.45"/><circle cx="133.72" cy="335.93" r="2.9" fill="#111111" stroke="#505050" stroke-width="0.45"/><circle cx="105.10" cy="336.55" r="2.9" fill="#111111" stroke="#505050" stroke-width="0.45"/><circle cx="68.99" cy="336.75" r="2.9" fill="#111111" stroke="#505050" stroke-width="0.45"/><circle cx="80.81" cy="336.09" r="2.9" fill="#111111" stroke="#505050" stroke-width="0.45"/><circle cx="74.30" cy="338.03" r="2.9" fill="#111111" stroke="#505050" stroke-width="0.45"/><circle cx="106.33" cy="335.88" r="2.9" fill="#111111" stroke="#505050" stroke-width="0.45"/><circle cx="80.01" cy="341.22" r="2.9" fill="#111111" stroke="#505050" stroke-width="0.45"/><circle cx="79.29" cy="338.80" r="2.9" fill="#111111" stroke="#505050" stroke-width="0.45"/><circle cx="94.05" cy="345.18" r="2.9" fill="#111111" stroke="#505050" stroke-width="0.45"/><circle cx="107.72" cy="340.78" r="2.9" fill="#111111" stroke="#505050" stroke-width="0.45"/><circle cx="102.61" cy="337.18" r="2.9" fill="#111111" stroke="#505050" stroke-width="0.45"/><circle cx="76.14" cy="336.13" r="2.9" fill="#111111" stroke="#505050" stroke-width="0.45"/><circle cx="124.09" cy="336.15" r="2.9" fill="#111111" stroke="#505050" stroke-width="0.45"/><circle cx="64.78" cy="335.90" r="2.9" fill="#111111" stroke="#505050" stroke-width="0.45"/><circle cx="77.75" cy="340.05" r="2.9" fill="#111111" stroke="#505050" stroke-width="0.45"/><circle cx="69.35" cy="336.55" r="2.9" fill="#111111" stroke="#505050" stroke-width="0.45"/><circle cx="79.48" cy="340.28" r="2.9" fill="#111111" stroke="#505050" stroke-width="0.45"/><circle cx="108.54" cy="339.75" r="2.9" fill="#111111" stroke="#505050" stroke-width="0.45"/><circle cx="119.34" cy="339.33" r="2.9" fill="#111111" stroke="#505050" stroke-width="0.45"/><circle cx="88.61" cy="341.63" r="2.9" fill="#111111" stroke="#505050" stroke-width="0.45"/><circle cx="95.97" cy="336.76" r="2.9" fill="#111111" stroke="#505050" stroke-width="0.45"/><circle cx="124.82" cy="337.57" r="2.9" fill="#111111" stroke="#505050" stroke-width="0.45"/><circle cx="123.30" cy="336.47" r="2.9" fill="#111111" stroke="#505050" stroke-width="0.45"/><circle cx="102.90" cy="339.17" r="2.9" fill="#111111" stroke="#505050" stroke-width="0.45"/><circle cx="116.87" cy="336.15" r="2.9" fill="#111111" stroke="#505050" stroke-width="0.45"/><circle cx="88.62" cy="340.49" r="2.9" fill="#111111" stroke="#505050" stroke-width="0.45"/><circle cx="68.29" cy="336.47" r="2.9" fill="#111111" stroke="#505050" stroke-width="0.45"/><circle cx="117.41" cy="337.67" r="2.9" fill="#111111" stroke="#505050" stroke-width="0.45"/><circle cx="110.98" cy="339.24" r="2.9" fill="#111111" stroke="#505050" stroke-width="0.45"/><circle cx="78.85" cy="337.61" r="2.9" fill="#111111" stroke="#505050" stroke-width="0.45"/><circle cx="136.69" cy="336.02" r="2.9" fill="#111111" stroke="#505050" stroke-width="0.45"/><circle cx="94.88" cy="336.69" r="2.9" fill="#111111" stroke="#505050" stroke-width="0.45"/><circle cx="79.12" cy="336.67" r="2.9" fill="#111111" stroke="#505050" stroke-width="0.45"/><circle cx="131.89" cy="336.96" r="2.9" fill="#111111" stroke="#505050" stroke-width="0.45"/><circle cx="127.73" cy="338.18" r="2.9" fill="#111111" stroke="#505050" stroke-width="0.45"/><circle cx="108.30" cy="341.57" r="2.9" fill="#111111" stroke="#505050" stroke-width="0.45"/><circle cx="102.64" cy="338.86" r="2.9" fill="#111111" stroke="#505050" stroke-width="0.45"/><circle cx="133.16" cy="337.02" r="2.9" fill="#111111" stroke="#505050" stroke-width="0.45"/><circle cx="133.27" cy="336.44" r="2.9" fill="#111111" stroke="#505050" stroke-width="0.45"/><circle cx="120.24" cy="337.38" r="2.9" fill="#111111" stroke="#505050" stroke-width="0.45"/><circle cx="136.80" cy="336.39" r="2.9" fill="#111111" stroke="#505050" stroke-width="0.45"/><circle cx="84.61" cy="342.65" r="2.9" fill="#111111" stroke="#505050" stroke-width="0.45"/><circle cx="76.66" cy="336.22" r="2.9" fill="#111111" stroke="#505050" stroke-width="0.45"/><circle cx="116.45" cy="337.16" r="2.9" fill="#111111" stroke="#505050" stroke-width="0.45"/><circle cx="101.44" cy="340.62" r="2.9" fill="#111111" stroke="#505050" stroke-width="0.45"/><circle cx="66.00" cy="336.06" r="2.9" fill="#111111" stroke="#505050" stroke-width="0.45"/><circle cx="83.42" cy="338.78" r="2.9" fill="#111111" stroke="#505050" stroke-width="0.45"/><circle cx="88.51" cy="342.85" r="2.9" fill="#111111" stroke="#505050" stroke-width="0.45"/><circle cx="118.26" cy="337.02" r="2.9" fill="#111111" stroke="#505050" stroke-width="0.45"/><circle cx="70.65" cy="336.43" r="2.9" fill="#111111" stroke="#505050" stroke-width="0.45"/><circle cx="93.42" cy="336.82" r="2.9" fill="#111111" stroke="#505050" stroke-width="0.45"/><circle cx="74.34" cy="338.45" r="2.9" fill="#111111" stroke="#505050" stroke-width="0.45"/><circle cx="114.83" cy="340.61" r="2.9" fill="#111111" stroke="#505050" stroke-width="0.45"/><circle cx="135.49" cy="336.58" r="2.9" fill="#111111" stroke="#505050" stroke-width="0.45"/><circle cx="90.57" cy="337.91" r="2.9" fill="#111111" stroke="#505050" stroke-width="0.45"/><circle cx="86.08" cy="339.45" r="2.9" fill="#111111" stroke="#505050" stroke-width="0.45"/><circle cx="101.92" cy="339.84" r="2.9" fill="#111111" stroke="#505050" stroke-width="0.45"/><circle cx="89.62" cy="345.55" r="2.9" fill="#111111" stroke="#505050" stroke-width="0.45"/><circle cx="84.10" cy="339.11" r="2.9" fill="#111111" stroke="#505050" stroke-width="0.45"/><circle cx="128.62" cy="337.60" r="2.9" fill="#111111" stroke="#505050" stroke-width="0.45"/><circle cx="85.01" cy="337.61" r="2.9" fill="#111111" stroke="#505050" stroke-width="0.45"/><circle cx="122.69" cy="335.83" r="2.9" fill="#111111" stroke="#505050" stroke-width="0.45"/><circle cx="72.73" cy="337.33" r="2.9" fill="#111111" stroke="#505050" stroke-width="0.45"/><circle cx="102.65" cy="337.01" r="2.9" fill="#111111" stroke="#505050" stroke-width="0.45"/><circle cx="66.72" cy="335.93" r="2.9" fill="#111111" stroke="#505050" stroke-width="0.45"/><circle cx="119.98" cy="337.63" r="2.9" fill="#111111" stroke="#505050" stroke-width="0.45"/><circle cx="135.47" cy="336.51" r="2.9" fill="#111111" stroke="#505050" stroke-width="0.45"/><circle cx="135.46" cy="335.83" r="2.9" fill="#111111" stroke="#505050" stroke-width="0.45"/><circle cx="76.69" cy="335.86" r="2.9" fill="#111111" stroke="#505050" stroke-width="0.45"/><circle cx="94.99" cy="339.30" r="2.9" fill="#111111" stroke="#505050" stroke-width="0.45"/><circle cx="66.79" cy="336.15" r="2.9" fill="#111111" stroke="#505050" stroke-width="0.45"/><circle cx="69.94" cy="336.37" r="2.9" fill="#111111" stroke="#505050" stroke-width="0.45"/><circle cx="81.30" cy="340.68" r="2.9" fill="#111111" stroke="#505050" stroke-width="0.45"/><circle cx="93.95" cy="338.97" r="2.9" fill="#111111" stroke="#505050" stroke-width="0.45"/><circle cx="66.26" cy="335.99" r="2.9" fill="#111111" stroke="#505050" stroke-width="0.45"/><circle cx="109.43" cy="339.84" r="2.9" fill="#111111" stroke="#505050" stroke-width="0.45"/><circle cx="130.53" cy="337.31" r="2.9" fill="#111111" stroke="#505050" stroke-width="0.45"/><circle cx="81.31" cy="336.63" r="2.9" fill="#111111" stroke="#505050" stroke-width="0.45"/><circle cx="119.11" cy="339.03" r="2.9" fill="#111111" stroke="#505050" stroke-width="0.45"/><circle cx="100.65" cy="342.19" r="2.9" fill="#111111" stroke="#505050" stroke-width="0.45"/><circle cx="103.84" cy="337.78" r="2.9" fill="#111111" stroke="#505050" stroke-width="0.45"/><circle cx="75.49" cy="335.87" r="2.9" fill="#111111" stroke="#505050" stroke-width="0.45"/><circle cx="110.59" cy="340.96" r="2.9" fill="#111111" stroke="#505050" stroke-width="0.45"/><circle cx="130.06" cy="336.71" r="2.9" fill="#111111" stroke="#505050" stroke-width="0.45"/><circle cx="112.25" cy="340.84" r="2.9" fill="#111111" stroke="#505050" stroke-width="0.45"/><circle cx="123.24" cy="337.78" r="2.9" fill="#111111" stroke="#505050" stroke-width="0.45"/><circle cx="93.67" cy="342.37" r="2.9" fill="#111111" stroke="#505050" stroke-width="0.45"/><circle cx="75.64" cy="336.53" r="2.9" fill="#111111" stroke="#505050" stroke-width="0.45"/><circle cx="113.60" cy="340.93" r="2.9" fill="#111111" stroke="#505050" stroke-width="0.45"/><circle cx="103.48" cy="338.71" r="2.9" fill="#111111" stroke="#505050" stroke-width="0.45"/><circle cx="89.04" cy="340.54" r="2.9" fill="#111111" stroke="#505050" stroke-width="0.45"/><circle cx="122.42" cy="337.36" r="2.9" fill="#111111" stroke="#505050" stroke-width="0.45"/><circle cx="133.99" cy="335.98" r="2.9" fill="#111111" stroke="#505050" stroke-width="0.45"/><circle cx="86.30" cy="339.96" r="2.9" fill="#111111" stroke="#505050" stroke-width="0.45"/><circle cx="93.48" cy="346.87" r="2.9" fill="#111111" stroke="#505050" stroke-width="0.45"/><circle cx="124.24" cy="338.68" r="2.9" fill="#111111" stroke="#505050" stroke-width="0.45"/><circle cx="108.32" cy="335.99" r="2.9" fill="#111111" stroke="#505050" stroke-width="0.45"/><circle cx="105.51" cy="339.51" r="2.9" fill="#111111" stroke="#505050" stroke-width="0.45"/><circle cx="99.08" cy="338.04" r="2.9" fill="#111111" stroke="#505050" stroke-width="0.45"/><circle cx="115.50" cy="340.17" r="2.9" fill="#111111" stroke="#505050" stroke-width="0.45"/><circle cx="70.58" cy="337.18" r="2.9" fill="#111111" stroke="#505050" stroke-width="0.45"/><circle cx="90.48" cy="342.46" r="2.9" fill="#111111" stroke="#505050" stroke-width="0.45"/><circle cx="129.28" cy="337.82" r="2.9" fill="#111111" stroke="#505050" stroke-width="0.45"/><circle cx="110.62" cy="336.92" r="2.9" fill="#111111" stroke="#505050" stroke-width="0.45"/><circle cx="131.13" cy="336.12" r="2.9" fill="#111111" stroke="#505050" stroke-width="0.45"/><circle cx="91.36" cy="347.80" r="2.9" fill="#111111" stroke="#505050" stroke-width="0.45"/><circle cx="86.40" cy="337.97" r="2.9" fill="#111111" stroke="#505050" stroke-width="0.45"/><circle cx="133.29" cy="337.05" r="2.9" fill="#111111" stroke="#505050" stroke-width="0.45"/><circle cx="86.49" cy="338.95" r="2.9" fill="#111111" stroke="#505050" stroke-width="0.45"/><circle cx="83.86" cy="336.73" r="2.9" fill="#111111" stroke="#505050" stroke-width="0.45"/><circle cx="81.52" cy="341.85" r="2.9" fill="#111111" stroke="#505050" stroke-width="0.45"/><circle cx="68.87" cy="336.13" r="2.9" fill="#111111" stroke="#505050" stroke-width="0.45"/><circle cx="77.80" cy="336.18" r="2.9" fill="#111111" stroke="#505050" stroke-width="0.45"/><circle cx="101.94" cy="341.33" r="2.9" fill="#111111" stroke="#505050" stroke-width="0.45"/><circle cx="125.03" cy="337.65" r="2.9" fill="#111111" stroke="#505050" stroke-width="0.45"/><circle cx="123.52" cy="335.82" r="2.9" fill="#111111" stroke="#505050" stroke-width="0.45"/><circle cx="83.88" cy="342.58" r="2.9" fill="#111111" stroke="#505050" stroke-width="0.45"/><circle cx="68.13" cy="336.11" r="2.9" fill="#111111" stroke="#505050" stroke-width="0.45"/><circle cx="98.73" cy="337.96" r="2.9" fill="#111111" stroke="#505050" stroke-width="0.45"/><circle cx="103.41" cy="336.14" r="2.9" fill="#111111" stroke="#505050" stroke-width="0.45"/><circle cx="80.46" cy="341.33" r="2.9" fill="#111111" stroke="#505050" stroke-width="0.45"/><circle cx="73.67" cy="338.72" r="2.9" fill="#111111" stroke="#505050" stroke-width="0.45"/><circle cx="76.17" cy="339.93" r="2.9" fill="#111111" stroke="#505050" stroke-width="0.45"/><circle cx="112.92" cy="339.23" r="2.9" fill="#111111" stroke="#505050" stroke-width="0.45"/><circle cx="73.52" cy="335.97" r="2.9" fill="#111111" stroke="#505050" stroke-width="0.45"/><circle cx="119.20" cy="336.52" r="2.9" fill="#111111" stroke="#505050" stroke-width="0.45"/><circle cx="77.03" cy="339.49" r="2.9" fill="#111111" stroke="#505050" stroke-width="0.45"/><circle cx="127.74" cy="335.92" r="2.9" fill="#111111" stroke="#505050" stroke-width="0.45"/><circle cx="134.10" cy="336.42" r="2.9" fill="#111111" stroke="#505050" stroke-width="0.45"/><circle cx="91.30" cy="337.34" r="2.9" fill="#111111" stroke="#505050" stroke-width="0.45"/><circle cx="91.85" cy="350.95" r="2.9" fill="#111111" stroke="#505050" stroke-width="0.45"/><circle cx="83.78" cy="336.72" r="2.9" fill="#111111" stroke="#505050" stroke-width="0.45"/><circle cx="73.75" cy="336.21" r="2.9" fill="#111111" stroke="#505050" stroke-width="0.45"/><circle cx="89.08" cy="345.40" r="2.9" fill="#111111" stroke="#505050" stroke-width="0.45"/><circle cx="68.70" cy="336.06" r="2.9" fill="#111111" stroke="#505050" stroke-width="0.45"/><circle cx="132.51" cy="337.27" r="2.9" fill="#111111" stroke="#505050" stroke-width="0.45"/><circle cx="135.51" cy="336.02" r="2.9" fill="#111111" stroke="#505050" stroke-width="0.45"/><circle cx="89.22" cy="346.01" r="2.9" fill="#111111" stroke="#505050" stroke-width="0.45"/><circle cx="98.90" cy="341.45" r="2.9" fill="#111111" stroke="#505050" stroke-width="0.45"/><circle cx="86.18" cy="335.97" r="2.9" fill="#111111" stroke="#505050" stroke-width="0.45"/><circle cx="88.56" cy="342.96" r="2.9" fill="#111111" stroke="#505050" stroke-width="0.45"/><circle cx="120.86" cy="337.93" r="2.9" fill="#111111" stroke="#505050" stroke-width="0.45"/><circle cx="97.34" cy="340.29" r="2.9" fill="#111111" stroke="#505050" stroke-width="0.45"/><circle cx="95.73" cy="340.65" r="2.9" fill="#111111" stroke="#505050" stroke-width="0.45"/><circle cx="124.64" cy="336.40" r="2.9" fill="#111111" stroke="#505050" stroke-width="0.45"/><circle cx="106.98" cy="341.82" r="2.9" fill="#111111" stroke="#505050" stroke-width="0.45"/><circle cx="125.78" cy="336.30" r="2.9" fill="#111111" stroke="#505050" stroke-width="0.45"/><circle cx="134.30" cy="336.75" r="2.9" fill="#111111" stroke="#505050" stroke-width="0.45"/><circle cx="75.43" cy="336.83" r="2.9" fill="#111111" stroke="#505050" stroke-width="0.45"/><circle cx="77.97" cy="336.06" r="2.9" fill="#111111" stroke="#505050" stroke-width="0.45"/><circle cx="135.40" cy="336.17" r="2.9" fill="#111111" stroke="#505050" stroke-width="0.45"/><circle cx="127.58" cy="336.08" r="2.9" fill="#111111" stroke="#505050" stroke-width="0.45"/><circle cx="64.03" cy="335.89" r="2.9" fill="#111111" stroke="#505050" stroke-width="0.45"/><circle cx="121.76" cy="339.34" r="2.9" fill="#111111" stroke="#505050" stroke-width="0.45"/><circle cx="113.72" cy="338.50" r="2.9" fill="#111111" stroke="#505050" stroke-width="0.45"/><circle cx="119.69" cy="336.17" r="2.9" fill="#111111" stroke="#505050" stroke-width="0.45"/><circle cx="102.99" cy="338.99" r="2.9" fill="#111111" stroke="#505050" stroke-width="0.45"/><circle cx="73.83" cy="337.77" r="2.9" fill="#111111" stroke="#505050" stroke-width="0.45"/><circle cx="86.91" cy="339.95" r="2.9" fill="#111111" stroke="#505050" stroke-width="0.45"/><circle cx="90.64" cy="340.01" r="2.9" fill="#111111" stroke="#505050" stroke-width="0.45"/><circle cx="89.52" cy="342.57" r="2.9" fill="#111111" stroke="#505050" stroke-width="0.45"/><circle cx="135.56" cy="336.63" r="2.9" fill="#111111" stroke="#505050" stroke-width="0.45"/><circle cx="126.80" cy="337.96" r="2.9" fill="#111111" stroke="#505050" stroke-width="0.45"/><circle cx="84.22" cy="342.82" r="2.9" fill="#111111" stroke="#505050" stroke-width="0.45"/><circle cx="82.96" cy="336.63" r="2.9" fill="#111111" stroke="#505050" stroke-width="0.45"/><circle cx="100.06" cy="341.52" r="2.9" fill="#111111" stroke="#505050" stroke-width="0.45"/><circle cx="88.23" cy="341.61" r="2.9" fill="#111111" stroke="#505050" stroke-width="0.45"/><circle cx="83.90" cy="342.63" r="2.9" fill="#111111" stroke="#505050" stroke-width="0.45"/><circle cx="96.51" cy="339.86" r="2.9" fill="#111111" stroke="#505050" stroke-width="0.45"/><circle cx="102.33" cy="342.24" r="2.9" fill="#111111" stroke="#505050" stroke-width="0.45"/><circle cx="136.00" cy="336.22" r="2.9" fill="#111111" stroke="#505050" stroke-width="0.45"/><circle cx="95.68" cy="341.46" r="2.9" fill="#111111" stroke="#505050" stroke-width="0.45"/><circle cx="68.13" cy="336.29" r="2.9" fill="#111111" stroke="#505050" stroke-width="0.45"/><circle cx="125.71" cy="337.98" r="2.9" fill="#111111" stroke="#505050" stroke-width="0.45"/><circle cx="67.39" cy="336.55" r="2.9" fill="#111111" stroke="#505050" stroke-width="0.45"/><circle cx="91.42" cy="350.11" r="2.9" fill="#111111" stroke="#505050" stroke-width="0.45"/><circle cx="90.13" cy="338.45" r="2.9" fill="#111111" stroke="#505050" stroke-width="0.45"/><circle cx="103.60" cy="342.09" r="2.9" fill="#111111" stroke="#505050" stroke-width="0.45"/><circle cx="94.90" cy="344.93" r="2.9" fill="#111111" stroke="#505050" stroke-width="0.45"/><circle cx="115.64" cy="337.52" r="2.9" fill="#111111" stroke="#505050" stroke-width="0.45"/><circle cx="85.24" cy="339.62" r="2.9" fill="#111111" stroke="#505050" stroke-width="0.45"/><circle cx="92.53" cy="341.27" r="2.9" fill="#111111" stroke="#505050" stroke-width="0.45"/><circle cx="111.23" cy="340.73" r="2.9" fill="#111111" stroke="#505050" stroke-width="0.45"/><circle cx="106.25" cy="336.76" r="2.9" fill="#111111" stroke="#505050" stroke-width="0.45"/><circle cx="79.27" cy="337.78" r="2.9" fill="#111111" stroke="#505050" stroke-width="0.45"/><circle cx="108.49" cy="336.66" r="2.9" fill="#111111" stroke="#505050" stroke-width="0.45"/><circle cx="69.03" cy="336.28" r="2.9" fill="#111111" stroke="#505050" stroke-width="0.45"/><circle cx="83.94" cy="336.01" r="2.9" fill="#111111" stroke="#505050" stroke-width="0.45"/><circle cx="102.87" cy="342.49" r="2.9" fill="#111111" stroke="#505050" stroke-width="0.45"/><circle cx="102.54" cy="341.20" r="2.9" fill="#111111" stroke="#505050" stroke-width="0.45"/><circle cx="124.30" cy="338.38" r="2.9" fill="#111111" stroke="#505050" stroke-width="0.45"/><circle cx="130.57" cy="336.62" r="2.9" fill="#111111" stroke="#505050" stroke-width="0.45"/><circle cx="113.50" cy="336.43" r="2.9" fill="#111111" stroke="#505050" stroke-width="0.45"/><circle cx="128.12" cy="336.68" r="2.9" fill="#111111" stroke="#505050" stroke-width="0.45"/><circle cx="98.18" cy="343.08" r="2.9" fill="#111111" stroke="#505050" stroke-width="0.45"/><circle cx="84.22" cy="337.16" r="2.9" fill="#111111" stroke="#505050" stroke-width="0.45"/><circle cx="123.95" cy="337.68" r="2.9" fill="#111111" stroke="#505050" stroke-width="0.45"/><circle cx="69.28" cy="335.84" r="2.9" fill="#111111" stroke="#505050" stroke-width="0.45"/><circle cx="88.99" cy="335.88" r="2.9" fill="#111111" stroke="#505050" stroke-width="0.45"/><circle cx="124.60" cy="336.35" r="2.9" fill="#111111" stroke="#505050" stroke-width="0.45"/><circle cx="83.29" cy="338.46" r="2.9" fill="#111111" stroke="#505050" stroke-width="0.45"/><circle cx="100.87" cy="339.11" r="2.9" fill="#111111" stroke="#505050" stroke-width="0.45"/><circle cx="109.52" cy="339.73" r="2.9" fill="#111111" stroke="#505050" stroke-width="0.45"/><circle cx="95.28" cy="336.76" r="2.9" fill="#111111" stroke="#505050" stroke-width="0.45"/><circle cx="135.45" cy="336.42" r="2.9" fill="#111111" stroke="#505050" stroke-width="0.45"/><circle cx="69.18" cy="336.48" r="2.9" fill="#111111" stroke="#505050" stroke-width="0.45"/><circle cx="118.76" cy="339.92" r="2.9" fill="#111111" stroke="#505050" stroke-width="0.45"/><circle cx="67.88" cy="335.81" r="2.9" fill="#111111" stroke="#505050" stroke-width="0.45"/><circle cx="98.52" cy="339.22" r="2.9" fill="#111111" stroke="#505050" stroke-width="0.45"/><circle cx="129.19" cy="337.56" r="2.9" fill="#111111" stroke="#505050" stroke-width="0.45"/><circle cx="87.54" cy="339.33" r="2.9" fill="#111111" stroke="#505050" stroke-width="0.45"/><circle cx="106.13" cy="341.66" r="2.9" fill="#111111" stroke="#505050" stroke-width="0.45"/><circle cx="77.94" cy="337.69" r="2.9" fill="#111111" stroke="#505050" stroke-width="0.45"/><circle cx="69.55" cy="336.88" r="2.9" fill="#111111" stroke="#505050" stroke-width="0.45"/><circle cx="64.97" cy="335.89" r="2.9" fill="#111111" stroke="#505050" stroke-width="0.45"/><circle cx="101.76" cy="340.09" r="2.9" fill="#111111" stroke="#505050" stroke-width="0.45"/><circle cx="69.31" cy="336.17" r="2.9" fill="#111111" stroke="#505050" stroke-width="0.45"/><circle cx="97.69" cy="342.89" r="2.9" fill="#111111" stroke="#505050" stroke-width="0.45"/><circle cx="102.89" cy="337.87" r="2.9" fill="#111111" stroke="#505050" stroke-width="0.45"/><circle cx="135.67" cy="336.37" r="2.9" fill="#111111" stroke="#505050" stroke-width="0.45"/><circle cx="102.10" cy="337.30" r="2.9" fill="#111111" stroke="#505050" stroke-width="0.45"/><circle cx="85.09" cy="342.56" r="2.9" fill="#111111" stroke="#505050" stroke-width="0.45"/><circle cx="72.83" cy="337.35" r="2.9" fill="#111111" stroke="#505050" stroke-width="0.45"/><circle cx="108.88" cy="337.96" r="2.9" fill="#111111" stroke="#505050" stroke-width="0.45"/><circle cx="119.88" cy="339.38" r="2.9" fill="#111111" stroke="#505050" stroke-width="0.45"/><circle cx="126.46" cy="337.76" r="2.9" fill="#111111" stroke="#505050" stroke-width="0.45"/><circle cx="78.06" cy="336.09" r="2.9" fill="#111111" stroke="#505050" stroke-width="0.45"/><circle cx="95.03" cy="339.01" r="2.9" fill="#111111" stroke="#505050" stroke-width="0.45"/><circle cx="77.35" cy="339.81" r="2.9" fill="#111111" stroke="#505050" stroke-width="0.45"/><circle cx="78.99" cy="340.10" r="2.9" fill="#111111" stroke="#505050" stroke-width="0.45"/><circle cx="132.39" cy="335.98" r="2.9" fill="#111111" stroke="#505050" stroke-width="0.45"/><circle cx="130.60" cy="336.53" r="2.9" fill="#111111" stroke="#505050" stroke-width="0.45"/><circle cx="78.68" cy="336.75" r="2.9" fill="#111111" stroke="#505050" stroke-width="0.45"/><circle cx="65.79" cy="335.94" r="2.9" fill="#111111" stroke="#505050" stroke-width="0.45"/><circle cx="91.44" cy="348.25" r="2.9" fill="#111111" stroke="#505050" stroke-width="0.45"/><circle cx="124.64" cy="335.97" r="2.9" fill="#111111" stroke="#505050" stroke-width="0.45"/><circle cx="92.70" cy="341.40" r="2.9" fill="#111111" stroke="#505050" stroke-width="0.45"/><circle cx="76.14" cy="336.84" r="2.9" fill="#111111" stroke="#505050" stroke-width="0.45"/><circle cx="82.49" cy="340.33" r="2.9" fill="#111111" stroke="#505050" stroke-width="0.45"/><circle cx="88.18" cy="336.79" r="2.9" fill="#111111" stroke="#505050" stroke-width="0.45"/><circle cx="79.31" cy="338.16" r="2.9" fill="#111111" stroke="#505050" stroke-width="0.45"/><circle cx="104.80" cy="337.49" r="2.9" fill="#111111" stroke="#505050" stroke-width="0.45"/><circle cx="114.77" cy="336.86" r="2.9" fill="#111111" stroke="#505050" stroke-width="0.45"/><circle cx="112.64" cy="339.06" r="2.9" fill="#111111" stroke="#505050" stroke-width="0.45"/><circle cx="76.01" cy="338.88" r="2.9" fill="#111111" stroke="#505050" stroke-width="0.45"/><circle cx="92.17" cy="344.05" r="2.9" fill="#111111" stroke="#505050" stroke-width="0.45"/><circle cx="107.24" cy="339.82" r="2.9" fill="#111111" stroke="#505050" stroke-width="0.45"/><circle cx="95.73" cy="336.31" r="2.9" fill="#111111" stroke="#505050" stroke-width="0.45"/><circle cx="121.22" cy="338.96" r="2.9" fill="#111111" stroke="#505050" stroke-width="0.45"/><circle cx="99.27" cy="340.41" r="2.9" fill="#111111" stroke="#505050" stroke-width="0.45"/><circle cx="82.87" cy="341.80" r="2.9" fill="#111111" stroke="#505050" stroke-width="0.45"/><circle cx="113.74" cy="336.94" r="2.9" fill="#111111" stroke="#505050" stroke-width="0.45"/><circle cx="123.49" cy="338.99" r="2.9" fill="#111111" stroke="#505050" stroke-width="0.45"/><circle cx="88.60" cy="345.41" r="2.9" fill="#111111" stroke="#505050" stroke-width="0.45"/><circle cx="98.75" cy="337.24" r="2.9" fill="#111111" stroke="#505050" stroke-width="0.45"/><circle cx="116.05" cy="337.39" r="2.9" fill="#111111" stroke="#505050" stroke-width="0.45"/><circle cx="117.19" cy="338.40" r="2.9" fill="#111111" stroke="#505050" stroke-width="0.45"/><circle cx="70.97" cy="336.97" r="2.9" fill="#111111" stroke="#505050" stroke-width="0.45"/><circle cx="125.96" cy="337.12" r="2.9" fill="#111111" stroke="#505050" stroke-width="0.45"/><circle cx="102.91" cy="342.06" r="2.9" fill="#111111" stroke="#505050" stroke-width="0.45"/><circle cx="96.05" cy="340.03" r="2.9" fill="#111111" stroke="#505050" stroke-width="0.45"/><circle cx="106.13" cy="341.26" r="2.9" fill="#111111" stroke="#505050" stroke-width="0.45"/><circle cx="78.03" cy="336.25" r="2.9" fill="#111111" stroke="#505050" stroke-width="0.45"/><circle cx="119.33" cy="338.04" r="2.9" fill="#111111" stroke="#505050" stroke-width="0.45"/><circle cx="85.40" cy="342.60" r="2.9" fill="#111111" stroke="#505050" stroke-width="0.45"/><circle cx="128.46" cy="337.03" r="2.9" fill="#111111" stroke="#505050" stroke-width="0.45"/><circle cx="136.14" cy="336.44" r="2.9" fill="#111111" stroke="#505050" stroke-width="0.45"/><circle cx="118.36" cy="337.03" r="2.9" fill="#111111" stroke="#505050" stroke-width="0.45"/><circle cx="63.80" cy="335.87" r="2.9" fill="#111111" stroke="#505050" stroke-width="0.45"/><circle cx="117.40" cy="337.35" r="2.9" fill="#111111" stroke="#505050" stroke-width="0.45"/><circle cx="98.43" cy="340.41" r="2.9" fill="#111111" stroke="#505050" stroke-width="0.45"/><circle cx="81.49" cy="340.10" r="2.9" fill="#111111" stroke="#505050" stroke-width="0.45"/><circle cx="104.63" cy="338.47" r="2.9" fill="#111111" stroke="#505050" stroke-width="0.45"/><circle cx="71.11" cy="337.06" r="2.9" fill="#111111" stroke="#505050" stroke-width="0.45"/><circle cx="86.66" cy="341.67" r="2.9" fill="#111111" stroke="#505050" stroke-width="0.45"/><circle cx="75.77" cy="337.38" r="2.9" fill="#111111" stroke="#505050" stroke-width="0.45"/><circle cx="77.52" cy="337.71" r="2.9" fill="#111111" stroke="#505050" stroke-width="0.45"/><circle cx="105.65" cy="336.52" r="2.9" fill="#111111" stroke="#505050" stroke-width="0.45"/><circle cx="67.06" cy="336.16" r="2.9" fill="#111111" stroke="#505050" stroke-width="0.45"/><circle cx="77.91" cy="338.23" r="2.9" fill="#111111" stroke="#505050" stroke-width="0.45"/><circle cx="75.37" cy="336.19" r="2.9" fill="#111111" stroke="#505050" stroke-width="0.45"/><circle cx="102.78" cy="342.52" r="2.9" fill="#111111" stroke="#505050" stroke-width="0.45"/><circle cx="127.27" cy="337.09" r="2.9" fill="#111111" stroke="#505050" stroke-width="0.45"/><circle cx="92.40" cy="336.78" r="2.9" fill="#111111" stroke="#505050" stroke-width="0.45"/><circle cx="83.45" cy="337.97" r="2.9" fill="#111111" stroke="#505050" stroke-width="0.45"/><circle cx="132.67" cy="335.97" r="2.9" fill="#111111" stroke="#505050" stroke-width="0.45"/><circle cx="133.15" cy="336.44" r="2.9" fill="#111111" stroke="#505050" stroke-width="0.45"/><circle cx="95.12" cy="338.46" r="2.9" fill="#111111" stroke="#505050" stroke-width="0.45"/><circle cx="134.23" cy="336.01" r="2.9" fill="#111111" stroke="#505050" stroke-width="0.45"/><circle cx="105.28" cy="339.27" r="2.9" fill="#111111" stroke="#505050" stroke-width="0.45"/><circle cx="77.76" cy="336.86" r="2.9" fill="#111111" stroke="#505050" stroke-width="0.45"/><circle cx="135.92" cy="336.44" r="2.9" fill="#111111" stroke="#505050" stroke-width="0.45"/><circle cx="117.27" cy="339.82" r="2.9" fill="#111111" stroke="#505050" stroke-width="0.45"/><circle cx="70.29" cy="337.18" r="2.9" fill="#111111" stroke="#505050" stroke-width="0.45"/><circle cx="118.54" cy="336.75" r="2.9" fill="#111111" stroke="#505050" stroke-width="0.45"/><circle cx="96.82" cy="344.02" r="2.9" fill="#111111" stroke="#505050" stroke-width="0.45"/><circle cx="87.18" cy="342.12" r="2.9" fill="#111111" stroke="#505050" stroke-width="0.45"/><circle cx="75.23" cy="338.34" r="2.9" fill="#111111" stroke="#505050" stroke-width="0.45"/><circle cx="82.94" cy="339.21" r="2.9" fill="#111111" stroke="#505050" stroke-width="0.45"/><circle cx="90.56" cy="347.18" r="2.9" fill="#111111" stroke="#505050" stroke-width="0.45"/><circle cx="118.12" cy="337.96" r="2.9" fill="#111111" stroke="#505050" stroke-width="0.45"/><circle cx="113.86" cy="337.99" r="2.9" fill="#111111" stroke="#505050" stroke-width="0.45"/><circle cx="122.52" cy="336.68" r="2.9" fill="#111111" stroke="#505050" stroke-width="0.45"/><circle cx="103.27" cy="340.01" r="2.9" fill="#111111" stroke="#505050" stroke-width="0.45"/><circle cx="91.72" cy="336.50" r="2.9" fill="#111111" stroke="#505050" stroke-width="0.45"/><circle cx="75.58" cy="338.32" r="2.9" fill="#111111" stroke="#505050" stroke-width="0.45"/><circle cx="78.64" cy="339.66" r="2.9" fill="#111111" stroke="#505050" stroke-width="0.45"/><circle cx="100.36" cy="343.19" r="2.9" fill="#111111" stroke="#505050" stroke-width="0.45"/><circle cx="125.74" cy="337.83" r="2.9" fill="#111111" stroke="#505050" stroke-width="0.45"/><circle cx="90.57" cy="336.37" r="2.9" fill="#111111" stroke="#505050" stroke-width="0.45"/><circle cx="104.19" cy="341.02" r="2.9" fill="#111111" stroke="#505050" stroke-width="0.45"/><circle cx="131.16" cy="336.15" r="2.9" fill="#111111" stroke="#505050" stroke-width="0.45"/><circle cx="74.73" cy="339.35" r="2.9" fill="#111111" stroke="#505050" stroke-width="0.45"/><circle cx="117.72" cy="337.91" r="2.9" fill="#111111" stroke="#505050" stroke-width="0.45"/><circle cx="117.65" cy="336.45" r="2.9" fill="#111111" stroke="#505050" stroke-width="0.45"/><circle cx="103.26" cy="340.60" r="2.9" fill="#111111" stroke="#505050" stroke-width="0.45"/><circle cx="107.68" cy="336.82" r="2.9" fill="#111111" stroke="#505050" stroke-width="0.45"/><circle cx="73.12" cy="337.69" r="2.9" fill="#111111" stroke="#505050" stroke-width="0.45"/><circle cx="128.44" cy="336.11" r="2.9" fill="#111111" stroke="#505050" stroke-width="0.45"/><circle cx="63.53" cy="335.81" r="2.9" fill="#111111" stroke="#505050" stroke-width="0.45"/><circle cx="121.11" cy="337.25" r="2.9" fill="#111111" stroke="#505050" stroke-width="0.45"/><circle cx="96.73" cy="344.21" r="2.9" fill="#111111" stroke="#505050" stroke-width="0.45"/><circle cx="108.22" cy="337.44" r="2.9" fill="#111111" stroke="#505050" stroke-width="0.45"/><circle cx="114.87" cy="335.81" r="2.9" fill="#111111" stroke="#505050" stroke-width="0.45"/><circle cx="83.83" cy="340.72" r="2.9" fill="#111111" stroke="#505050" stroke-width="0.45"/><circle cx="75.64" cy="335.93" r="2.9" fill="#111111" stroke="#505050" stroke-width="0.45"/><circle cx="101.35" cy="338.28" r="2.9" fill="#111111" stroke="#505050" stroke-width="0.45"/><circle cx="134.87" cy="335.90" r="2.9" fill="#111111" stroke="#505050" stroke-width="0.45"/><circle cx="122.36" cy="337.14" r="2.9" fill="#111111" stroke="#505050" stroke-width="0.45"/><circle cx="122.60" cy="337.32" r="2.9" fill="#111111" stroke="#505050" stroke-width="0.45"/><circle cx="112.39" cy="337.56" r="2.9" fill="#111111" stroke="#505050" stroke-width="0.45"/><circle cx="79.62" cy="338.27" r="2.9" fill="#111111" stroke="#505050" stroke-width="0.45"/><circle cx="122.22" cy="337.00" r="2.9" fill="#111111" stroke="#505050" stroke-width="0.45"/><circle cx="80.01" cy="338.13" r="2.9" fill="#111111" stroke="#505050" stroke-width="0.45"/><circle cx="70.10" cy="336.40" r="2.9" fill="#111111" stroke="#505050" stroke-width="0.45"/><circle cx="105.39" cy="339.49" r="2.9" fill="#111111" stroke="#505050" stroke-width="0.45"/><circle cx="107.21" cy="337.66" r="2.9" fill="#111111" stroke="#505050" stroke-width="0.45"/><circle cx="64.83" cy="335.80" r="2.9" fill="#111111" stroke="#505050" stroke-width="0.45"/><circle cx="88.09" cy="337.52" r="2.9" fill="#111111" stroke="#505050" stroke-width="0.45"/><circle cx="105.10" cy="337.61" r="2.9" fill="#111111" stroke="#505050" stroke-width="0.45"/><circle cx="119.38" cy="338.23" r="2.9" fill="#111111" stroke="#505050" stroke-width="0.45"/><circle cx="112.01" cy="339.83" r="2.9" fill="#111111" stroke="#505050" stroke-width="0.45"/><circle cx="101.60" cy="339.00" r="2.9" fill="#111111" stroke="#505050" stroke-width="0.45"/><circle cx="85.82" cy="336.29" r="2.9" fill="#111111" stroke="#505050" stroke-width="0.45"/><circle cx="121.79" cy="337.58" r="2.9" fill="#111111" stroke="#505050" stroke-width="0.45"/><circle cx="70.38" cy="337.65" r="2.9" fill="#111111" stroke="#505050" stroke-width="0.45"/><circle cx="106.07" cy="339.94" r="2.9" fill="#111111" stroke="#505050" stroke-width="0.45"/><circle cx="95.46" cy="337.00" r="2.9" fill="#111111" stroke="#505050" stroke-width="0.45"/><circle cx="136.97" cy="335.90" r="2.9" fill="#111111" stroke="#505050" stroke-width="0.45"/><circle cx="91.06" cy="350.99" r="2.9" fill="#111111" stroke="#505050" stroke-width="0.45"/><circle cx="89.35" cy="345.49" r="2.9" fill="#111111" stroke="#505050" stroke-width="0.45"/><circle cx="91.86" cy="342.72" r="2.9" fill="#111111" stroke="#505050" stroke-width="0.45"/><circle cx="94.97" cy="344.56" r="2.9" fill="#111111" stroke="#505050" stroke-width="0.45"/><circle cx="88.58" cy="345.21" r="2.9" fill="#111111" stroke="#505050" stroke-width="0.45"/><circle cx="88.53" cy="347.79" r="2.9" fill="#111111" stroke="#505050" stroke-width="0.45"/><circle cx="94.58" cy="349.96" r="2.9" fill="#111111" stroke="#505050" stroke-width="0.45"/><circle cx="88.84" cy="347.43" r="2.9" fill="#111111" stroke="#505050" stroke-width="0.45"/><circle cx="90.63" cy="345.20" r="2.9" fill="#111111" stroke="#505050" stroke-width="0.45"/><circle cx="90.60" cy="343.36" r="2.9" fill="#111111" stroke="#505050" stroke-width="0.45"/><circle cx="89.43" cy="346.88" r="2.9" fill="#111111" stroke="#505050" stroke-width="0.45"/><circle cx="89.12" cy="350.61" r="2.9" fill="#111111" stroke="#505050" stroke-width="0.45"/><circle cx="88.81" cy="350.60" r="2.9" fill="#111111" stroke="#505050" stroke-width="0.45"/><circle cx="89.84" cy="340.92" r="2.9" fill="#111111" stroke="#505050" stroke-width="0.45"/><circle cx="93.71" cy="345.84" r="2.9" fill="#111111" stroke="#505050" stroke-width="0.45"/><circle cx="93.88" cy="345.59" r="2.9" fill="#111111" stroke="#505050" stroke-width="0.45"/><circle cx="92.91" cy="340.91" r="2.9" fill="#111111" stroke="#505050" stroke-width="0.45"/><circle cx="93.22" cy="345.64" r="2.9" fill="#111111" stroke="#505050" stroke-width="0.45"/><circle cx="95.24" cy="340.07" r="2.9" fill="#111111" stroke="#505050" stroke-width="0.45"/><circle cx="88.98" cy="347.44" r="2.9" fill="#111111" stroke="#505050" stroke-width="0.45"/><circle cx="94.98" cy="344.64" r="2.9" fill="#111111" stroke="#505050" stroke-width="0.45"/><circle cx="93.48" cy="346.17" r="2.9" fill="#111111" stroke="#505050" stroke-width="0.45"/><circle cx="91.24" cy="345.12" r="2.9" fill="#111111" stroke="#505050" stroke-width="0.45"/><circle cx="92.71" cy="340.32" r="2.9" fill="#111111" stroke="#505050" stroke-width="0.45"/><circle cx="90.64" cy="348.12" r="2.9" fill="#111111" stroke="#505050" stroke-width="0.45"/><circle cx="90.31" cy="345.20" r="2.9" fill="#111111" stroke="#505050" stroke-width="0.45"/><circle cx="90.30" cy="343.93" r="2.9" fill="#111111" stroke="#505050" stroke-width="0.45"/><circle cx="93.05" cy="348.18" r="2.9" fill="#111111" stroke="#505050" stroke-width="0.45"/><circle cx="95.20" cy="345.24" r="2.9" fill="#111111" stroke="#505050" stroke-width="0.45"/><circle cx="89.92" cy="343.71" r="2.9" fill="#111111" stroke="#505050" stroke-width="0.45"/><circle cx="88.91" cy="342.64" r="2.9" fill="#111111" stroke="#505050" stroke-width="0.45"/><circle cx="92.59" cy="346.72" r="2.9" fill="#111111" stroke="#505050" stroke-width="0.45"/><circle cx="90.19" cy="342.00" r="2.9" fill="#111111" stroke="#505050" stroke-width="0.45"/><circle cx="89.19" cy="341.97" r="2.9" fill="#111111" stroke="#505050" stroke-width="0.45"/><circle cx="92.01" cy="342.81" r="2.9" fill="#111111" stroke="#505050" stroke-width="0.45"/><circle cx="94.69" cy="346.21" r="2.9" fill="#111111" stroke="#505050" stroke-width="0.45"/><circle cx="90.88" cy="344.74" r="2.9" fill="#111111" stroke="#505050" stroke-width="0.45"/><circle cx="88.78" cy="348.06" r="2.9" fill="#111111" stroke="#505050" stroke-width="0.45"/><circle cx="93.76" cy="344.00" r="2.9" fill="#111111" stroke="#505050" stroke-width="0.45"/><circle cx="93.58" cy="343.00" r="2.9" fill="#111111" stroke="#505050" stroke-width="0.45"/><circle cx="90.04" cy="342.51" r="2.9" fill="#111111" stroke="#505050" stroke-width="0.45"/><circle cx="89.88" cy="346.66" r="2.9" fill="#111111" stroke="#505050" stroke-width="0.45"/><circle cx="92.99" cy="348.01" r="2.9" fill="#111111" stroke="#505050" stroke-width="0.45"/><circle cx="89.23" cy="348.43" r="2.9" fill="#111111" stroke="#505050" stroke-width="0.45"/><circle cx="91.85" cy="344.16" r="2.9" fill="#111111" stroke="#505050" stroke-width="0.45"/><circle cx="92.02" cy="344.76" r="2.9" fill="#111111" stroke="#505050" stroke-width="0.45"/><circle cx="89.90" cy="344.35" r="2.9" fill="#111111" stroke="#505050" stroke-width="0.45"/><circle cx="93.02" cy="347.87" r="2.9" fill="#111111" stroke="#505050" stroke-width="0.45"/><circle cx="94.91" cy="342.14" r="2.9" fill="#111111" stroke="#505050" stroke-width="0.45"/><circle cx="94.74" cy="348.80" r="2.9" fill="#111111" stroke="#505050" stroke-width="0.45"/><circle cx="93.49" cy="350.77" r="2.9" fill="#111111" stroke="#505050" stroke-width="0.45"/><circle cx="89.47" cy="348.54" r="2.9" fill="#111111" stroke="#505050" stroke-width="0.45"/><circle cx="94.80" cy="341.34" r="2.9" fill="#111111" stroke="#505050" stroke-width="0.45"/><circle cx="92.66" cy="350.42" r="2.9" fill="#111111" stroke="#505050" stroke-width="0.45"/><circle cx="90.55" cy="349.41" r="2.9" fill="#111111" stroke="#505050" stroke-width="0.45"/><circle cx="94.84" cy="344.79" r="2.9" fill="#111111" stroke="#505050" stroke-width="0.45"/><circle cx="89.52" cy="342.37" r="2.9" fill="#111111" stroke="#505050" stroke-width="0.45"/><circle cx="94.31" cy="344.64" r="2.9" fill="#111111" stroke="#505050" stroke-width="0.45"/><circle cx="90.71" cy="344.87" r="2.9" fill="#111111" stroke="#505050" stroke-width="0.45"/><circle cx="95.00" cy="342.79" r="2.9" fill="#111111" stroke="#505050" stroke-width="0.45"/><circle cx="63.80" cy="337.40" r="3.0" fill="#6a6a6a" stroke="#1a1a1a" stroke-width="0.45"/><circle cx="66.80" cy="339.40" r="3.0" fill="#6a6a6a" stroke="#1a1a1a" stroke-width="0.45"/><circle cx="69.20" cy="340.20" r="3.0" fill="#6a6a6a" stroke="#1a1a1a" stroke-width="0.45"/><circle cx="71.50" cy="341.80" r="3.0" fill="#6a6a6a" stroke="#1a1a1a" stroke-width="0.45"/><circle cx="74.00" cy="342.20" r="3.0" fill="#6a6a6a" stroke="#1a1a1a" stroke-width="0.45"/><circle cx="76.80" cy="343.40" r="3.0" fill="#6a6a6a" stroke="#1a1a1a" stroke-width="0.45"/><circle cx="79.20" cy="343.00" r="3.0" fill="#6a6a6a" stroke="#1a1a1a" stroke-width="0.45"/><circle cx="70.00" cy="338.60" r="3.0" fill="#6a6a6a" stroke="#1a1a1a" stroke-width="0.45"/><circle cx="62.00" cy="336.80" r="3.0" fill="#6a6a6a" stroke="#1a1a1a" stroke-width="0.45"/><circle cx="92.20" cy="354.00" r="3.0" fill="#6a6a6a" stroke="#1a1a1a" stroke-width="0.45"/><circle cx="101.69" cy="334.80" r="3.1" fill="#e8283a" stroke="#1a1a1a" stroke-width="0.45"/><circle cx="113.04" cy="328.15" r="3.1" fill="#e8283a" stroke="#1a1a1a" stroke-width="0.45"/><circle cx="138.08" cy="326.63" r="3.1" fill="#e8283a" stroke="#1a1a1a" stroke-width="0.45"/><circle cx="104.26" cy="334.42" r="3.1" fill="#e8283a" stroke="#1a1a1a" stroke-width="0.45"/><circle cx="110.27" cy="326.42" r="3.1" fill="#e8283a" stroke="#1a1a1a" stroke-width="0.45"/><circle cx="136.63" cy="325.59" r="3.1" fill="#e8283a" stroke="#1a1a1a" stroke-width="0.45"/><circle cx="135.24" cy="326.33" r="3.1" fill="#e8283a" stroke="#1a1a1a" stroke-width="0.45"/><circle cx="112.52" cy="326.29" r="3.1" fill="#e8283a" stroke="#1a1a1a" stroke-width="0.45"/><circle cx="121.61" cy="328.22" r="3.1" fill="#e8283a" stroke="#1a1a1a" stroke-width="0.45"/><circle cx="116.14" cy="329.23" r="3.1" fill="#e8283a" stroke="#1a1a1a" stroke-width="0.45"/><circle cx="112.33" cy="333.20" r="3.1" fill="#e8283a" stroke="#1a1a1a" stroke-width="0.45"/><circle cx="136.49" cy="331.97" r="3.1" fill="#e8283a" stroke="#1a1a1a" stroke-width="0.45"/><circle cx="132.15" cy="320.45" r="3.1" fill="#e8283a" stroke="#1a1a1a" stroke-width="0.45"/><circle cx="110.51" cy="326.22" r="3.1" fill="#e8283a" stroke="#1a1a1a" stroke-width="0.45"/><circle cx="106.88" cy="334.80" r="3.1" fill="#e8283a" stroke="#1a1a1a" stroke-width="0.45"/><circle cx="135.40" cy="333.89" r="3.1" fill="#e8283a" stroke="#1a1a1a" stroke-width="0.45"/><circle cx="122.20" cy="320.87" r="3.1" fill="#e8283a" stroke="#1a1a1a" stroke-width="0.45"/><circle cx="117.23" cy="323.54" r="3.1" fill="#e8283a" stroke="#1a1a1a" stroke-width="0.45"/><circle cx="135.38" cy="325.52" r="3.1" fill="#e8283a" stroke="#1a1a1a" stroke-width="0.45"/><circle cx="111.95" cy="334.40" r="3.1" fill="#e8283a" stroke="#1a1a1a" stroke-width="0.45"/><circle cx="108.62" cy="334.43" r="3.1" fill="#e8283a" stroke="#1a1a1a" stroke-width="0.45"/><circle cx="112.82" cy="331.27" r="3.1" fill="#e8283a" stroke="#1a1a1a" stroke-width="0.45"/><circle cx="105.05" cy="334.44" r="3.1" fill="#e8283a" stroke="#1a1a1a" stroke-width="0.45"/><circle cx="116.15" cy="327.32" r="3.1" fill="#e8283a" stroke="#1a1a1a" stroke-width="0.45"/><circle cx="125.87" cy="327.36" r="3.1" fill="#e8283a" stroke="#1a1a1a" stroke-width="0.45"/><circle cx="110.54" cy="325.34" r="3.1" fill="#e8283a" stroke="#1a1a1a" stroke-width="0.45"/><circle cx="122.87" cy="318.76" r="3.1" fill="#e8283a" stroke="#1a1a1a" stroke-width="0.45"/><circle cx="134.12" cy="325.91" r="3.1" fill="#e8283a" stroke="#1a1a1a" stroke-width="0.45"/><circle cx="107.44" cy="330.48" r="3.1" fill="#e8283a" stroke="#1a1a1a" stroke-width="0.45"/><circle cx="105.32" cy="331.13" r="3.1" fill="#e8283a" stroke="#1a1a1a" stroke-width="0.45"/><circle cx="121.64" cy="325.83" r="3.1" fill="#e8283a" stroke="#1a1a1a" stroke-width="0.45"/><circle cx="113.70" cy="327.05" r="3.1" fill="#e8283a" stroke="#1a1a1a" stroke-width="0.45"/><circle cx="119.49" cy="332.01" r="3.1" fill="#e8283a" stroke="#1a1a1a" stroke-width="0.45"/><circle cx="117.63" cy="332.14" r="3.1" fill="#e8283a" stroke="#1a1a1a" stroke-width="0.45"/><circle cx="119.34" cy="323.20" r="3.1" fill="#e8283a" stroke="#1a1a1a" stroke-width="0.45"/><circle cx="107.47" cy="333.97" r="3.1" fill="#e8283a" stroke="#1a1a1a" stroke-width="0.45"/><circle cx="119.21" cy="326.77" r="3.1" fill="#e8283a" stroke="#1a1a1a" stroke-width="0.45"/><circle cx="120.59" cy="332.78" r="3.1" fill="#e8283a" stroke="#1a1a1a" stroke-width="0.45"/><circle cx="115.26" cy="327.67" r="3.1" fill="#e8283a" stroke="#1a1a1a" stroke-width="0.45"/><circle cx="114.91" cy="323.72" r="3.1" fill="#e8283a" stroke="#1a1a1a" stroke-width="0.45"/><circle cx="121.70" cy="326.92" r="3.1" fill="#e8283a" stroke="#1a1a1a" stroke-width="0.45"/><circle cx="119.84" cy="327.43" r="3.1" fill="#e8283a" stroke="#1a1a1a" stroke-width="0.45"/><circle cx="118.95" cy="331.26" r="3.1" fill="#e8283a" stroke="#1a1a1a" stroke-width="0.45"/><circle cx="108.07" cy="334.87" r="3.1" fill="#e8283a" stroke="#1a1a1a" stroke-width="0.45"/><circle cx="105.36" cy="334.24" r="3.1" fill="#e8283a" stroke="#1a1a1a" stroke-width="0.45"/><circle cx="107.65" cy="333.60" r="3.1" fill="#e8283a" stroke="#1a1a1a" stroke-width="0.45"/><circle cx="101.70" cy="335.00" r="3.1" fill="#e8283a" stroke="#1a1a1a" stroke-width="0.45"/><circle cx="106.50" cy="335.00" r="3.1" fill="#e8283a" stroke="#1a1a1a" stroke-width="0.45"/><circle cx="111.30" cy="335.00" r="3.1" fill="#e8283a" stroke="#1a1a1a" stroke-width="0.45"/><circle cx="116.00" cy="335.00" r="3.1" fill="#e8283a" stroke="#1a1a1a" stroke-width="0.45"/><circle cx="120.80" cy="335.00" r="3.1" fill="#e8283a" stroke="#1a1a1a" stroke-width="0.45"/><circle cx="125.50" cy="335.00" r="3.1" fill="#e8283a" stroke="#1a1a1a" stroke-width="0.45"/><circle cx="130.20" cy="335.00" r="3.1" fill="#e8283a" stroke="#1a1a1a" stroke-width="0.45"/><circle cx="134.60" cy="335.00" r="3.1" fill="#e8283a" stroke="#1a1a1a" stroke-width="0.45"/><circle cx="153.30" cy="230.10" r="3.1" fill="#e8283a" stroke="#1a1a1a" stroke-width="0.45"/><circle cx="167.00" cy="230.10" r="3.1" fill="#e8283a" stroke="#1a1a1a" stroke-width="0.45"/><circle cx="132.10" cy="266.70" r="3.1" fill="#e8283a" stroke="#1a1a1a" stroke-width="0.45"/><circle cx="144.80" cy="266.20" r="3.1" fill="#e8283a" stroke="#1a1a1a" stroke-width="0.45"/><circle cx="186.50" cy="266.70" r="3.1" fill="#e8283a" stroke="#1a1a1a" stroke-width="0.45"/><circle cx="133.40" cy="274.30" r="3.1" fill="#e8283a" stroke="#1a1a1a" stroke-width="0.45"/><circle cx="141.00" cy="278.10" r="3.1" fill="#e8283a" stroke="#1a1a1a" stroke-width="0.45"/><circle cx="129.00" cy="280.80" r="3.1" fill="#e8283a" stroke="#1a1a1a" stroke-width="0.45"/><circle cx="137.80" cy="281.00" r="3.1" fill="#e8283a" stroke="#1a1a1a" stroke-width="0.45"/><circle cx="124.90" cy="285.50" r="3.1" fill="#e8283a" stroke="#1a1a1a" stroke-width="0.45"/><circle cx="132.10" cy="289.90" r="3.1" fill="#e8283a" stroke="#1a1a1a" stroke-width="0.45"/><circle cx="125.80" cy="299.60" r="3.1" fill="#e8283a" stroke="#1a1a1a" stroke-width="0.45"/><circle cx="106.40" cy="305.20" r="3.1" fill="#e8283a" stroke="#1a1a1a" stroke-width="0.45"/><circle cx="129.60" cy="305.10" r="3.1" fill="#e8283a" stroke="#1a1a1a" stroke-width="0.45"/><circle cx="135.30" cy="304.30" r="3.1" fill="#e8283a" stroke="#1a1a1a" stroke-width="0.45"/><circle cx="127.10" cy="309.00" r="3.1" fill="#e8283a" stroke="#1a1a1a" stroke-width="0.45"/><circle cx="112.50" cy="316.60" r="3.1" fill="#e8283a" stroke="#1a1a1a" stroke-width="0.45"/><circle cx="128.30" cy="315.50" r="3.1" fill="#e8283a" stroke="#1a1a1a" stroke-width="0.45"/><circle cx="136.80" cy="314.70" r="3.1" fill="#e8283a" stroke="#1a1a1a" stroke-width="0.45"/><circle cx="151.80" cy="318.50" r="3.1" fill="#e8283a" stroke="#1a1a1a" stroke-width="0.45"/><circle cx="145.40" cy="323.30" r="3.1" fill="#e8283a" stroke="#1a1a1a" stroke-width="0.45"/><circle cx="145.40" cy="331.60" r="3.1" fill="#e8283a" stroke="#1a1a1a" stroke-width="0.45"/><circle cx="160.90" cy="334.10" r="3.1" fill="#e8283a" stroke="#1a1a1a" stroke-width="0.45"/><circle cx="116.00" cy="320.00" r="3.1" fill="#e8283a" stroke="#1a1a1a" stroke-width="0.45"/><circle cx="122.00" cy="318.50" r="3.1" fill="#e8283a" stroke="#1a1a1a" stroke-width="0.45"/><circle cx="60.90" cy="311.00" r="3.1" fill="#3b6ab8" stroke="#1a1a1a" stroke-width="0.45"/><circle cx="52.30" cy="320.90" r="3.1" fill="#3b6ab8" stroke="#1a1a1a" stroke-width="0.45"/><circle cx="53.60" cy="321.80" r="3.1" fill="#3b6ab8" stroke="#1a1a1a" stroke-width="0.45"/><circle cx="64.30" cy="324.20" r="3.1" fill="#3b6ab8" stroke="#1a1a1a" stroke-width="0.45"/><circle cx="73.20" cy="321.50" r="3.1" fill="#3b6ab8" stroke="#1a1a1a" stroke-width="0.45"/><circle cx="76.30" cy="323.70" r="3.1" fill="#3b6ab8" stroke="#1a1a1a" stroke-width="0.45"/><circle cx="74.50" cy="326.00" r="3.1" fill="#3b6ab8" stroke="#1a1a1a" stroke-width="0.45"/><circle cx="79.50" cy="325.80" r="3.1" fill="#3b6ab8" stroke="#1a1a1a" stroke-width="0.45"/><circle cx="65.00" cy="330.00" r="3.1" fill="#3b6ab8" stroke="#1a1a1a" stroke-width="0.45"/><circle cx="61.70" cy="332.70" r="3.1" fill="#3b6ab8" stroke="#1a1a1a" stroke-width="0.45"/><circle cx="73.70" cy="328.60" r="3.1" fill="#3b6ab8" stroke="#1a1a1a" stroke-width="0.45"/><circle cx="77.30" cy="327.10" r="3.1" fill="#3b6ab8" stroke="#1a1a1a" stroke-width="0.45"/><circle cx="80.90" cy="327.10" r="3.1" fill="#3b6ab8" stroke="#1a1a1a" stroke-width="0.45"/><circle cx="75.50" cy="331.00" r="3.1" fill="#3b6ab8" stroke="#1a1a1a" stroke-width="0.45"/><circle cx="72.70" cy="333.70" r="3.1" fill="#3b6ab8" stroke="#1a1a1a" stroke-width="0.45"/><circle cx="78.30" cy="334.20" r="3.1" fill="#3b6ab8" stroke="#1a1a1a" stroke-width="0.45"/><circle cx="82.90" cy="333.70" r="3.1" fill="#3b6ab8" stroke="#1a1a1a" stroke-width="0.45"/>
<line x1="39.50" y1="219.10" x2="39.50" y2="353.90" stroke="#666" stroke-width="0.9"/>
<line x1="36.10" y1="353.50" x2="199.50" y2="353.50" stroke="#666" stroke-width="0.9"/>
<line x1="36.20" y1="238.70" x2="39.50" y2="238.70" stroke="#666" stroke-width="0.8"/>
<text x="33.00" y="241.90" font-size="8.8" fill="#3c3c3c" text-anchor="end">10<tspan font-size="5.8" dy="-3.6">−8</tspan></text>
<line x1="36.20" y1="267.40" x2="39.50" y2="267.40" stroke="#666" stroke-width="0.8"/>
<text x="33.00" y="270.60" font-size="8.8" fill="#3c3c3c" text-anchor="end">10<tspan font-size="5.8" dy="-3.6">−6</tspan></text>
<line x1="36.20" y1="296.10" x2="39.50" y2="296.10" stroke="#666" stroke-width="0.8"/>
<text x="33.00" y="299.30" font-size="8.8" fill="#3c3c3c" text-anchor="end">10<tspan font-size="5.8" dy="-3.6">−4</tspan></text>
<line x1="36.20" y1="324.80" x2="39.50" y2="324.80" stroke="#666" stroke-width="0.8"/>
<text x="33.00" y="328.00" font-size="8.8" fill="#3c3c3c" text-anchor="end">10<tspan font-size="5.8" dy="-3.6">−2</tspan></text>
<text x="31.60" y="356.60" font-size="8.8" fill="#3c3c3c" text-anchor="end">1</text>
<line x1="46.70" y1="353.50" x2="46.70" y2="356.80" stroke="#666" stroke-width="0.8"/>
<text x="45.30" y="367.70" font-size="8.8" fill="#3c3c3c" text-anchor="middle">−2</text>
<line x1="92.40" y1="353.50" x2="92.40" y2="356.80" stroke="#666" stroke-width="0.8"/>
<text x="92.40" y="367.70" font-size="8.8" fill="#3c3c3c" text-anchor="middle">0</text>
<line x1="138.10" y1="353.50" x2="138.10" y2="356.80" stroke="#666" stroke-width="0.8"/>
<text x="138.10" y="367.70" font-size="8.8" fill="#3c3c3c" text-anchor="middle">2</text>
<line x1="183.80" y1="353.50" x2="183.80" y2="356.80" stroke="#666" stroke-width="0.8"/>
<text x="183.80" y="367.70" font-size="8.8" fill="#3c3c3c" text-anchor="middle">4</text>
<text x="121.00" y="381.30" font-size="10.6" fill="#3c3c3c" text-anchor="middle">log<tspan font-size="6.5" dy="2.5">2</tspan><tspan dy="-2.5"> fold change</tspan></text>
<text x="122.00" y="393.00" font-size="10.75" fill="#3c3c3c" text-anchor="middle">(aged versus young sg<tspan font-style="italic">Inert</tspan> cancer cells)</text>
<text x="8.00" y="286.20" font-size="9.3" fill="#3c3c3c" text-anchor="middle" transform="rotate(-90 8.00 286.20)" textLength="100" lengthAdjust="spacingAndGlyphs">FDR-adjusted <tspan font-style="italic">P</tspan> value</text>
<path d="M258.40,288.20 L258.70,282.75 L258.80,282.84 L259.01,283.00 L259.30,283.21 L259.65,283.44 L260.06,283.69 L260.52,283.94 L261.02,284.19 L261.58,284.43 L262.18,284.66 L262.81,284.87 L263.49,285.07 L264.21,285.25 L264.96,285.41 L265.75,285.56 L266.57,285.70 L267.43,285.82 L268.31,285.94 L269.23,286.04 L270.19,286.14 L271.17,286.23 L272.18,286.31 L273.22,286.39 L274.29,286.47 L275.39,286.54 L276.52,286.61 L277.67,286.68 L278.85,286.75 L280.06,286.81 L281.30,286.87 L282.56,286.93 L283.84,286.99 L285.15,287.04 L286.49,287.10 L287.84,287.15 L289.23,287.20 L290.64,287.25 L292.07,287.30 L293.52,287.34 L295.00,287.39 L296.50,287.43 L298.02,287.47 L299.57,287.51 L301.14,287.55 L302.73,287.58 L304.34,287.62 L305.97,287.65 L307.63,287.68 L309.30,287.71 L311.00,287.74 L312.72,287.77 L314.46,287.79 L316.22,287.82 L318.00,287.84 L319.80,287.87 L321.62,287.89 L323.46,287.91 L325.32,287.93 L327.20,287.94 L329.10,287.96 L331.02,287.98 L332.95,287.99 L334.91,288.00 L336.89,288.02 L338.88,288.03 L340.90,288.04 L342.93,288.05 L344.98,288.06 L347.05,288.07 L349.14,288.08 L351.24,288.09 L353.37,288.10 L355.51,288.11 L357.67,288.11 L359.85,288.12 L362.05,288.13 L364.26,288.13 L366.49,288.14 L368.74,288.14 L371.00,288.15 L373.29,288.15 L375.59,288.15 L377.91,288.16 L380.24,288.16 L382.59,288.16 L384.96,288.17 L387.35,288.17 L389.75,288.17 L392.17,288.17 L394.60,288.18 L394.60,289.00 L394.60,288.20 Z" fill="#c5c8c8"/>
<line x1="258.40" y1="288.20" x2="394.60" y2="288.20" stroke="#b4b4b4" stroke-width="0.9"/>
<polyline points="258.40,288.20 258.40,288.55 258.45,285.65 258.46,286.00 258.51,283.09 258.51,283.44 258.56,280.54 258.56,280.89 258.61,277.99 258.61,278.34 258.66,275.44 258.67,275.79 258.72,272.88 258.72,273.23 258.77,270.33 258.77,270.68 258.82,267.78 258.82,268.13 258.87,265.23 258.88,265.58 258.93,262.67 258.93,263.02 258.98,260.12 258.98,260.47 259.03,257.57 259.03,257.92 259.08,255.02 259.09,255.37 259.14,252.46 259.14,252.81 259.19,249.91 259.19,250.26 259.24,247.36 259.24,247.71 259.29,244.81 259.30,245.16 259.35,242.25 259.35,242.60 259.40,239.70 259.57,240.05 259.62,237.32 259.80,237.67 259.85,234.95 260.02,235.30 260.07,232.57 260.25,232.92 260.30,230.20 262.00,231.50 263.55,231.85 263.60,229.60 266.00,231.50 269.00,233.20 270.75,233.55 270.80,230.90 274.00,231.10 275.90,232.10 278.45,232.45 278.50,230.60 282.30,231.10 288.00,233.70 291.80,236.58 291.85,235.88 299.40,241.00 303.52,243.49 303.57,242.79 315.88,249.61 315.93,248.91 320.00,251.20 323.75,253.85 323.80,253.15 331.25,258.25 331.30,257.55 335.00,260.00 339.60,263.05 339.65,262.35 348.80,268.25 348.85,267.55 358.00,273.00 362.54,275.55 362.59,274.85 371.62,279.75 371.67,279.05 380.70,283.50 383.00,282.80 385.50,284.50 392.00,288.30 394.40,288.60" fill="none" stroke="#4262b2" stroke-width="1.05" stroke-linejoin="round"/>
<polyline points="258.40,288.20 258.46,288.55 258.51,285.78 258.57,286.13 258.62,283.36 258.68,283.71 258.73,280.93 258.79,281.28 258.84,278.51 258.91,278.86 258.96,276.09 259.02,276.44 259.07,273.67 259.13,274.02 259.18,271.24 259.24,271.59 259.29,268.82 259.35,269.17 259.40,266.40 259.67,266.75 259.72,263.85 260.00,264.20 260.05,261.30 260.32,261.65 260.38,258.75 260.65,259.10 260.70,256.20 261.50,257.50 262.00,257.85 262.05,255.30 262.55,255.65 262.60,253.10 263.50,255.00 265.05,255.35 265.10,252.40 266.20,253.50 266.90,253.85 266.95,251.05 267.65,251.40 267.70,248.60 268.50,249.50 268.67,249.85 268.72,247.04 268.89,247.39 268.94,244.58 269.11,244.93 269.16,242.12 269.33,242.47 269.38,239.66 269.55,240.01 269.60,237.20 271.50,236.60 272.50,237.50 272.95,237.85 273.00,235.70 273.45,236.05 273.50,233.90 273.95,234.25 274.00,232.10 276.60,234.00 281.60,234.70 285.40,234.00 291.80,237.80 296.50,240.33 296.55,239.63 301.20,242.42 301.25,241.72 305.90,244.50 305.95,243.80 310.60,246.58 310.65,245.88 315.30,248.67 315.35,247.97 320.00,250.30 323.75,252.80 323.80,252.10 335.00,258.50 344.56,264.79 344.61,264.09 354.12,270.63 354.17,269.93 358.90,273.10 359.95,273.45 360.00,271.50 364.60,273.10 369.10,275.68 369.15,274.98 373.60,277.80 373.65,277.10 378.10,279.93 378.15,279.23 382.60,281.60 383.45,281.95 383.50,280.00 394.00,287.70" fill="none" stroke="#1b8a4c" stroke-width="1.05" stroke-linejoin="round"/>
<polyline points="258.40,288.20 258.63,288.55 258.68,285.62 258.92,285.97 258.97,283.03 259.20,283.38 259.25,280.45 259.48,280.80 259.53,277.87 259.77,278.22 259.82,275.28 260.05,275.63 260.10,272.70 260.55,273.05 260.60,270.16 261.05,270.51 261.10,267.62 261.55,267.97 261.60,265.08 262.05,265.43 262.10,262.54 262.55,262.89 262.60,260.00 266.40,262.60 266.98,262.95 267.03,260.16 267.61,260.51 267.66,257.71 268.24,258.06 268.29,255.27 268.86,255.62 268.91,252.83 269.49,253.18 269.54,250.39 270.12,250.74 270.17,247.94 270.75,248.29 270.80,245.50 272.35,245.85 272.40,243.25 273.95,243.60 274.00,241.00 277.80,242.30 279.65,242.65 279.70,240.40 281.55,240.75 281.60,238.50 286.70,239.80 293.00,242.30 320.00,255.00 327.50,260.20 327.55,259.50 331.25,262.57 331.30,261.88 335.00,264.50 353.28,274.47 353.33,273.77 357.85,276.85 357.90,276.15 362.42,279.23 362.47,278.53 376.13,286.37 376.18,285.67 380.70,288.30 382.95,288.65 383.00,287.00 386.00,289.50 388.95,289.85 389.00,288.00 392.00,290.00 394.35,290.35 394.40,288.50" fill="none" stroke="#ef5b36" stroke-width="1.05" stroke-linejoin="round"/>
<line x1="258.40" y1="226.80" x2="394.60" y2="226.80" stroke="#a0a0a0" stroke-width="0.9"/>
<line x1="258.40" y1="226.80" x2="258.40" y2="300.50" stroke="#555" stroke-width="0.9"/>
<line x1="255.20" y1="239.60" x2="258.40" y2="239.60" stroke="#555" stroke-width="0.8"/>
<text x="251.60" y="242.80" font-size="9.2" fill="#3c3c3c" text-anchor="end">0.6</text>
<line x1="255.20" y1="255.80" x2="258.40" y2="255.80" stroke="#555" stroke-width="0.8"/>
<text x="251.60" y="259.00" font-size="9.2" fill="#3c3c3c" text-anchor="end">0.4</text>
<line x1="255.20" y1="272.00" x2="258.40" y2="272.00" stroke="#555" stroke-width="0.8"/>
<text x="251.60" y="275.20" font-size="9.2" fill="#3c3c3c" text-anchor="end">0.2</text>
<line x1="255.20" y1="288.20" x2="258.40" y2="288.20" stroke="#555" stroke-width="0.8"/>
<text x="251.60" y="291.40" font-size="9.2" fill="#3c3c3c" text-anchor="end">0</text>
<line x1="255.20" y1="231.50" x2="258.40" y2="231.50" stroke="#555" stroke-width="0.8"/>
<line x1="255.20" y1="247.70" x2="258.40" y2="247.70" stroke="#555" stroke-width="0.8"/>
<line x1="255.20" y1="263.90" x2="258.40" y2="263.90" stroke="#555" stroke-width="0.8"/>
<line x1="255.20" y1="280.10" x2="258.40" y2="280.10" stroke="#555" stroke-width="0.8"/>
<line x1="255.20" y1="296.30" x2="258.40" y2="296.30" stroke="#555" stroke-width="0.8"/>
<line x1="394.60" y1="226.80" x2="394.60" y2="300.50" stroke="#555" stroke-width="0.9"/>
<line x1="394.60" y1="239.61" x2="397.90" y2="239.61" stroke="#555" stroke-width="0.8"/>
<text x="402.00" y="242.91" font-size="9.3" fill="#3c3c3c">30</text>
<line x1="394.60" y1="255.94" x2="397.90" y2="255.94" stroke="#555" stroke-width="0.8"/>
<text x="402.00" y="259.24" font-size="9.3" fill="#3c3c3c">20</text>
<line x1="394.60" y1="272.27" x2="397.90" y2="272.27" stroke="#555" stroke-width="0.8"/>
<text x="402.00" y="275.57" font-size="9.3" fill="#3c3c3c">10</text>
<line x1="394.60" y1="288.60" x2="397.90" y2="288.60" stroke="#555" stroke-width="0.8"/>
<text x="402.00" y="291.90" font-size="9.3" fill="#3c3c3c">0</text>
<line x1="394.60" y1="231.45" x2="397.90" y2="231.45" stroke="#555" stroke-width="0.8"/>
<line x1="394.60" y1="247.78" x2="397.90" y2="247.78" stroke="#555" stroke-width="0.8"/>
<line x1="394.60" y1="264.11" x2="397.90" y2="264.11" stroke="#555" stroke-width="0.8"/>
<line x1="394.60" y1="280.44" x2="397.90" y2="280.44" stroke="#555" stroke-width="0.8"/>
<line x1="394.60" y1="296.77" x2="397.90" y2="296.77" stroke="#555" stroke-width="0.8"/>
<line x1="258.60" y1="300.50" x2="258.60" y2="322.10" stroke="#4a66b8" stroke-width="0.8" stroke-opacity="0.91"/><line x1="259.60" y1="300.50" x2="259.60" y2="322.10" stroke="#4a66b8" stroke-width="0.8" stroke-opacity="1.00"/><line x1="260.60" y1="300.50" x2="260.60" y2="322.10" stroke="#4a66b8" stroke-width="0.8" stroke-opacity="0.91"/><line x1="263.30" y1="300.50" x2="263.30" y2="322.10" stroke="#4a66b8" stroke-width="0.8" stroke-opacity="0.95"/><line x1="269.40" y1="300.50" x2="269.40" y2="322.10" stroke="#4a66b8" stroke-width="0.8" stroke-opacity="0.95"/><line x1="270.20" y1="300.50" x2="270.20" y2="322.10" stroke="#4a66b8" stroke-width="0.8" stroke-opacity="0.95"/><line x1="272.20" y1="300.50" x2="272.20" y2="322.10" stroke="#4a66b8" stroke-width="0.8" stroke-opacity="0.95"/><line x1="275.50" y1="300.50" x2="275.50" y2="322.10" stroke="#4a66b8" stroke-width="0.8" stroke-opacity="0.95"/><line x1="276.60" y1="300.50" x2="276.60" y2="322.10" stroke="#4a66b8" stroke-width="0.8" stroke-opacity="0.42"/><line x1="277.55" y1="300.50" x2="277.55" y2="322.10" stroke="#4a66b8" stroke-width="0.8" stroke-opacity="0.37"/><line x1="278.50" y1="300.50" x2="278.50" y2="322.10" stroke="#4a66b8" stroke-width="0.8" stroke-opacity="0.42"/><line x1="281.30" y1="300.50" x2="281.30" y2="322.10" stroke="#4a66b8" stroke-width="0.8" stroke-opacity="0.95"/><line x1="285.50" y1="300.50" x2="285.50" y2="322.10" stroke="#4a66b8" stroke-width="0.8" stroke-opacity="0.68"/><line x1="286.35" y1="300.50" x2="286.35" y2="322.10" stroke="#4a66b8" stroke-width="0.8" stroke-opacity="0.55"/><line x1="287.20" y1="300.50" x2="287.20" y2="322.10" stroke="#4a66b8" stroke-width="0.8" stroke-opacity="0.60"/><line x1="299.40" y1="300.50" x2="299.40" y2="322.10" stroke="#4a66b8" stroke-width="0.8" stroke-opacity="0.95"/><line x1="301.60" y1="300.50" x2="301.60" y2="322.10" stroke="#4a66b8" stroke-width="0.8" stroke-opacity="0.95"/><line x1="314.60" y1="300.50" x2="314.60" y2="322.10" stroke="#4a66b8" stroke-width="0.8" stroke-opacity="0.95"/><line x1="318.50" y1="300.50" x2="318.50" y2="322.10" stroke="#4a66b8" stroke-width="0.8" stroke-opacity="0.95"/><line x1="323.50" y1="300.50" x2="323.50" y2="322.10" stroke="#4a66b8" stroke-width="0.8" stroke-opacity="0.95"/><line x1="343.30" y1="300.50" x2="343.30" y2="322.10" stroke="#4a66b8" stroke-width="0.8" stroke-opacity="0.59"/><line x1="344.03" y1="300.50" x2="344.03" y2="322.10" stroke="#4a66b8" stroke-width="0.8" stroke-opacity="0.74"/><line x1="345.50" y1="300.50" x2="345.50" y2="322.10" stroke="#4a66b8" stroke-width="0.8" stroke-opacity="0.82"/><line x1="380.50" y1="300.50" x2="380.50" y2="322.10" stroke="#4a66b8" stroke-width="0.8" stroke-opacity="0.95"/><line x1="382.50" y1="300.50" x2="382.50" y2="322.10" stroke="#4a66b8" stroke-width="0.8" stroke-opacity="0.95"/><line x1="385.50" y1="300.50" x2="385.50" y2="322.10" stroke="#4a66b8" stroke-width="0.8" stroke-opacity="0.95"/>
<line x1="259.20" y1="322.10" x2="259.20" y2="343.40" stroke="#1b8a4c" stroke-width="0.8" stroke-opacity="0.91"/><line x1="259.85" y1="322.10" x2="259.85" y2="343.40" stroke="#1b8a4c" stroke-width="0.8" stroke-opacity="1.00"/><line x1="260.50" y1="322.10" x2="260.50" y2="343.40" stroke="#1b8a4c" stroke-width="0.8" stroke-opacity="0.91"/><line x1="261.70" y1="322.10" x2="261.70" y2="343.40" stroke="#1b8a4c" stroke-width="0.8" stroke-opacity="0.95"/><line x1="262.50" y1="322.10" x2="262.50" y2="343.40" stroke="#1b8a4c" stroke-width="0.8" stroke-opacity="0.95"/><line x1="265.00" y1="322.10" x2="265.00" y2="343.40" stroke="#1b8a4c" stroke-width="0.8" stroke-opacity="0.95"/><line x1="266.10" y1="322.10" x2="266.10" y2="343.40" stroke="#1b8a4c" stroke-width="0.8" stroke-opacity="0.95"/><line x1="267.00" y1="322.10" x2="267.00" y2="343.40" stroke="#1b8a4c" stroke-width="0.8" stroke-opacity="0.93"/><line x1="267.95" y1="322.10" x2="267.95" y2="343.40" stroke="#1b8a4c" stroke-width="0.8" stroke-opacity="0.81"/><line x1="268.90" y1="322.10" x2="268.90" y2="343.40" stroke="#1b8a4c" stroke-width="0.8" stroke-opacity="0.93"/><line x1="271.60" y1="322.10" x2="271.60" y2="343.40" stroke="#1b8a4c" stroke-width="0.8" stroke-opacity="0.95"/><line x1="272.50" y1="322.10" x2="272.50" y2="343.40" stroke="#1b8a4c" stroke-width="0.8" stroke-opacity="0.95"/><line x1="276.10" y1="322.10" x2="276.10" y2="343.40" stroke="#1b8a4c" stroke-width="0.8" stroke-opacity="0.95"/><line x1="280.50" y1="322.10" x2="280.50" y2="343.40" stroke="#1b8a4c" stroke-width="0.8" stroke-opacity="0.95"/><line x1="283.30" y1="322.10" x2="283.30" y2="343.40" stroke="#1b8a4c" stroke-width="0.8" stroke-opacity="0.95"/><line x1="290.50" y1="322.10" x2="290.50" y2="343.40" stroke="#1b8a4c" stroke-width="0.8" stroke-opacity="0.95"/><line x1="295.50" y1="322.10" x2="295.50" y2="343.40" stroke="#1b8a4c" stroke-width="0.8" stroke-opacity="0.95"/><line x1="297.70" y1="322.10" x2="297.70" y2="343.40" stroke="#1b8a4c" stroke-width="0.8" stroke-opacity="0.95"/><line x1="302.50" y1="322.10" x2="302.50" y2="343.40" stroke="#1b8a4c" stroke-width="0.8" stroke-opacity="0.95"/><line x1="309.40" y1="322.10" x2="309.40" y2="343.40" stroke="#1b8a4c" stroke-width="0.8" stroke-opacity="0.95"/><line x1="311.60" y1="322.10" x2="311.60" y2="343.40" stroke="#1b8a4c" stroke-width="0.8" stroke-opacity="0.95"/><line x1="314.40" y1="322.10" x2="314.40" y2="343.40" stroke="#1b8a4c" stroke-width="0.8" stroke-opacity="0.95"/><line x1="322.10" y1="322.10" x2="322.10" y2="343.40" stroke="#1b8a4c" stroke-width="0.8" stroke-opacity="0.95"/><line x1="326.40" y1="322.10" x2="326.40" y2="343.40" stroke="#1b8a4c" stroke-width="0.8" stroke-opacity="0.95"/><line x1="328.30" y1="322.10" x2="328.30" y2="343.40" stroke="#1b8a4c" stroke-width="0.8" stroke-opacity="0.95"/><line x1="328.90" y1="322.10" x2="328.90" y2="343.40" stroke="#1b8a4c" stroke-width="0.8" stroke-opacity="0.95"/><line x1="332.20" y1="322.10" x2="332.20" y2="343.40" stroke="#1b8a4c" stroke-width="0.8" stroke-opacity="0.95"/><line x1="353.30" y1="322.10" x2="353.30" y2="343.40" stroke="#1b8a4c" stroke-width="0.8" stroke-opacity="0.68"/><line x1="354.12" y1="322.10" x2="354.12" y2="343.40" stroke="#1b8a4c" stroke-width="0.8" stroke-opacity="0.55"/><line x1="354.95" y1="322.10" x2="354.95" y2="343.40" stroke="#1b8a4c" stroke-width="0.8" stroke-opacity="0.55"/><line x1="355.78" y1="322.10" x2="355.78" y2="343.40" stroke="#1b8a4c" stroke-width="0.8" stroke-opacity="0.69"/><line x1="356.60" y1="322.10" x2="356.60" y2="343.40" stroke="#1b8a4c" stroke-width="0.8" stroke-opacity="0.54"/><line x1="358.60" y1="322.10" x2="358.60" y2="343.40" stroke="#1b8a4c" stroke-width="0.8" stroke-opacity="0.95"/><line x1="376.60" y1="322.10" x2="376.60" y2="343.40" stroke="#1b8a4c" stroke-width="0.8" stroke-opacity="0.95"/>
<line x1="258.90" y1="343.40" x2="258.90" y2="364.40" stroke="#ec5f3c" stroke-width="0.8" stroke-opacity="0.91"/><line x1="259.68" y1="343.40" x2="259.68" y2="364.40" stroke="#ec5f3c" stroke-width="0.8" stroke-opacity="1.00"/><line x1="260.46" y1="343.40" x2="260.46" y2="364.40" stroke="#ec5f3c" stroke-width="0.8" stroke-opacity="0.93"/><line x1="261.24" y1="343.40" x2="261.24" y2="364.40" stroke="#ec5f3c" stroke-width="0.8" stroke-opacity="0.81"/><line x1="262.02" y1="343.40" x2="262.02" y2="364.40" stroke="#ec5f3c" stroke-width="0.8" stroke-opacity="0.97"/><line x1="262.80" y1="343.40" x2="262.80" y2="364.40" stroke="#ec5f3c" stroke-width="0.8" stroke-opacity="1.00"/><line x1="266.10" y1="343.40" x2="266.10" y2="364.40" stroke="#ec5f3c" stroke-width="0.8" stroke-opacity="0.70"/><line x1="266.97" y1="343.40" x2="266.97" y2="364.40" stroke="#ec5f3c" stroke-width="0.8" stroke-opacity="0.70"/><line x1="267.83" y1="343.40" x2="267.83" y2="364.40" stroke="#ec5f3c" stroke-width="0.8" stroke-opacity="0.89"/><line x1="269.57" y1="343.40" x2="269.57" y2="364.40" stroke="#ec5f3c" stroke-width="0.8" stroke-opacity="0.98"/><line x1="270.43" y1="343.40" x2="270.43" y2="364.40" stroke="#ec5f3c" stroke-width="0.8" stroke-opacity="0.87"/><line x1="273.03" y1="343.40" x2="273.03" y2="364.40" stroke="#ec5f3c" stroke-width="0.8" stroke-opacity="0.69"/><line x1="273.90" y1="343.40" x2="273.90" y2="364.40" stroke="#ec5f3c" stroke-width="0.8" stroke-opacity="0.73"/><line x1="275.00" y1="343.40" x2="275.00" y2="364.40" stroke="#ec5f3c" stroke-width="0.8" stroke-opacity="0.95"/><line x1="276.00" y1="343.40" x2="276.00" y2="364.40" stroke="#ec5f3c" stroke-width="0.8" stroke-opacity="0.71"/><line x1="277.67" y1="343.40" x2="277.67" y2="364.40" stroke="#ec5f3c" stroke-width="0.8" stroke-opacity="0.77"/><line x1="278.50" y1="343.40" x2="278.50" y2="364.40" stroke="#ec5f3c" stroke-width="0.8" stroke-opacity="0.79"/><line x1="279.33" y1="343.40" x2="279.33" y2="364.40" stroke="#ec5f3c" stroke-width="0.8" stroke-opacity="0.79"/><line x1="280.17" y1="343.40" x2="280.17" y2="364.40" stroke="#ec5f3c" stroke-width="0.8" stroke-opacity="0.77"/><line x1="281.00" y1="343.40" x2="281.00" y2="364.40" stroke="#ec5f3c" stroke-width="0.8" stroke-opacity="0.72"/><line x1="283.30" y1="343.40" x2="283.30" y2="364.40" stroke="#ec5f3c" stroke-width="0.8" stroke-opacity="0.95"/><line x1="284.40" y1="343.40" x2="284.40" y2="364.40" stroke="#ec5f3c" stroke-width="0.8" stroke-opacity="0.66"/><line x1="285.18" y1="343.40" x2="285.18" y2="364.40" stroke="#ec5f3c" stroke-width="0.8" stroke-opacity="0.63"/><line x1="285.96" y1="343.40" x2="285.96" y2="364.40" stroke="#ec5f3c" stroke-width="0.8" stroke-opacity="0.52"/><line x1="286.74" y1="343.40" x2="286.74" y2="364.40" stroke="#ec5f3c" stroke-width="0.8" stroke-opacity="0.51"/><line x1="288.30" y1="343.40" x2="288.30" y2="364.40" stroke="#ec5f3c" stroke-width="0.8" stroke-opacity="0.61"/><line x1="290.50" y1="343.40" x2="290.50" y2="364.40" stroke="#ec5f3c" stroke-width="0.8" stroke-opacity="0.71"/><line x1="291.43" y1="343.40" x2="291.43" y2="364.40" stroke="#ec5f3c" stroke-width="0.8" stroke-opacity="0.71"/><line x1="292.37" y1="343.40" x2="292.37" y2="364.40" stroke="#ec5f3c" stroke-width="0.8" stroke-opacity="0.84"/><line x1="293.30" y1="343.40" x2="293.30" y2="364.40" stroke="#ec5f3c" stroke-width="0.8" stroke-opacity="0.60"/><line x1="294.40" y1="343.40" x2="294.40" y2="364.40" stroke="#ec5f3c" stroke-width="0.8" stroke-opacity="0.66"/><line x1="295.13" y1="343.40" x2="295.13" y2="364.40" stroke="#ec5f3c" stroke-width="0.8" stroke-opacity="0.73"/><line x1="295.87" y1="343.40" x2="295.87" y2="364.40" stroke="#ec5f3c" stroke-width="0.8" stroke-opacity="0.71"/><line x1="296.60" y1="343.40" x2="296.60" y2="364.40" stroke="#ec5f3c" stroke-width="0.8" stroke-opacity="0.62"/><line x1="297.70" y1="343.40" x2="297.70" y2="364.40" stroke="#ec5f3c" stroke-width="0.8" stroke-opacity="0.78"/><line x1="298.48" y1="343.40" x2="298.48" y2="364.40" stroke="#ec5f3c" stroke-width="0.8" stroke-opacity="0.68"/><line x1="300.04" y1="343.40" x2="300.04" y2="364.40" stroke="#ec5f3c" stroke-width="0.8" stroke-opacity="0.87"/><line x1="300.82" y1="343.40" x2="300.82" y2="364.40" stroke="#ec5f3c" stroke-width="0.8" stroke-opacity="0.63"/><line x1="301.60" y1="343.40" x2="301.60" y2="364.40" stroke="#ec5f3c" stroke-width="0.8" stroke-opacity="0.67"/><line x1="305.50" y1="343.40" x2="305.50" y2="364.40" stroke="#ec5f3c" stroke-width="0.8" stroke-opacity="0.95"/><line x1="310.50" y1="343.40" x2="310.50" y2="364.40" stroke="#ec5f3c" stroke-width="0.8" stroke-opacity="0.95"/><line x1="315.50" y1="343.40" x2="315.50" y2="364.40" stroke="#ec5f3c" stroke-width="0.8" stroke-opacity="0.95"/><line x1="327.80" y1="343.40" x2="327.80" y2="364.40" stroke="#ec5f3c" stroke-width="0.8" stroke-opacity="0.95"/><line x1="330.30" y1="343.40" x2="330.30" y2="364.40" stroke="#ec5f3c" stroke-width="0.8" stroke-opacity="0.95"/><line x1="331.70" y1="343.40" x2="331.70" y2="364.40" stroke="#ec5f3c" stroke-width="0.8" stroke-opacity="0.95"/><line x1="332.50" y1="343.40" x2="332.50" y2="364.40" stroke="#ec5f3c" stroke-width="0.8" stroke-opacity="0.95"/><line x1="336.40" y1="343.40" x2="336.40" y2="364.40" stroke="#ec5f3c" stroke-width="0.8" stroke-opacity="0.95"/><line x1="345.20" y1="343.40" x2="345.20" y2="364.40" stroke="#ec5f3c" stroke-width="0.8" stroke-opacity="0.95"/><line x1="349.40" y1="343.40" x2="349.40" y2="364.40" stroke="#ec5f3c" stroke-width="0.8" stroke-opacity="0.95"/><line x1="352.50" y1="343.40" x2="352.50" y2="364.40" stroke="#ec5f3c" stroke-width="0.8" stroke-opacity="0.55"/><line x1="353.97" y1="343.40" x2="353.97" y2="364.40" stroke="#ec5f3c" stroke-width="0.8" stroke-opacity="0.57"/><line x1="354.70" y1="343.40" x2="354.70" y2="364.40" stroke="#ec5f3c" stroke-width="0.8" stroke-opacity="0.66"/><line x1="358.80" y1="343.40" x2="358.80" y2="364.40" stroke="#ec5f3c" stroke-width="0.8" stroke-opacity="0.95"/><line x1="365.50" y1="343.40" x2="365.50" y2="364.40" stroke="#ec5f3c" stroke-width="0.8" stroke-opacity="0.95"/><line x1="376.60" y1="343.40" x2="376.60" y2="364.40" stroke="#ec5f3c" stroke-width="0.8" stroke-opacity="0.63"/><line x1="377.38" y1="343.40" x2="377.38" y2="364.40" stroke="#ec5f3c" stroke-width="0.8" stroke-opacity="0.70"/><line x1="378.94" y1="343.40" x2="378.94" y2="364.40" stroke="#ec5f3c" stroke-width="0.8" stroke-opacity="0.55"/><line x1="379.72" y1="343.40" x2="379.72" y2="364.40" stroke="#ec5f3c" stroke-width="0.8" stroke-opacity="0.58"/><line x1="380.50" y1="343.40" x2="380.50" y2="364.40" stroke="#ec5f3c" stroke-width="0.8" stroke-opacity="0.59"/><line x1="384.90" y1="343.40" x2="384.90" y2="364.40" stroke="#ec5f3c" stroke-width="0.8" stroke-opacity="0.76"/><line x1="385.75" y1="343.40" x2="385.75" y2="364.40" stroke="#ec5f3c" stroke-width="0.8" stroke-opacity="0.60"/><line x1="386.60" y1="343.40" x2="386.60" y2="364.40" stroke="#ec5f3c" stroke-width="0.8" stroke-opacity="0.74"/>
<rect x="258.40" y="300.50" width="136.20" height="21.60" fill="none" stroke="#3a3a3a" stroke-width="0.9"/>
<rect x="258.40" y="322.10" width="136.20" height="21.30" fill="none" stroke="#3a3a3a" stroke-width="0.9"/>
<rect x="258.40" y="343.40" width="136.20" height="21.00" fill="none" stroke="#3a3a3a" stroke-width="0.9"/>
<line x1="258.40" y1="300.50" x2="394.60" y2="300.50" stroke="#222" stroke-width="1.0"/>
<line x1="258.40" y1="364.40" x2="258.40" y2="367.40" stroke="#555" stroke-width="0.8"/>
<line x1="273.30" y1="364.40" x2="273.30" y2="367.40" stroke="#555" stroke-width="0.8"/>
<line x1="288.20" y1="364.40" x2="288.20" y2="367.40" stroke="#555" stroke-width="0.8"/>
<line x1="303.10" y1="364.40" x2="303.10" y2="367.40" stroke="#555" stroke-width="0.8"/>
<line x1="318.00" y1="364.40" x2="318.00" y2="367.40" stroke="#555" stroke-width="0.8"/>
<line x1="332.90" y1="364.40" x2="332.90" y2="367.40" stroke="#555" stroke-width="0.8"/>
<line x1="347.80" y1="364.40" x2="347.80" y2="367.40" stroke="#555" stroke-width="0.8"/>
<line x1="362.70" y1="364.40" x2="362.70" y2="367.40" stroke="#555" stroke-width="0.8"/>
<line x1="377.60" y1="364.40" x2="377.60" y2="367.40" stroke="#555" stroke-width="0.8"/>
<line x1="392.50" y1="364.40" x2="392.50" y2="367.40" stroke="#555" stroke-width="0.8"/>
<text x="258.40" y="376.00" font-size="9.0" fill="#3c3c3c" text-anchor="middle">0</text>
<text x="288.20" y="376.00" font-size="9.0" fill="#3c3c3c" text-anchor="middle">4,000</text>
<text x="318.00" y="376.00" font-size="9.0" fill="#3c3c3c" text-anchor="middle">8,000</text>
<text x="347.80" y="376.00" font-size="9.0" fill="#3c3c3c" text-anchor="middle">12,000</text>
<text x="377.60" y="376.00" font-size="9.0" fill="#3c3c3c" text-anchor="middle">16,000</text>
<line x1="249.60" y1="218.30" x2="258.60" y2="218.30" stroke="#4262b2" stroke-width="1.1"/>
<text x="262.90" y="220.90" font-size="9.2" fill="#3c3c3c">Angelidis</text>
<line x1="306.50" y1="218.30" x2="315.70" y2="218.30" stroke="#1b8a4c" stroke-width="1.1"/>
<text x="319.60" y="220.90" font-size="9.2" fill="#3c3c3c" textLength="49.5" lengthAdjust="spacingAndGlyphs">Tabula Muris</text>
<line x1="375.00" y1="218.30" x2="384.10" y2="218.30" stroke="#ef5b36" stroke-width="1.1"/>
<text x="389.70" y="220.90" font-size="9.2" fill="#3c3c3c">Global aging</text>
<text x="358.90" y="238.00" font-size="6.8" fill="#444">NES (<tspan font-style="italic">P</tspan>):</text>
<text x="358.90" y="246.60" font-size="7.4" fill="#2f7fc6">2.15 (0.0)</text>
<text x="358.90" y="254.60" font-size="7.4" fill="#2a9a5a">2.11 (0.0)</text>
<text x="358.90" y="262.60" font-size="7.4" fill="#f2935f">2.11 (0.0)</text>
<text x="221.90" y="211.60" font-size="15" fill="#111" font-weight="bold" stroke="#111" stroke-width="0.45">e</text>
<text x="232.40" y="264.00" font-size="10.15" fill="#3c3c3c" text-anchor="middle" transform="rotate(-90 232.40 264.00)">Enrichment score</text>
<text x="419.60" y="230.70" font-size="10.6" fill="#9a9a9a" transform="rotate(90 419.60 230.70)">Ranked metric</text>
<text x="335.50" y="390.20" font-size="10.6" fill="#3c3c3c" text-anchor="middle">Rank (aged sg<tspan font-style="italic">Inert</tspan> versus young sg<tspan font-style="italic">Inert</tspan>)</text>
<path d="M517.60,516.30 L517.90,510.14 L518.00,510.21 L518.21,510.37 L518.50,510.56 L518.85,510.79 L519.26,511.03 L519.72,511.29 L520.22,511.54 L520.78,511.80 L521.37,512.04 L522.01,512.27 L522.69,512.50 L523.40,512.71 L524.15,512.90 L524.94,513.09 L525.76,513.26 L526.62,513.42 L527.51,513.57 L528.43,513.71 L529.38,513.84 L530.36,513.96 L531.37,514.08 L532.41,514.19 L533.48,514.29 L534.58,514.39 L535.71,514.48 L536.86,514.58 L538.04,514.66 L539.25,514.75 L540.48,514.83 L541.74,514.90 L543.02,514.98 L544.33,515.05 L545.67,515.12 L547.02,515.18 L548.41,515.25 L549.81,515.31 L551.24,515.36 L552.70,515.42 L554.17,515.47 L555.67,515.52 L557.19,515.57 L558.74,515.62 L560.31,515.66 L561.89,515.70 L563.51,515.74 L565.14,515.78 L566.79,515.81 L568.47,515.84 L570.16,515.87 L571.88,515.90 L573.62,515.93 L575.38,515.96 L577.15,515.98 L578.95,516.01 L580.77,516.03 L582.61,516.05 L584.47,516.07 L586.35,516.08 L588.25,516.10 L590.16,516.12 L592.10,516.13 L594.06,516.14 L596.03,516.16 L598.02,516.17 L600.04,516.18 L602.07,516.19 L604.12,516.20 L606.19,516.21 L608.27,516.21 L610.38,516.22 L612.50,516.23 L614.64,516.23 L616.80,516.24 L618.98,516.24 L621.17,516.25 L623.38,516.25 L625.61,516.26 L627.86,516.26 L630.12,516.27 L632.40,516.27 L634.70,516.27 L637.02,516.27 L639.35,516.28 L641.70,516.28 L644.07,516.28 L646.45,516.28 L648.85,516.28 L651.27,516.29 L653.70,516.29 L653.70,517.10 L653.70,516.30 Z" fill="#c5c8c8"/>
<line x1="517.60" y1="516.30" x2="653.70" y2="516.30" stroke="#b4b4b4" stroke-width="0.9"/>
<polyline points="517.60,516.30 517.68,516.65 517.73,513.83 517.82,514.18 517.87,511.37 517.95,511.72 518.00,508.90 518.08,509.25 518.13,506.43 518.22,506.78 518.27,503.97 518.35,504.32 518.40,501.50 518.68,501.85 518.73,499.15 519.00,499.50 519.05,496.80 519.33,497.15 519.38,494.45 519.65,494.80 519.70,492.10 520.30,494.00 520.45,494.35 520.50,491.85 520.65,492.20 520.70,489.70 520.85,490.05 520.90,487.55 521.05,487.90 521.10,485.40 521.80,487.00 521.90,487.35 521.95,484.93 522.05,485.28 522.10,482.85 522.20,483.20 522.25,480.77 522.35,481.12 522.40,478.70 523.20,480.00 523.45,480.35 523.50,478.65 523.75,479.00 523.80,477.30 525.75,477.65 525.80,475.30 528.50,477.30 531.80,476.60 535.20,478.00 539.25,481.15 539.30,480.45 543.30,483.40 544.45,483.75 544.50,481.00 545.50,482.00 546.35,482.35 546.40,480.65 547.25,481.00 547.30,479.30 550.70,481.40 551.45,481.75 551.50,480.00 554.70,482.70 562.10,484.70 571.40,490.08 571.45,489.38 585.35,497.48 585.40,496.78 590.00,499.50 594.25,502.30 594.30,501.60 598.50,504.20 606.58,508.69 606.63,507.99 610.62,510.71 610.67,510.01 618.70,514.30 622.70,516.40 626.75,517.18 626.80,516.48 634.85,517.83 634.90,517.12 638.90,517.70 639.40,518.05 639.45,516.35 639.95,516.70 640.00,515.00 641.00,517.50 642.55,517.85 642.60,515.60 644.15,515.95 644.20,513.70 645.00,516.00 653.50,516.30" fill="none" stroke="#4262b2" stroke-width="1.05" stroke-linejoin="round"/>
<polyline points="517.60,516.30 517.68,516.65 517.73,514.07 517.82,514.42 517.87,511.83 517.95,512.18 518.00,509.60 518.08,509.95 518.13,507.37 518.22,507.72 518.27,505.13 518.35,505.48 518.40,502.90 518.78,503.25 518.83,500.87 519.22,501.22 519.27,498.83 519.65,499.18 519.70,496.80 521.10,498.90 522.40,499.25 522.45,496.85 523.75,497.20 523.80,494.80 525.10,499.50 526.18,499.85 526.23,497.27 527.32,497.62 527.37,495.03 528.45,495.38 528.50,492.80 531.80,495.50 536.50,497.50 537.15,497.85 537.20,495.15 537.85,495.50 537.90,492.80 543.30,496.20 545.25,496.55 545.30,494.85 547.25,495.20 547.30,493.50 551.95,493.85 552.00,491.90 555.37,494.68 555.42,493.98 558.73,497.02 558.78,496.32 562.10,498.90 566.75,501.82 566.80,501.12 571.40,504.28 571.45,503.58 576.05,506.75 576.10,506.05 580.70,509.22 580.75,508.52 590.00,513.70 598.50,520.40 605.20,521.70 611.90,523.10 620.90,523.35 620.95,522.65 625.40,522.80 626.70,523.15 626.75,521.25 628.05,521.60 628.10,519.70 636.20,524.40 637.50,524.75 637.55,522.05 638.85,522.40 638.90,519.70 641.50,522.40 642.35,522.75 642.40,520.60 643.25,520.95 643.30,518.80 644.15,519.15 644.20,517.00 646.30,522.40 646.75,522.75 646.80,520.38 647.25,520.73 647.30,518.35 647.75,518.70 647.80,516.32 648.25,516.67 648.30,514.30 653.50,516.30" fill="none" stroke="#1b8a4c" stroke-width="1.05" stroke-linejoin="round"/>
<polyline points="517.60,516.30 517.83,516.65 517.88,513.88 518.11,514.23 518.16,511.46 518.39,511.81 518.44,509.04 518.67,509.39 518.72,506.62 518.95,506.97 519.00,504.20 519.45,504.55 519.50,502.10 519.95,502.45 520.00,500.00 520.52,500.35 520.57,497.60 521.08,497.95 521.13,495.20 521.65,495.55 521.70,492.80 523.00,493.15 523.05,490.45 524.35,490.80 524.40,488.10 525.72,488.45 525.77,486.07 527.08,486.42 527.13,484.03 528.45,484.38 528.50,482.00 529.80,482.35 529.85,480.00 531.15,480.35 531.20,478.00 533.80,478.35 533.85,475.95 536.45,476.30 536.50,473.90 539.20,475.30 541.85,475.65 541.90,473.90 544.55,474.25 544.60,471.90 547.25,472.25 547.30,469.90 550.70,469.90 559.40,475.30 585.63,489.04 585.68,488.34 590.00,490.80 593.80,493.43 593.85,492.73 605.20,499.50 614.20,503.55 614.25,502.85 618.70,504.90 625.40,506.90 632.10,507.20 635.70,509.12 635.75,508.42 639.30,510.58 639.35,509.88 642.90,511.60 653.50,516.30" fill="none" stroke="#ef5b36" stroke-width="1.05" stroke-linejoin="round"/>
<line x1="517.60" y1="450.80" x2="653.70" y2="450.80" stroke="#a0a0a0" stroke-width="0.9"/>
<line x1="517.60" y1="450.80" x2="517.60" y2="527.30" stroke="#555" stroke-width="0.9"/>
<line x1="514.40" y1="464.52" x2="517.60" y2="464.52" stroke="#555" stroke-width="0.8"/>
<text x="511.00" y="467.72" font-size="9.2" fill="#3c3c3c" text-anchor="end">0.6</text>
<line x1="514.40" y1="481.78" x2="517.60" y2="481.78" stroke="#555" stroke-width="0.8"/>
<text x="511.00" y="484.98" font-size="9.2" fill="#3c3c3c" text-anchor="end">0.4</text>
<line x1="514.40" y1="499.04" x2="517.60" y2="499.04" stroke="#555" stroke-width="0.8"/>
<text x="511.00" y="502.24" font-size="9.2" fill="#3c3c3c" text-anchor="end">0.2</text>
<line x1="514.40" y1="516.30" x2="517.60" y2="516.30" stroke="#555" stroke-width="0.8"/>
<text x="511.00" y="519.50" font-size="9.2" fill="#3c3c3c" text-anchor="end">0</text>
<line x1="514.40" y1="455.89" x2="517.60" y2="455.89" stroke="#555" stroke-width="0.8"/>
<line x1="514.40" y1="473.15" x2="517.60" y2="473.15" stroke="#555" stroke-width="0.8"/>
<line x1="514.40" y1="490.41" x2="517.60" y2="490.41" stroke="#555" stroke-width="0.8"/>
<line x1="514.40" y1="507.67" x2="517.60" y2="507.67" stroke="#555" stroke-width="0.8"/>
<line x1="514.40" y1="524.93" x2="517.60" y2="524.93" stroke="#555" stroke-width="0.8"/>
<line x1="653.70" y1="450.80" x2="653.70" y2="527.30" stroke="#555" stroke-width="0.9"/>
<line x1="653.70" y1="463.90" x2="657.00" y2="463.90" stroke="#555" stroke-width="0.8"/>
<text x="661.10" y="467.20" font-size="9.3" fill="#3c3c3c">30</text>
<line x1="653.70" y1="481.30" x2="657.00" y2="481.30" stroke="#555" stroke-width="0.8"/>
<text x="661.10" y="484.60" font-size="9.3" fill="#3c3c3c">20</text>
<line x1="653.70" y1="498.70" x2="657.00" y2="498.70" stroke="#555" stroke-width="0.8"/>
<text x="661.10" y="502.00" font-size="9.3" fill="#3c3c3c">10</text>
<line x1="653.70" y1="516.10" x2="657.00" y2="516.10" stroke="#555" stroke-width="0.8"/>
<text x="661.10" y="519.40" font-size="9.3" fill="#3c3c3c">0</text>
<line x1="653.70" y1="455.20" x2="657.00" y2="455.20" stroke="#555" stroke-width="0.8"/>
<line x1="653.70" y1="472.60" x2="657.00" y2="472.60" stroke="#555" stroke-width="0.8"/>
<line x1="653.70" y1="490.00" x2="657.00" y2="490.00" stroke="#555" stroke-width="0.8"/>
<line x1="653.70" y1="507.40" x2="657.00" y2="507.40" stroke="#555" stroke-width="0.8"/>
<line x1="653.70" y1="524.80" x2="657.00" y2="524.80" stroke="#555" stroke-width="0.8"/>
<line x1="518.00" y1="527.30" x2="518.00" y2="550.30" stroke="#4a66b8" stroke-width="0.8" stroke-opacity="0.73"/><line x1="518.84" y1="527.30" x2="518.84" y2="550.30" stroke="#4a66b8" stroke-width="0.8" stroke-opacity="0.86"/><line x1="519.69" y1="527.30" x2="519.69" y2="550.30" stroke="#4a66b8" stroke-width="0.8" stroke-opacity="0.74"/><line x1="520.53" y1="527.30" x2="520.53" y2="550.30" stroke="#4a66b8" stroke-width="0.8" stroke-opacity="0.65"/><line x1="521.37" y1="527.30" x2="521.37" y2="550.30" stroke="#4a66b8" stroke-width="0.8" stroke-opacity="0.78"/><line x1="522.21" y1="527.30" x2="522.21" y2="550.30" stroke="#4a66b8" stroke-width="0.8" stroke-opacity="0.63"/><line x1="523.06" y1="527.30" x2="523.06" y2="550.30" stroke="#4a66b8" stroke-width="0.8" stroke-opacity="0.63"/><line x1="523.90" y1="527.30" x2="523.90" y2="550.30" stroke="#4a66b8" stroke-width="0.8" stroke-opacity="0.83"/><line x1="525.50" y1="527.30" x2="525.50" y2="550.30" stroke="#4a66b8" stroke-width="0.8" stroke-opacity="0.95"/><line x1="531.40" y1="527.30" x2="531.40" y2="550.30" stroke="#4a66b8" stroke-width="0.8" stroke-opacity="0.95"/><line x1="542.30" y1="527.30" x2="542.30" y2="550.30" stroke="#4a66b8" stroke-width="0.8" stroke-opacity="0.79"/><line x1="544.10" y1="527.30" x2="544.10" y2="550.30" stroke="#4a66b8" stroke-width="0.8" stroke-opacity="0.88"/><line x1="546.50" y1="527.30" x2="546.50" y2="550.30" stroke="#4a66b8" stroke-width="0.8" stroke-opacity="0.95"/><line x1="553.30" y1="527.30" x2="553.30" y2="550.30" stroke="#4a66b8" stroke-width="0.8" stroke-opacity="0.95"/><line x1="557.80" y1="527.30" x2="557.80" y2="550.30" stroke="#4a66b8" stroke-width="0.8" stroke-opacity="0.95"/><line x1="560.80" y1="527.30" x2="560.80" y2="550.30" stroke="#4a66b8" stroke-width="0.8" stroke-opacity="0.95"/><line x1="570.50" y1="527.30" x2="570.50" y2="550.30" stroke="#4a66b8" stroke-width="0.8" stroke-opacity="0.95"/><line x1="577.40" y1="527.30" x2="577.40" y2="550.30" stroke="#4a66b8" stroke-width="0.8" stroke-opacity="0.82"/><line x1="578.15" y1="527.30" x2="578.15" y2="550.30" stroke="#4a66b8" stroke-width="0.8" stroke-opacity="0.72"/><line x1="580.40" y1="527.30" x2="580.40" y2="550.30" stroke="#4a66b8" stroke-width="0.8" stroke-opacity="0.70"/><line x1="589.50" y1="527.30" x2="589.50" y2="550.30" stroke="#4a66b8" stroke-width="0.8" stroke-opacity="0.95"/><line x1="594.50" y1="527.30" x2="594.50" y2="550.30" stroke="#4a66b8" stroke-width="0.8" stroke-opacity="0.54"/><line x1="595.40" y1="527.30" x2="595.40" y2="550.30" stroke="#4a66b8" stroke-width="0.8" stroke-opacity="0.58"/><line x1="596.30" y1="527.30" x2="596.30" y2="550.30" stroke="#4a66b8" stroke-width="0.8" stroke-opacity="0.53"/><line x1="600.50" y1="527.30" x2="600.50" y2="550.30" stroke="#4a66b8" stroke-width="0.8" stroke-opacity="0.95"/><line x1="603.40" y1="527.30" x2="603.40" y2="550.30" stroke="#4a66b8" stroke-width="0.8" stroke-opacity="0.95"/><line x1="613.50" y1="527.30" x2="613.50" y2="550.30" stroke="#4a66b8" stroke-width="0.8" stroke-opacity="0.95"/><line x1="618.90" y1="527.30" x2="618.90" y2="550.30" stroke="#4a66b8" stroke-width="0.8" stroke-opacity="0.95"/><line x1="621.50" y1="527.30" x2="621.50" y2="550.30" stroke="#4a66b8" stroke-width="0.8" stroke-opacity="0.95"/><line x1="625.40" y1="527.30" x2="625.40" y2="550.30" stroke="#4a66b8" stroke-width="0.8" stroke-opacity="0.95"/><line x1="627.40" y1="527.30" x2="627.40" y2="550.30" stroke="#4a66b8" stroke-width="0.8" stroke-opacity="0.95"/><line x1="633.50" y1="527.30" x2="633.50" y2="550.30" stroke="#4a66b8" stroke-width="0.8" stroke-opacity="0.95"/><line x1="638.50" y1="527.30" x2="638.50" y2="550.30" stroke="#4a66b8" stroke-width="0.8" stroke-opacity="0.95"/><line x1="640.30" y1="527.30" x2="640.30" y2="550.30" stroke="#4a66b8" stroke-width="0.8" stroke-opacity="0.95"/>
<line x1="518.00" y1="550.30" x2="518.00" y2="573.60" stroke="#1b8a4c" stroke-width="0.8" stroke-opacity="0.41"/><line x1="518.75" y1="550.30" x2="518.75" y2="573.60" stroke="#1b8a4c" stroke-width="0.8" stroke-opacity="0.48"/><line x1="519.50" y1="550.30" x2="519.50" y2="573.60" stroke="#1b8a4c" stroke-width="0.8" stroke-opacity="0.42"/><line x1="520.25" y1="550.30" x2="520.25" y2="573.60" stroke="#1b8a4c" stroke-width="0.8" stroke-opacity="0.37"/><line x1="521.00" y1="550.30" x2="521.00" y2="573.60" stroke="#1b8a4c" stroke-width="0.8" stroke-opacity="0.42"/><line x1="524.30" y1="550.30" x2="524.30" y2="573.60" stroke="#1b8a4c" stroke-width="0.8" stroke-opacity="0.95"/><line x1="527.50" y1="550.30" x2="527.50" y2="573.60" stroke="#1b8a4c" stroke-width="0.8" stroke-opacity="0.95"/><line x1="536.40" y1="550.30" x2="536.40" y2="573.60" stroke="#1b8a4c" stroke-width="0.8" stroke-opacity="0.95"/><line x1="543.30" y1="550.30" x2="543.30" y2="573.60" stroke="#1b8a4c" stroke-width="0.8" stroke-opacity="0.95"/><line x1="545.30" y1="550.30" x2="545.30" y2="573.60" stroke="#1b8a4c" stroke-width="0.8" stroke-opacity="0.95"/><line x1="546.50" y1="550.30" x2="546.50" y2="573.60" stroke="#1b8a4c" stroke-width="0.8" stroke-opacity="0.95"/><line x1="548.50" y1="550.30" x2="548.50" y2="573.60" stroke="#1b8a4c" stroke-width="0.8" stroke-opacity="0.95"/><line x1="550.40" y1="550.30" x2="550.40" y2="573.60" stroke="#1b8a4c" stroke-width="0.8" stroke-opacity="0.95"/><line x1="562.00" y1="550.30" x2="562.00" y2="573.60" stroke="#1b8a4c" stroke-width="0.8" stroke-opacity="0.95"/><line x1="570.50" y1="550.30" x2="570.50" y2="573.60" stroke="#1b8a4c" stroke-width="0.8" stroke-opacity="0.95"/><line x1="573.20" y1="550.30" x2="573.20" y2="573.60" stroke="#1b8a4c" stroke-width="0.8" stroke-opacity="0.95"/><line x1="578.00" y1="550.30" x2="578.00" y2="573.60" stroke="#1b8a4c" stroke-width="0.8" stroke-opacity="0.97"/><line x1="578.90" y1="550.30" x2="578.90" y2="573.60" stroke="#1b8a4c" stroke-width="0.8" stroke-opacity="0.78"/><line x1="579.80" y1="550.30" x2="579.80" y2="573.60" stroke="#1b8a4c" stroke-width="0.8" stroke-opacity="0.86"/><line x1="582.20" y1="550.30" x2="582.20" y2="573.60" stroke="#1b8a4c" stroke-width="0.8" stroke-opacity="0.95"/><line x1="585.70" y1="550.30" x2="585.70" y2="573.60" stroke="#1b8a4c" stroke-width="0.8" stroke-opacity="0.95"/><line x1="588.10" y1="550.30" x2="588.10" y2="573.60" stroke="#1b8a4c" stroke-width="0.8" stroke-opacity="0.95"/><line x1="591.50" y1="550.30" x2="591.50" y2="573.60" stroke="#1b8a4c" stroke-width="0.8" stroke-opacity="0.95"/><line x1="599.50" y1="550.30" x2="599.50" y2="573.60" stroke="#1b8a4c" stroke-width="0.8" stroke-opacity="0.95"/><line x1="601.60" y1="550.30" x2="601.60" y2="573.60" stroke="#1b8a4c" stroke-width="0.8" stroke-opacity="0.63"/><line x1="602.33" y1="550.30" x2="602.33" y2="573.60" stroke="#1b8a4c" stroke-width="0.8" stroke-opacity="0.79"/><line x1="603.80" y1="550.30" x2="603.80" y2="573.60" stroke="#1b8a4c" stroke-width="0.8" stroke-opacity="0.88"/><line x1="607.60" y1="550.30" x2="607.60" y2="573.60" stroke="#1b8a4c" stroke-width="0.8" stroke-opacity="0.87"/><line x1="608.65" y1="550.30" x2="608.65" y2="573.60" stroke="#1b8a4c" stroke-width="0.8" stroke-opacity="0.77"/><line x1="609.70" y1="550.30" x2="609.70" y2="573.60" stroke="#1b8a4c" stroke-width="0.8" stroke-opacity="0.64"/><line x1="613.50" y1="550.30" x2="613.50" y2="573.60" stroke="#1b8a4c" stroke-width="0.8" stroke-opacity="0.95"/><line x1="616.50" y1="550.30" x2="616.50" y2="573.60" stroke="#1b8a4c" stroke-width="0.8" stroke-opacity="0.95"/><line x1="618.90" y1="550.30" x2="618.90" y2="573.60" stroke="#1b8a4c" stroke-width="0.8" stroke-opacity="0.95"/><line x1="623.30" y1="550.30" x2="623.30" y2="573.60" stroke="#1b8a4c" stroke-width="0.8" stroke-opacity="0.95"/><line x1="625.40" y1="550.30" x2="625.40" y2="573.60" stroke="#1b8a4c" stroke-width="0.8" stroke-opacity="0.60"/><line x1="626.60" y1="550.30" x2="626.60" y2="573.60" stroke="#1b8a4c" stroke-width="0.8" stroke-opacity="0.75"/><line x1="634.30" y1="550.30" x2="634.30" y2="573.60" stroke="#1b8a4c" stroke-width="0.8" stroke-opacity="0.95"/><line x1="639.40" y1="550.30" x2="639.40" y2="573.60" stroke="#1b8a4c" stroke-width="0.8" stroke-opacity="0.95"/><line x1="644.20" y1="550.30" x2="644.20" y2="573.60" stroke="#1b8a4c" stroke-width="0.8" stroke-opacity="0.95"/>
<line x1="518.00" y1="573.60" x2="518.00" y2="596.60" stroke="#ec5f3c" stroke-width="0.8" stroke-opacity="0.82"/><line x1="518.82" y1="573.60" x2="518.82" y2="596.60" stroke="#ec5f3c" stroke-width="0.8" stroke-opacity="0.97"/><line x1="519.64" y1="573.60" x2="519.64" y2="596.60" stroke="#ec5f3c" stroke-width="0.8" stroke-opacity="0.83"/><line x1="520.46" y1="573.60" x2="520.46" y2="596.60" stroke="#ec5f3c" stroke-width="0.8" stroke-opacity="0.73"/><line x1="521.28" y1="573.60" x2="521.28" y2="596.60" stroke="#ec5f3c" stroke-width="0.8" stroke-opacity="0.87"/><line x1="522.10" y1="573.60" x2="522.10" y2="596.60" stroke="#ec5f3c" stroke-width="0.8" stroke-opacity="0.92"/><line x1="523.30" y1="573.60" x2="523.30" y2="596.60" stroke="#ec5f3c" stroke-width="0.8" stroke-opacity="0.63"/><line x1="524.10" y1="573.60" x2="524.10" y2="596.60" stroke="#ec5f3c" stroke-width="0.8" stroke-opacity="0.63"/><line x1="524.90" y1="573.60" x2="524.90" y2="596.60" stroke="#ec5f3c" stroke-width="0.8" stroke-opacity="0.79"/><line x1="526.50" y1="573.60" x2="526.50" y2="596.60" stroke="#ec5f3c" stroke-width="0.8" stroke-opacity="0.87"/><line x1="527.30" y1="573.60" x2="527.30" y2="596.60" stroke="#ec5f3c" stroke-width="0.8" stroke-opacity="0.77"/><line x1="528.10" y1="573.60" x2="528.10" y2="596.60" stroke="#ec5f3c" stroke-width="0.8" stroke-opacity="0.64"/><line x1="529.30" y1="573.60" x2="529.30" y2="596.60" stroke="#ec5f3c" stroke-width="0.8" stroke-opacity="0.60"/><line x1="530.19" y1="573.60" x2="530.19" y2="596.60" stroke="#ec5f3c" stroke-width="0.8" stroke-opacity="0.62"/><line x1="531.07" y1="573.60" x2="531.07" y2="596.60" stroke="#ec5f3c" stroke-width="0.8" stroke-opacity="0.67"/><line x1="532.85" y1="573.60" x2="532.85" y2="596.60" stroke="#ec5f3c" stroke-width="0.8" stroke-opacity="0.72"/><line x1="533.74" y1="573.60" x2="533.74" y2="596.60" stroke="#ec5f3c" stroke-width="0.8" stroke-opacity="0.75"/><line x1="534.62" y1="573.60" x2="534.62" y2="596.60" stroke="#ec5f3c" stroke-width="0.8" stroke-opacity="0.74"/><line x1="535.51" y1="573.60" x2="535.51" y2="596.60" stroke="#ec5f3c" stroke-width="0.8" stroke-opacity="0.73"/><line x1="536.40" y1="573.60" x2="536.40" y2="596.60" stroke="#ec5f3c" stroke-width="0.8" stroke-opacity="0.68"/><line x1="537.60" y1="573.60" x2="537.60" y2="596.60" stroke="#ec5f3c" stroke-width="0.8" stroke-opacity="0.99"/><line x1="538.47" y1="573.60" x2="538.47" y2="596.60" stroke="#ec5f3c" stroke-width="0.8" stroke-opacity="0.94"/><line x1="539.34" y1="573.60" x2="539.34" y2="596.60" stroke="#ec5f3c" stroke-width="0.8" stroke-opacity="0.77"/><line x1="540.21" y1="573.60" x2="540.21" y2="596.60" stroke="#ec5f3c" stroke-width="0.8" stroke-opacity="0.77"/><line x1="541.95" y1="573.60" x2="541.95" y2="596.60" stroke="#ec5f3c" stroke-width="0.8" stroke-opacity="0.80"/><line x1="542.82" y1="573.60" x2="542.82" y2="596.60" stroke="#ec5f3c" stroke-width="0.8" stroke-opacity="0.80"/><line x1="543.68" y1="573.60" x2="543.68" y2="596.60" stroke="#ec5f3c" stroke-width="0.8" stroke-opacity="0.94"/><line x1="545.42" y1="573.60" x2="545.42" y2="596.60" stroke="#ec5f3c" stroke-width="0.8" stroke-opacity="0.96"/><line x1="546.29" y1="573.60" x2="546.29" y2="596.60" stroke="#ec5f3c" stroke-width="0.8" stroke-opacity="0.98"/><line x1="547.16" y1="573.60" x2="547.16" y2="596.60" stroke="#ec5f3c" stroke-width="0.8" stroke-opacity="0.70"/><line x1="548.03" y1="573.60" x2="548.03" y2="596.60" stroke="#ec5f3c" stroke-width="0.8" stroke-opacity="0.92"/><line x1="548.90" y1="573.60" x2="548.90" y2="596.60" stroke="#ec5f3c" stroke-width="0.8" stroke-opacity="0.76"/><line x1="557.80" y1="573.60" x2="557.80" y2="596.60" stroke="#ec5f3c" stroke-width="0.8" stroke-opacity="0.95"/><line x1="561.40" y1="573.60" x2="561.40" y2="596.60" stroke="#ec5f3c" stroke-width="0.8" stroke-opacity="0.55"/><line x1="562.17" y1="573.60" x2="562.17" y2="596.60" stroke="#ec5f3c" stroke-width="0.8" stroke-opacity="0.76"/><line x1="562.93" y1="573.60" x2="562.93" y2="596.60" stroke="#ec5f3c" stroke-width="0.8" stroke-opacity="0.55"/><line x1="563.70" y1="573.60" x2="563.70" y2="596.60" stroke="#ec5f3c" stroke-width="0.8" stroke-opacity="0.59"/><line x1="567.30" y1="573.60" x2="567.30" y2="596.60" stroke="#ec5f3c" stroke-width="0.8" stroke-opacity="0.95"/><line x1="570.90" y1="573.60" x2="570.90" y2="596.60" stroke="#ec5f3c" stroke-width="0.8" stroke-opacity="0.63"/><line x1="572.83" y1="573.60" x2="572.83" y2="596.60" stroke="#ec5f3c" stroke-width="0.8" stroke-opacity="0.65"/><line x1="573.80" y1="573.60" x2="573.80" y2="596.60" stroke="#ec5f3c" stroke-width="0.8" stroke-opacity="0.76"/><line x1="577.40" y1="573.60" x2="577.40" y2="596.60" stroke="#ec5f3c" stroke-width="0.8" stroke-opacity="0.73"/><line x1="578.20" y1="573.60" x2="578.20" y2="596.60" stroke="#ec5f3c" stroke-width="0.8" stroke-opacity="0.80"/><line x1="579.80" y1="573.60" x2="579.80" y2="596.60" stroke="#ec5f3c" stroke-width="0.8" stroke-opacity="0.78"/><line x1="581.60" y1="573.60" x2="581.60" y2="596.60" stroke="#ec5f3c" stroke-width="0.8" stroke-opacity="0.95"/><line x1="585.10" y1="573.60" x2="585.10" y2="596.60" stroke="#ec5f3c" stroke-width="0.8" stroke-opacity="0.40"/><line x1="585.88" y1="573.60" x2="585.88" y2="596.60" stroke="#ec5f3c" stroke-width="0.8" stroke-opacity="0.41"/><line x1="586.67" y1="573.60" x2="586.67" y2="596.60" stroke="#ec5f3c" stroke-width="0.8" stroke-opacity="0.54"/><line x1="587.45" y1="573.60" x2="587.45" y2="596.60" stroke="#ec5f3c" stroke-width="0.8" stroke-opacity="0.43"/><line x1="588.23" y1="573.60" x2="588.23" y2="596.60" stroke="#ec5f3c" stroke-width="0.8" stroke-opacity="0.41"/><line x1="589.02" y1="573.60" x2="589.02" y2="596.60" stroke="#ec5f3c" stroke-width="0.8" stroke-opacity="0.52"/><line x1="589.80" y1="573.60" x2="589.80" y2="596.60" stroke="#ec5f3c" stroke-width="0.8" stroke-opacity="0.49"/><line x1="591.50" y1="573.60" x2="591.50" y2="596.60" stroke="#ec5f3c" stroke-width="0.8" stroke-opacity="0.95"/><line x1="598.70" y1="573.60" x2="598.70" y2="596.60" stroke="#ec5f3c" stroke-width="0.8" stroke-opacity="0.63"/><line x1="599.48" y1="573.60" x2="599.48" y2="596.60" stroke="#ec5f3c" stroke-width="0.8" stroke-opacity="0.66"/><line x1="600.27" y1="573.60" x2="600.27" y2="596.60" stroke="#ec5f3c" stroke-width="0.8" stroke-opacity="0.82"/><line x1="601.05" y1="573.60" x2="601.05" y2="596.60" stroke="#ec5f3c" stroke-width="0.8" stroke-opacity="0.68"/><line x1="603.40" y1="573.60" x2="603.40" y2="596.60" stroke="#ec5f3c" stroke-width="0.8" stroke-opacity="0.76"/><line x1="606.40" y1="573.60" x2="606.40" y2="596.60" stroke="#ec5f3c" stroke-width="0.8" stroke-opacity="0.67"/><line x1="607.24" y1="573.60" x2="607.24" y2="596.60" stroke="#ec5f3c" stroke-width="0.8" stroke-opacity="0.70"/><line x1="608.08" y1="573.60" x2="608.08" y2="596.60" stroke="#ec5f3c" stroke-width="0.8" stroke-opacity="0.87"/><line x1="608.92" y1="573.60" x2="608.92" y2="596.60" stroke="#ec5f3c" stroke-width="0.8" stroke-opacity="0.76"/><line x1="609.76" y1="573.60" x2="609.76" y2="596.60" stroke="#ec5f3c" stroke-width="0.8" stroke-opacity="0.65"/><line x1="610.60" y1="573.60" x2="610.60" y2="596.60" stroke="#ec5f3c" stroke-width="0.8" stroke-opacity="0.64"/><line x1="614.10" y1="573.60" x2="614.10" y2="596.60" stroke="#ec5f3c" stroke-width="0.8" stroke-opacity="0.95"/><line x1="619.20" y1="573.60" x2="619.20" y2="596.60" stroke="#ec5f3c" stroke-width="0.8" stroke-opacity="0.95"/><line x1="623.60" y1="573.60" x2="623.60" y2="596.60" stroke="#ec5f3c" stroke-width="0.8" stroke-opacity="0.85"/><line x1="624.35" y1="573.60" x2="624.35" y2="596.60" stroke="#ec5f3c" stroke-width="0.8" stroke-opacity="0.67"/><line x1="625.10" y1="573.60" x2="625.10" y2="596.60" stroke="#ec5f3c" stroke-width="0.8" stroke-opacity="0.81"/><line x1="625.85" y1="573.60" x2="625.85" y2="596.60" stroke="#ec5f3c" stroke-width="0.8" stroke-opacity="0.66"/><line x1="626.60" y1="573.60" x2="626.60" y2="596.60" stroke="#ec5f3c" stroke-width="0.8" stroke-opacity="0.87"/><line x1="629.20" y1="573.60" x2="629.20" y2="596.60" stroke="#ec5f3c" stroke-width="0.8" stroke-opacity="0.95"/><line x1="636.10" y1="573.60" x2="636.10" y2="596.60" stroke="#ec5f3c" stroke-width="0.8" stroke-opacity="0.64"/><line x1="636.90" y1="573.60" x2="636.90" y2="596.60" stroke="#ec5f3c" stroke-width="0.8" stroke-opacity="0.54"/><line x1="638.50" y1="573.60" x2="638.50" y2="596.60" stroke="#ec5f3c" stroke-width="0.8" stroke-opacity="0.46"/>
<rect x="517.60" y="527.30" width="136.10" height="23.00" fill="none" stroke="#3a3a3a" stroke-width="0.9"/>
<rect x="517.60" y="550.30" width="136.10" height="23.30" fill="none" stroke="#3a3a3a" stroke-width="0.9"/>
<rect x="517.60" y="573.60" width="136.10" height="23.00" fill="none" stroke="#3a3a3a" stroke-width="0.9"/>
<line x1="517.60" y1="527.30" x2="653.70" y2="527.30" stroke="#222" stroke-width="1.4"/>
<line x1="517.60" y1="596.60" x2="517.60" y2="599.60" stroke="#555" stroke-width="0.8"/>
<line x1="532.45" y1="596.60" x2="532.45" y2="599.60" stroke="#555" stroke-width="0.8"/>
<line x1="547.30" y1="596.60" x2="547.30" y2="599.60" stroke="#555" stroke-width="0.8"/>
<line x1="562.15" y1="596.60" x2="562.15" y2="599.60" stroke="#555" stroke-width="0.8"/>
<line x1="577.00" y1="596.60" x2="577.00" y2="599.60" stroke="#555" stroke-width="0.8"/>
<line x1="591.85" y1="596.60" x2="591.85" y2="599.60" stroke="#555" stroke-width="0.8"/>
<line x1="606.70" y1="596.60" x2="606.70" y2="599.60" stroke="#555" stroke-width="0.8"/>
<line x1="621.55" y1="596.60" x2="621.55" y2="599.60" stroke="#555" stroke-width="0.8"/>
<line x1="636.40" y1="596.60" x2="636.40" y2="599.60" stroke="#555" stroke-width="0.8"/>
<line x1="651.25" y1="596.60" x2="651.25" y2="599.60" stroke="#555" stroke-width="0.8"/>
<text x="517.60" y="611.00" font-size="9.0" fill="#3c3c3c" text-anchor="middle">0</text>
<text x="547.30" y="611.00" font-size="9.0" fill="#3c3c3c" text-anchor="middle">4,000</text>
<text x="577.00" y="611.00" font-size="9.0" fill="#3c3c3c" text-anchor="middle">8,000</text>
<text x="606.70" y="611.00" font-size="9.0" fill="#3c3c3c" text-anchor="middle">12,000</text>
<text x="636.40" y="611.00" font-size="9.0" fill="#3c3c3c" text-anchor="middle">16,000</text>
<line x1="492.30" y1="440.80" x2="501.40" y2="440.80" stroke="#4262b2" stroke-width="1.1"/>
<text x="506.20" y="443.40" font-size="9.2" fill="#3c3c3c">Angelidis</text>
<line x1="549.60" y1="440.80" x2="558.70" y2="440.80" stroke="#1b8a4c" stroke-width="1.1"/>
<text x="562.60" y="443.40" font-size="9.2" fill="#3c3c3c" textLength="49.5" lengthAdjust="spacingAndGlyphs">Tabula Muris</text>
<line x1="618.40" y1="440.80" x2="626.70" y2="440.80" stroke="#ef5b36" stroke-width="1.1"/>
<text x="632.40" y="443.40" font-size="9.2" fill="#3c3c3c">Global aging</text>
<text x="610.90" y="462.40" font-size="6.8" fill="#444">NES (<tspan font-style="italic">P</tspan>):</text>
<text x="610.90" y="471.00" font-size="7.4" fill="#2f7fc6">1.56 (0.024)</text>
<text x="610.90" y="479.00" font-size="7.4" fill="#2a9a5a">0.95 (0.54)</text>
<text x="610.90" y="487.00" font-size="7.4" fill="#f2935f">2.07 (0.0)</text>
<text x="479.85" y="418.70" font-size="15" fill="#111" font-weight="bold" stroke="#111" stroke-width="0.45">i</text>
<text x="489.90" y="489.20" font-size="10.8" fill="#3c3c3c" text-anchor="middle" transform="rotate(-90 489.90 489.20)">Enrichment score</text>
<text x="675.80" y="454.20" font-size="10.6" fill="#9a9a9a" transform="rotate(90 675.80 454.20)">Ranked metric</text>
<text x="585.50" y="625.60" font-size="10.45" fill="#3c3c3c" text-anchor="middle">Rank (aged sg<tspan font-style="italic">Pten</tspan> versus young sg<tspan font-style="italic">Pten</tspan>)</text>
<text x="466.20" y="256.80" font-size="15" fill="#111" font-weight="bold" stroke="#111" stroke-width="0.45">f</text>
<text x="597.40" y="258.50" font-size="9.15" fill="#3c3c3c" text-anchor="end">Pathway activity score</text>
<text x="597.40" y="268.70" font-size="9.15" fill="#3c3c3c" text-anchor="end">(aged versus young</text>
<text x="597.40" y="279.40" font-size="9.15" fill="#3c3c3c" text-anchor="end">sg<tspan font-style="italic">Inert</tspan> cancer cells)</text>
<defs><linearGradient id="gf" x1="0" y1="0" x2="1" y2="0"><stop offset="0.0000" stop-color="#e8283a"/><stop offset="0.3307" stop-color="#f08a78"/><stop offset="0.6614" stop-color="#ffffff"/><stop offset="1.0000" stop-color="#8e8dc3"/></linearGradient></defs>
<rect x="601.10" y="257.90" width="82.10" height="16.20" fill="url(#gf)" stroke="#777" stroke-width="0.8"/>
<line x1="617.40" y1="257.90" x2="617.40" y2="260.30" stroke="#777" stroke-width="0.8"/>
<line x1="617.40" y1="271.70" x2="617.40" y2="274.10" stroke="#777" stroke-width="0.8"/>
<text x="617.40" y="286.50" font-size="9.2" fill="#3c3c3c" text-anchor="middle">4</text>
<line x1="636.40" y1="257.90" x2="636.40" y2="260.30" stroke="#777" stroke-width="0.8"/>
<line x1="636.40" y1="271.70" x2="636.40" y2="274.10" stroke="#777" stroke-width="0.8"/>
<text x="636.40" y="286.50" font-size="9.2" fill="#3c3c3c" text-anchor="middle">2</text>
<line x1="655.40" y1="257.90" x2="655.40" y2="260.30" stroke="#777" stroke-width="0.8"/>
<line x1="655.40" y1="271.70" x2="655.40" y2="274.10" stroke="#777" stroke-width="0.8"/>
<text x="655.40" y="286.50" font-size="9.2" fill="#3c3c3c" text-anchor="middle">0</text>
<line x1="674.40" y1="257.90" x2="674.40" y2="260.30" stroke="#777" stroke-width="0.8"/>
<line x1="674.40" y1="271.70" x2="674.40" y2="274.10" stroke="#777" stroke-width="0.8"/>
<text x="672.90" y="286.50" font-size="9.2" fill="#3c3c3c" text-anchor="middle">−2</text>
<text x="466.40" y="296.20" font-size="9.15" fill="#3c3c3c">Higher in aged</text>
<text x="684.00" y="298.80" font-size="9.15" fill="#3c3c3c" text-anchor="end">Lower in aged</text>
<rect x="467.50" y="303.00" width="15.45" height="17.80" fill="#e8283c"/>
<rect x="482.95" y="303.00" width="15.45" height="17.80" fill="#ec6e58"/>
<rect x="498.40" y="303.00" width="15.45" height="17.80" fill="#f2bfb0"/>
<rect x="513.85" y="303.00" width="15.45" height="17.80" fill="#f5c3b4"/>
<rect x="529.30" y="303.00" width="15.45" height="17.80" fill="#f7dcd2"/>
<rect x="544.75" y="303.00" width="15.45" height="17.80" fill="#fdfcfc"/>
<rect x="560.20" y="303.00" width="15.45" height="17.80" fill="#f3f1f6"/>
<rect x="575.65" y="303.00" width="15.45" height="17.80" fill="#f1eff6"/>
<rect x="591.10" y="303.00" width="15.45" height="17.80" fill="#d9d5ea"/>
<rect x="606.55" y="303.00" width="15.45" height="17.80" fill="#c5c0de"/>
<rect x="622.00" y="303.00" width="15.45" height="17.80" fill="#bbb6d8"/>
<rect x="637.45" y="303.00" width="15.45" height="17.80" fill="#a9a6d0"/>
<rect x="652.90" y="303.00" width="15.45" height="17.80" fill="#a8a5cf"/>
<rect x="668.35" y="303.00" width="15.45" height="17.80" fill="#9493c6"/>
<rect x="467.50" y="303.00" width="15.45" height="17.80" fill="none" stroke="#3a3a3a" stroke-width="0.9"/>
<text x="475.12" y="318.59" font-size="13.5" fill="#2a2a2a" text-anchor="middle">*</text>
<line x1="475.23" y1="320.80" x2="475.23" y2="323.80" stroke="#666" stroke-width="0.8"/>
<text x="478.23" y="327.10" font-size="8.35" fill="#3c3c3c" text-anchor="end" transform="rotate(-90 478.23 327.10)">JAK–STAT</text>
<rect x="482.95" y="303.00" width="15.45" height="17.80" fill="none" stroke="#3a3a3a" stroke-width="0.9"/>
<text x="490.57" y="318.59" font-size="13.5" fill="#2a2a2a" text-anchor="middle">*</text>
<line x1="490.68" y1="320.80" x2="490.68" y2="323.80" stroke="#666" stroke-width="0.8"/>
<text x="493.68" y="327.10" font-size="8.35" fill="#3c3c3c" text-anchor="end" transform="rotate(-90 493.68 327.10)">TNFa</text>
<rect x="498.40" y="303.00" width="15.45" height="17.80" fill="none" stroke="#3a3a3a" stroke-width="0.9"/>
<line x1="506.12" y1="320.80" x2="506.12" y2="323.80" stroke="#666" stroke-width="0.8"/>
<text x="509.12" y="327.10" font-size="8.35" fill="#3c3c3c" text-anchor="end" transform="rotate(-90 509.12 327.10)">Trail</text>
<rect x="513.85" y="303.00" width="15.45" height="17.80" fill="none" stroke="#3a3a3a" stroke-width="0.9"/>
<line x1="521.58" y1="320.80" x2="521.58" y2="323.80" stroke="#666" stroke-width="0.8"/>
<text x="524.58" y="327.10" font-size="8.35" fill="#3c3c3c" text-anchor="end" transform="rotate(-90 524.58 327.10)">Estrogen</text>
<rect x="529.30" y="303.00" width="15.45" height="17.80" fill="none" stroke="#3a3a3a" stroke-width="0.9"/>
<line x1="537.02" y1="320.80" x2="537.02" y2="323.80" stroke="#666" stroke-width="0.8"/>
<text x="540.02" y="327.10" font-size="8.35" fill="#3c3c3c" text-anchor="end" transform="rotate(-90 540.02 327.10)">p53</text>
<rect x="544.75" y="303.00" width="15.45" height="17.80" fill="none" stroke="#3a3a3a" stroke-width="0.9"/>
<line x1="552.48" y1="320.80" x2="552.48" y2="323.80" stroke="#666" stroke-width="0.8"/>
<text x="555.48" y="327.10" font-size="8.35" fill="#3c3c3c" text-anchor="end" transform="rotate(-90 555.48 327.10)">WNT</text>
<rect x="560.20" y="303.00" width="15.45" height="17.80" fill="none" stroke="#3a3a3a" stroke-width="0.9"/>
<line x1="567.93" y1="320.80" x2="567.93" y2="323.80" stroke="#666" stroke-width="0.8"/>
<text x="570.93" y="327.10" font-size="8.35" fill="#3c3c3c" text-anchor="end" transform="rotate(-90 570.93 327.10)">EGFR</text>
<rect x="575.65" y="303.00" width="15.45" height="17.80" fill="none" stroke="#3a3a3a" stroke-width="0.9"/>
<line x1="583.38" y1="320.80" x2="583.38" y2="323.80" stroke="#666" stroke-width="0.8"/>
<text x="586.38" y="327.10" font-size="8.35" fill="#3c3c3c" text-anchor="end" transform="rotate(-90 586.38 327.10)">PI3K</text>
<rect x="591.10" y="303.00" width="15.45" height="17.80" fill="none" stroke="#3a3a3a" stroke-width="0.9"/>
<line x1="598.83" y1="320.80" x2="598.83" y2="323.80" stroke="#666" stroke-width="0.8"/>
<text x="601.83" y="327.10" font-size="8.35" fill="#3c3c3c" text-anchor="end" transform="rotate(-90 601.83 327.10)">Androgen</text>
<rect x="606.55" y="303.00" width="15.45" height="17.80" fill="none" stroke="#3a3a3a" stroke-width="0.9"/>
<line x1="614.27" y1="320.80" x2="614.27" y2="323.80" stroke="#666" stroke-width="0.8"/>
<text x="617.27" y="327.10" font-size="8.35" fill="#3c3c3c" text-anchor="end" transform="rotate(-90 617.27 327.10)">NFkB</text>
<rect x="622.00" y="303.00" width="15.45" height="17.80" fill="none" stroke="#3a3a3a" stroke-width="0.9"/>
<line x1="629.73" y1="320.80" x2="629.73" y2="323.80" stroke="#666" stroke-width="0.8"/>
<text x="632.73" y="327.10" font-size="8.35" fill="#3c3c3c" text-anchor="end" transform="rotate(-90 632.73 327.10)">Hypoxia</text>
<rect x="637.45" y="303.00" width="15.45" height="17.80" fill="none" stroke="#3a3a3a" stroke-width="0.9"/>
<text x="645.08" y="318.59" font-size="13.5" fill="#2a2a2a" text-anchor="middle">*</text>
<line x1="645.18" y1="320.80" x2="645.18" y2="323.80" stroke="#666" stroke-width="0.8"/>
<text x="648.18" y="327.10" font-size="8.35" fill="#3c3c3c" text-anchor="end" transform="rotate(-90 648.18 327.10)">VEGF</text>
<rect x="652.90" y="303.00" width="15.45" height="17.80" fill="none" stroke="#3a3a3a" stroke-width="0.9"/>
<text x="660.52" y="318.59" font-size="13.5" fill="#2a2a2a" text-anchor="middle">*</text>
<line x1="660.62" y1="320.80" x2="660.62" y2="323.80" stroke="#666" stroke-width="0.8"/>
<text x="663.62" y="327.10" font-size="8.35" fill="#3c3c3c" text-anchor="end" transform="rotate(-90 663.62 327.10)">TGFb</text>
<rect x="668.35" y="303.00" width="15.45" height="17.80" fill="none" stroke="#3a3a3a" stroke-width="0.9"/>
<text x="675.98" y="318.59" font-size="13.5" fill="#2a2a2a" text-anchor="middle">*</text>
<line x1="676.08" y1="320.80" x2="676.08" y2="323.80" stroke="#666" stroke-width="0.8"/>
<text x="679.08" y="327.10" font-size="8.35" fill="#3c3c3c" text-anchor="end" transform="rotate(-90 679.08 327.10)">MAPK</text>
<text x="-0.60" y="418.80" font-size="15" fill="#111" font-weight="bold" stroke="#111" stroke-width="0.45">g</text>
<text x="192.00" y="452.50" font-size="9.1" fill="#3c3c3c" text-anchor="end">Pathway activity score</text>
<text x="192.00" y="462.30" font-size="9.1" fill="#3c3c3c" text-anchor="end">(sg<tspan font-style="italic">Pten</tspan> versus sg<tspan font-style="italic">Inert</tspan> cancer cells)</text>
<defs><linearGradient id="gg" x1="0" y1="0" x2="1" y2="0"><stop offset="0.0000" stop-color="#e8283a"/><stop offset="0.2654" stop-color="#f08a78"/><stop offset="0.5308" stop-color="#ffffff"/><stop offset="0.7654" stop-color="#a5a8d2"/><stop offset="1.0000" stop-color="#4a5fa8"/></linearGradient></defs>
<rect x="203.10" y="447.40" width="79.50" height="15.60" fill="url(#gg)" stroke="#777" stroke-width="0.8"/>
<line x1="204.40" y1="447.40" x2="204.40" y2="449.80" stroke="#777" stroke-width="0.8"/>
<line x1="204.40" y1="460.60" x2="204.40" y2="463.00" stroke="#777" stroke-width="0.8"/>
<text x="204.40" y="474.20" font-size="9.2" fill="#3c3c3c" text-anchor="middle">6</text>
<line x1="224.85" y1="447.40" x2="224.85" y2="449.80" stroke="#777" stroke-width="0.8"/>
<line x1="224.85" y1="460.60" x2="224.85" y2="463.00" stroke="#777" stroke-width="0.8"/>
<text x="224.85" y="474.20" font-size="9.2" fill="#3c3c3c" text-anchor="middle">3</text>
<line x1="245.30" y1="447.40" x2="245.30" y2="449.80" stroke="#777" stroke-width="0.8"/>
<line x1="245.30" y1="460.60" x2="245.30" y2="463.00" stroke="#777" stroke-width="0.8"/>
<text x="245.30" y="474.20" font-size="9.2" fill="#3c3c3c" text-anchor="middle">0</text>
<line x1="265.75" y1="447.40" x2="265.75" y2="449.80" stroke="#777" stroke-width="0.8"/>
<line x1="265.75" y1="460.60" x2="265.75" y2="463.00" stroke="#777" stroke-width="0.8"/>
<text x="264.25" y="474.20" font-size="9.2" fill="#3c3c3c" text-anchor="middle">−3</text>
<text x="36.80" y="483.80" font-size="9.0" fill="#3c3c3c">Higher in sg<tspan font-style="italic">Pten</tspan></text>
<text x="210.60" y="485.10" font-size="9.0" fill="#3c3c3c">Lower in sg<tspan font-style="italic">Pten</tspan></text>
<rect x="41.90" y="491.40" width="16.87" height="16.80" fill="#e8283a"/>
<rect x="58.77" y="491.40" width="16.87" height="16.80" fill="#ec7f66"/>
<rect x="75.64" y="491.40" width="16.87" height="16.80" fill="#f4c2b1"/>
<rect x="92.51" y="491.40" width="16.87" height="16.80" fill="#f5c6b6"/>
<rect x="109.38" y="491.40" width="16.87" height="16.80" fill="#f8dfd6"/>
<rect x="126.25" y="491.40" width="16.87" height="16.80" fill="#f8dfd6"/>
<rect x="143.12" y="491.40" width="16.87" height="16.80" fill="#f9ebe5"/>
<rect x="159.99" y="491.40" width="16.87" height="16.80" fill="#fbefe9"/>
<rect x="176.86" y="491.40" width="16.87" height="16.80" fill="#faebe4"/>
<rect x="193.73" y="491.40" width="16.87" height="16.80" fill="#fafafa"/>
<rect x="210.60" y="491.40" width="16.87" height="16.80" fill="#bdbbda"/>
<rect x="227.47" y="491.40" width="16.87" height="16.80" fill="#bdbbda"/>
<rect x="244.34" y="491.40" width="16.87" height="16.80" fill="#b0aed4"/>
<rect x="261.21" y="491.40" width="16.87" height="16.80" fill="#a6a4ce"/>
<rect x="41.90" y="508.20" width="16.87" height="16.90" fill="#fae6de"/>
<rect x="58.77" y="508.20" width="16.87" height="16.90" fill="#ea7a60"/>
<rect x="75.64" y="508.20" width="16.87" height="16.90" fill="#f2a993"/>
<rect x="92.51" y="508.20" width="16.87" height="16.90" fill="#a9a8d0"/>
<rect x="109.38" y="508.20" width="16.87" height="16.90" fill="#fbfaf8"/>
<rect x="126.25" y="508.20" width="16.87" height="16.90" fill="#d0cde4"/>
<rect x="143.12" y="508.20" width="16.87" height="16.90" fill="#f5c9bb"/>
<rect x="159.99" y="508.20" width="16.87" height="16.90" fill="#cfcde5"/>
<rect x="176.86" y="508.20" width="16.87" height="16.90" fill="#f4c6b6"/>
<rect x="193.73" y="508.20" width="16.87" height="16.90" fill="#fbece6"/>
<rect x="210.60" y="508.20" width="16.87" height="16.90" fill="#f6cfc2"/>
<rect x="227.47" y="508.20" width="16.87" height="16.90" fill="#8587c0"/>
<rect x="244.34" y="508.20" width="16.87" height="16.90" fill="#dcd8ea"/>
<rect x="261.21" y="508.20" width="16.87" height="16.90" fill="#4a63ad"/>
<rect x="41.90" y="491.40" width="16.87" height="16.80" fill="none" stroke="#3a3a3a" stroke-width="0.9"/>
<text x="50.23" y="506.49" font-size="13.5" fill="#2a2a2a" text-anchor="middle">*</text>
<rect x="58.77" y="491.40" width="16.87" height="16.80" fill="none" stroke="#3a3a3a" stroke-width="0.9"/>
<text x="67.11" y="506.49" font-size="13.5" fill="#2a2a2a" text-anchor="middle">*</text>
<rect x="75.64" y="491.40" width="16.87" height="16.80" fill="none" stroke="#3a3a3a" stroke-width="0.9"/>
<rect x="92.51" y="491.40" width="16.87" height="16.80" fill="none" stroke="#3a3a3a" stroke-width="0.9"/>
<rect x="109.38" y="491.40" width="16.87" height="16.80" fill="none" stroke="#3a3a3a" stroke-width="0.9"/>
<rect x="126.25" y="491.40" width="16.87" height="16.80" fill="none" stroke="#3a3a3a" stroke-width="0.9"/>
<rect x="143.12" y="491.40" width="16.87" height="16.80" fill="none" stroke="#3a3a3a" stroke-width="0.9"/>
<rect x="159.99" y="491.40" width="16.87" height="16.80" fill="none" stroke="#3a3a3a" stroke-width="0.9"/>
<rect x="176.86" y="491.40" width="16.87" height="16.80" fill="none" stroke="#3a3a3a" stroke-width="0.9"/>
<rect x="193.73" y="491.40" width="16.87" height="16.80" fill="none" stroke="#3a3a3a" stroke-width="0.9"/>
<rect x="210.60" y="491.40" width="16.87" height="16.80" fill="none" stroke="#3a3a3a" stroke-width="0.9"/>
<rect x="227.47" y="491.40" width="16.87" height="16.80" fill="none" stroke="#3a3a3a" stroke-width="0.9"/>
<rect x="244.34" y="491.40" width="16.87" height="16.80" fill="none" stroke="#3a3a3a" stroke-width="0.9"/>
<text x="252.68" y="506.49" font-size="13.5" fill="#2a2a2a" text-anchor="middle">*</text>
<rect x="261.21" y="491.40" width="16.87" height="16.80" fill="none" stroke="#3a3a3a" stroke-width="0.9"/>
<text x="269.54" y="506.49" font-size="13.5" fill="#2a2a2a" text-anchor="middle">*</text>
<rect x="41.90" y="508.20" width="16.87" height="16.90" fill="none" stroke="#3a3a3a" stroke-width="0.9"/>
<rect x="58.77" y="508.20" width="16.87" height="16.90" fill="none" stroke="#3a3a3a" stroke-width="0.9"/>
<text x="67.11" y="523.34" font-size="13.5" fill="#2a2a2a" text-anchor="middle">*</text>
<rect x="75.64" y="508.20" width="16.87" height="16.90" fill="none" stroke="#3a3a3a" stroke-width="0.9"/>
<text x="83.98" y="523.34" font-size="13.5" fill="#2a2a2a" text-anchor="middle">*</text>
<rect x="92.51" y="508.20" width="16.87" height="16.90" fill="none" stroke="#3a3a3a" stroke-width="0.9"/>
<text x="100.84" y="523.34" font-size="13.5" fill="#2a2a2a" text-anchor="middle">*</text>
<rect x="109.38" y="508.20" width="16.87" height="16.90" fill="none" stroke="#3a3a3a" stroke-width="0.9"/>
<rect x="126.25" y="508.20" width="16.87" height="16.90" fill="none" stroke="#3a3a3a" stroke-width="0.9"/>
<rect x="143.12" y="508.20" width="16.87" height="16.90" fill="none" stroke="#3a3a3a" stroke-width="0.9"/>
<rect x="159.99" y="508.20" width="16.87" height="16.90" fill="none" stroke="#3a3a3a" stroke-width="0.9"/>
<rect x="176.86" y="508.20" width="16.87" height="16.90" fill="none" stroke="#3a3a3a" stroke-width="0.9"/>
<rect x="193.73" y="508.20" width="16.87" height="16.90" fill="none" stroke="#3a3a3a" stroke-width="0.9"/>
<rect x="210.60" y="508.20" width="16.87" height="16.90" fill="none" stroke="#3a3a3a" stroke-width="0.9"/>
<rect x="227.47" y="508.20" width="16.87" height="16.90" fill="none" stroke="#3a3a3a" stroke-width="0.9"/>
<text x="235.81" y="523.34" font-size="13.5" fill="#2a2a2a" text-anchor="middle">*</text>
<rect x="244.34" y="508.20" width="16.87" height="16.90" fill="none" stroke="#3a3a3a" stroke-width="0.9"/>
<rect x="261.21" y="508.20" width="16.87" height="16.90" fill="none" stroke="#3a3a3a" stroke-width="0.9"/>
<text x="269.54" y="523.34" font-size="13.5" fill="#2a2a2a" text-anchor="middle">*</text>
<line x1="50.34" y1="525.10" x2="50.34" y2="528.00" stroke="#666" stroke-width="0.8"/>
<text x="53.34" y="531.30" font-size="8.45" fill="#3c3c3c" text-anchor="end" transform="rotate(-90 53.34 531.30)">p53</text>
<line x1="67.20" y1="525.10" x2="67.20" y2="528.00" stroke="#666" stroke-width="0.8"/>
<text x="70.20" y="531.30" font-size="8.45" fill="#3c3c3c" text-anchor="end" transform="rotate(-90 70.20 531.30)">PI3K</text>
<line x1="84.08" y1="525.10" x2="84.08" y2="528.00" stroke="#666" stroke-width="0.8"/>
<text x="87.08" y="531.30" font-size="8.45" fill="#3c3c3c" text-anchor="end" transform="rotate(-90 87.08 531.30)">VEGF</text>
<line x1="100.94" y1="525.10" x2="100.94" y2="528.00" stroke="#666" stroke-width="0.8"/>
<text x="103.94" y="531.30" font-size="8.45" fill="#3c3c3c" text-anchor="end" transform="rotate(-90 103.94 531.30)">JAK–STAT</text>
<line x1="117.81" y1="525.10" x2="117.81" y2="528.00" stroke="#666" stroke-width="0.8"/>
<text x="120.81" y="531.30" font-size="8.45" fill="#3c3c3c" text-anchor="end" transform="rotate(-90 120.81 531.30)">NFkB</text>
<line x1="134.69" y1="525.10" x2="134.69" y2="528.00" stroke="#666" stroke-width="0.8"/>
<text x="137.69" y="531.30" font-size="8.45" fill="#3c3c3c" text-anchor="end" transform="rotate(-90 137.69 531.30)">Estrogen</text>
<line x1="151.56" y1="525.10" x2="151.56" y2="528.00" stroke="#666" stroke-width="0.8"/>
<text x="154.56" y="531.30" font-size="8.45" fill="#3c3c3c" text-anchor="end" transform="rotate(-90 154.56 531.30)">WNT</text>
<line x1="168.43" y1="525.10" x2="168.43" y2="528.00" stroke="#666" stroke-width="0.8"/>
<text x="171.43" y="531.30" font-size="8.45" fill="#3c3c3c" text-anchor="end" transform="rotate(-90 171.43 531.30)">Trail</text>
<line x1="185.30" y1="525.10" x2="185.30" y2="528.00" stroke="#666" stroke-width="0.8"/>
<text x="188.30" y="531.30" font-size="8.45" fill="#3c3c3c" text-anchor="end" transform="rotate(-90 188.30 531.30)">TGFb</text>
<line x1="202.17" y1="525.10" x2="202.17" y2="528.00" stroke="#666" stroke-width="0.8"/>
<text x="205.17" y="531.30" font-size="8.45" fill="#3c3c3c" text-anchor="end" transform="rotate(-90 205.17 531.30)">Hypoxia</text>
<line x1="219.04" y1="525.10" x2="219.04" y2="528.00" stroke="#666" stroke-width="0.8"/>
<text x="222.04" y="531.30" font-size="8.45" fill="#3c3c3c" text-anchor="end" transform="rotate(-90 222.04 531.30)">MAPK</text>
<line x1="235.91" y1="525.10" x2="235.91" y2="528.00" stroke="#666" stroke-width="0.8"/>
<text x="238.91" y="531.30" font-size="8.45" fill="#3c3c3c" text-anchor="end" transform="rotate(-90 238.91 531.30)">EGFR</text>
<line x1="252.78" y1="525.10" x2="252.78" y2="528.00" stroke="#666" stroke-width="0.8"/>
<text x="255.78" y="531.30" font-size="8.45" fill="#3c3c3c" text-anchor="end" transform="rotate(-90 255.78 531.30)">Androgen</text>
<line x1="269.64" y1="525.10" x2="269.64" y2="528.00" stroke="#666" stroke-width="0.8"/>
<text x="272.64" y="531.30" font-size="8.45" fill="#3c3c3c" text-anchor="end" transform="rotate(-90 272.64 531.30)">TNFa</text>
<line x1="40.20" y1="499.80" x2="41.90" y2="499.80" stroke="#666" stroke-width="0.8"/>
<line x1="40.20" y1="516.60" x2="41.90" y2="516.60" stroke="#666" stroke-width="0.8"/>
<text x="37.40" y="501.50" font-size="9.35" fill="#3c3c3c" text-anchor="end">Young</text>
<text x="37.40" y="520.30" font-size="9.35" fill="#3c3c3c" text-anchor="end">Aged</text>
<text x="301.50" y="419.00" font-size="15" fill="#111" font-weight="bold" stroke="#111" stroke-width="0.45">h</text>
<rect x="363.40" y="411.10" width="8.40" height="8.40" fill="#8a5a80" stroke="#555" stroke-width="0.6"/>
<text x="376.90" y="417.80" font-size="9.2" fill="#3c3c3c">In both young and aged</text>
<rect x="363.40" y="424.90" width="8.40" height="8.40" fill="#2f3547" stroke="#555" stroke-width="0.6"/>
<text x="376.90" y="431.60" font-size="9.2" fill="#3c3c3c">Only in young</text>
<rect x="363.40" y="438.80" width="8.40" height="8.40" fill="#8593b8" stroke="#555" stroke-width="0.6"/>
<text x="376.90" y="445.50" font-size="9.2" fill="#3c3c3c">Only in aged</text>
<line x1="356.50" y1="492.70" x2="436.50" y2="492.70" stroke="#9a9a9a" stroke-width="1.0"/>
<rect x="364.20" y="486.80" width="7.20" height="15.04" fill="#8a5a80" stroke="#444" stroke-width="0.5"/>
<rect x="371.40" y="484.74" width="7.00" height="16.81" fill="#2f3547" stroke="#444" stroke-width="0.5"/>
<rect x="378.40" y="480.01" width="7.30" height="33.92" fill="#8593b8" stroke="#444" stroke-width="0.5"/>
<rect x="388.50" y="492.58" width="6.70" height="0.12" fill="#8a5a80" stroke="#444" stroke-width="0.5"/>
<rect x="395.20" y="486.33" width="7.20" height="6.37" fill="#2f3547" stroke="#444" stroke-width="0.5"/>
<rect x="402.40" y="482.38" width="7.20" height="45.13" fill="#8593b8" stroke="#444" stroke-width="0.5"/>
<rect x="412.30" y="485.15" width="7.10" height="13.45" fill="#8a5a80" stroke="#444" stroke-width="0.5"/>
<rect x="419.40" y="470.46" width="7.20" height="32.27" fill="#2f3547" stroke="#444" stroke-width="0.5"/>
<rect x="426.60" y="449.33" width="7.00" height="118.00" fill="#8593b8" stroke="#444" stroke-width="0.5"/>
<line x1="356.50" y1="492.70" x2="436.50" y2="492.70" stroke="#8a8a8a" stroke-width="0.6" stroke-opacity="0.6"/>
<line x1="360.50" y1="440.40" x2="360.50" y2="575.30" stroke="#777" stroke-width="0.9"/>
<line x1="360.10" y1="575.30" x2="436.70" y2="575.30" stroke="#777" stroke-width="0.9"/>
<line x1="356.60" y1="463.20" x2="360.50" y2="463.20" stroke="#777" stroke-width="0.8"/>
<text x="351.80" y="466.50" font-size="9.3" fill="#3c3c3c" text-anchor="end">500</text>
<line x1="356.60" y1="492.70" x2="360.50" y2="492.70" stroke="#777" stroke-width="0.8"/>
<text x="351.80" y="496.00" font-size="9.3" fill="#3c3c3c" text-anchor="end">0</text>
<line x1="356.60" y1="522.20" x2="360.50" y2="522.20" stroke="#777" stroke-width="0.8"/>
<text x="351.80" y="525.50" font-size="9.3" fill="#3c3c3c" text-anchor="end">500</text>
<line x1="356.60" y1="551.70" x2="360.50" y2="551.70" stroke="#777" stroke-width="0.8"/>
<text x="351.80" y="555.00" font-size="9.3" fill="#3c3c3c" text-anchor="end">1,000</text>
<line x1="374.30" y1="575.30" x2="374.30" y2="578.30" stroke="#777" stroke-width="0.8"/>
<line x1="398.40" y1="575.30" x2="398.40" y2="578.30" stroke="#777" stroke-width="0.8"/>
<line x1="422.80" y1="575.30" x2="422.80" y2="578.30" stroke="#777" stroke-width="0.8"/>
<text x="310.00" y="508.50" font-size="11.1" fill="#3c3c3c" text-anchor="middle" transform="rotate(-90 310.00 508.50)">Number of genes differentially</text>
<text x="322.30" y="508.50" font-size="11.0" fill="#3c3c3c" text-anchor="middle" transform="rotate(-90 322.30 508.50)">expressed with <tspan font-style="italic">Pten</tspan> inactivation</text>
<text x="378.20" y="581.80" font-size="8.5" fill="#3c3c3c" text-anchor="end" transform="rotate(-90 378.20 581.80)">Cancer cells</text>
<text x="396.40" y="581.80" font-size="8.5" fill="#3c3c3c" text-anchor="end" transform="rotate(-90 396.40 581.80)">Endothelial</text>
<text x="405.00" y="581.80" font-size="8.5" fill="#3c3c3c" text-anchor="end" transform="rotate(-90 405.00 581.80)">cells</text>
<text x="421.00" y="581.80" font-size="8.5" fill="#3c3c3c" text-anchor="end" transform="rotate(-90 421.00 581.80)">Alveolar</text>
<text x="429.80" y="581.80" font-size="8.5" fill="#3c3c3c" text-anchor="end" transform="rotate(-90 429.80 581.80)">Macropages</text>
<line x1="440.40" y1="432.00" x2="440.40" y2="555.50" stroke="#222" stroke-width="0.9"/>
<path d="M440.4,429.3 L438.5,434.3 L442.3,434.3 Z M440.4,558.2 L438.5,553.2 L442.3,553.2 Z" fill="#222"/>
<circle cx="440.4" cy="492.7" r="3.6" fill="#fff" stroke="#222" stroke-width="1.0"/>
<text x="455.50" y="465.00" font-size="8.5" fill="#3c3c3c" text-anchor="middle" transform="rotate(-90 455.50 465.00)">Upregulated</text>
<text x="455.50" y="523.80" font-size="8.5" fill="#3c3c3c" text-anchor="middle" transform="rotate(-90 455.50 523.80)">Downregulated</text>
</svg></body></html>
